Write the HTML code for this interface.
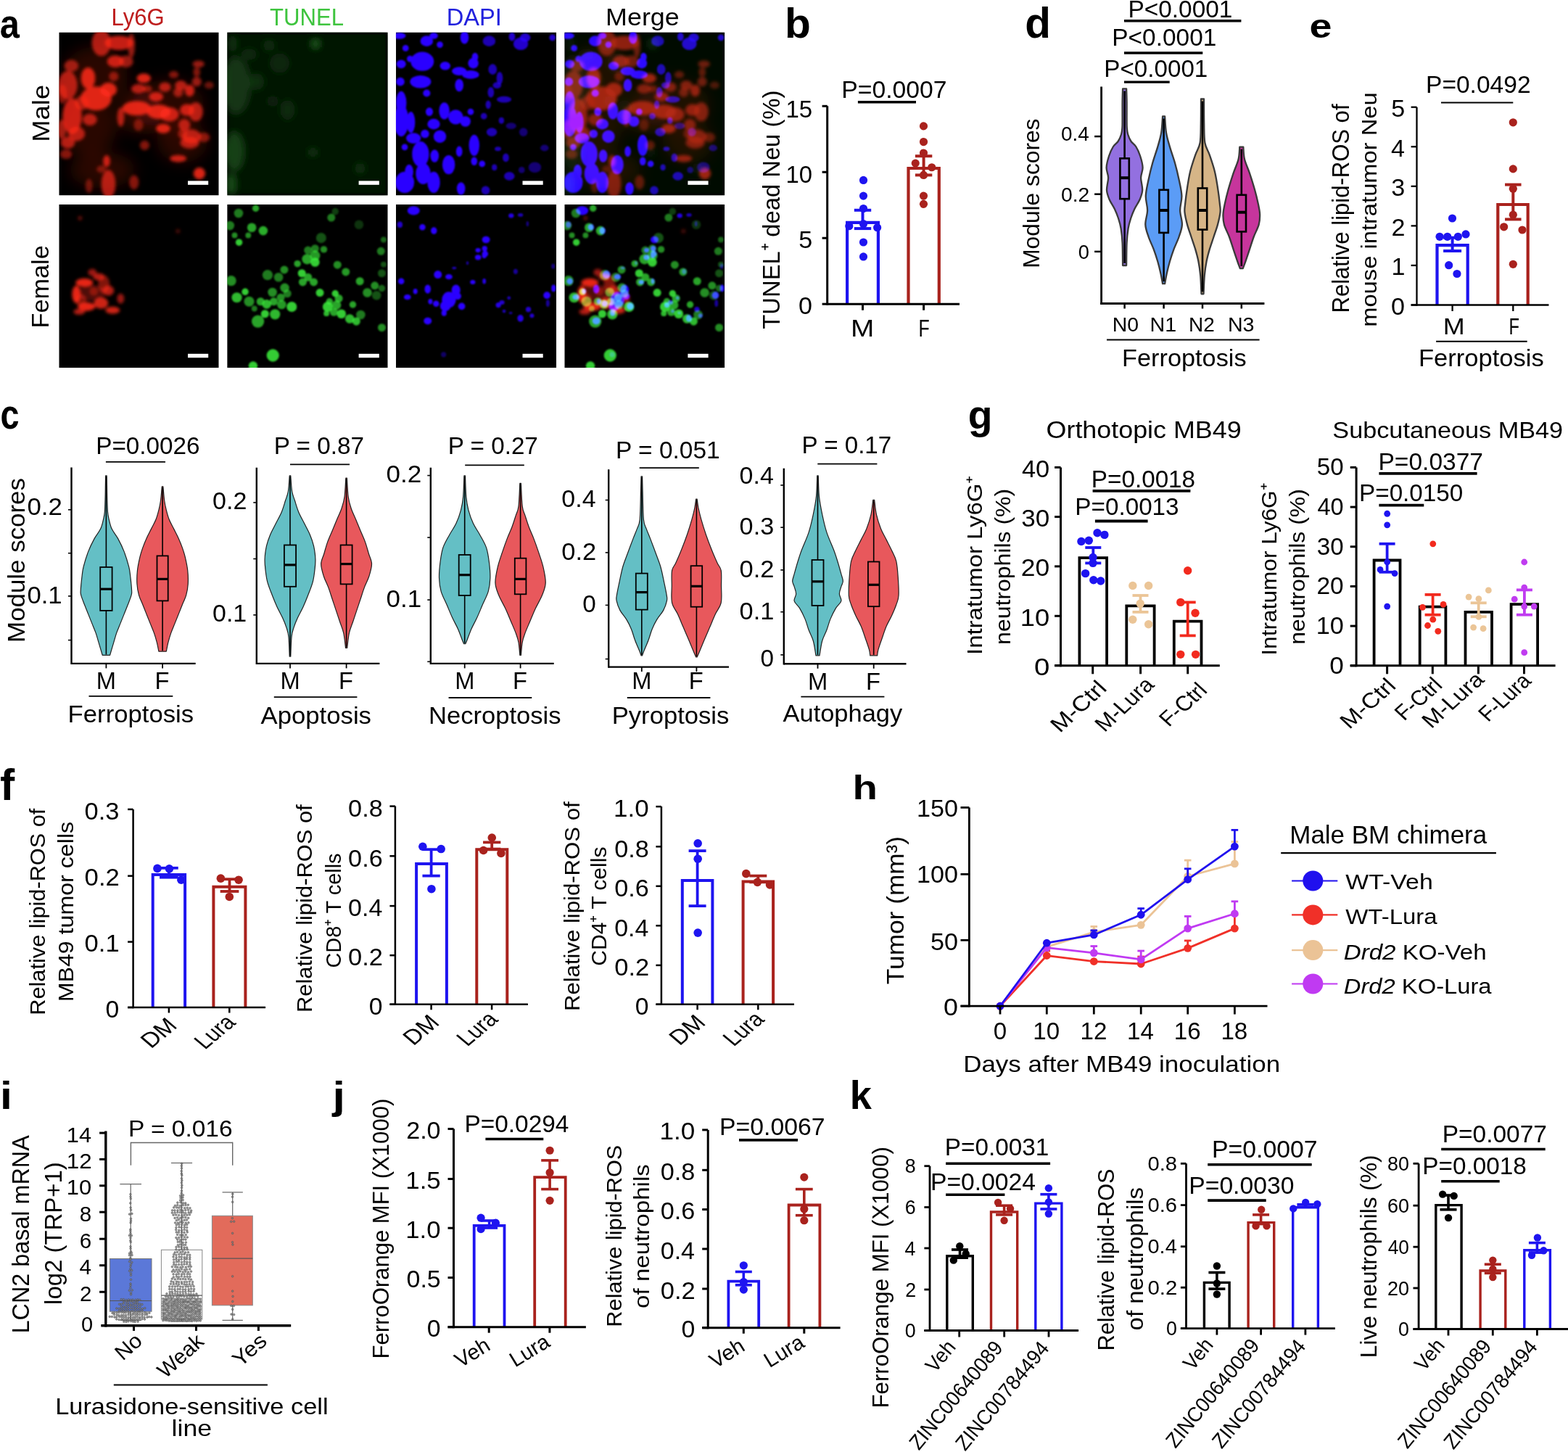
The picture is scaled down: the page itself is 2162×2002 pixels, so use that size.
<!DOCTYPE html>
<html><head><meta charset="utf-8"><title>Figure</title>
<style>html,body{margin:0;padding:0;background:#fff;}svg{display:block;}text{font-family:'Liberation Sans',sans-serif;}</style>
</head><body>
<svg xmlns="http://www.w3.org/2000/svg" xmlns:xlink="http://www.w3.org/1999/xlink" width="2162" height="2002" viewBox="0 0 2162 2002">
<rect x="0" y="0" width="2162" height="2002" fill="#fff"/>
<defs>
<filter id="bl2" x="-20%" y="-20%" width="140%" height="140%"><feGaussianBlur stdDeviation="2.2"/></filter>
<filter id="bl1" x="-20%" y="-20%" width="140%" height="140%"><feGaussianBlur stdDeviation="1.1"/></filter>
<filter id="bl4" x="-20%" y="-20%" width="140%" height="140%"><feGaussianBlur stdDeviation="5"/></filter>
<filter id="bl8" x="-50%" y="-50%" width="200%" height="200%"><feGaussianBlur stdDeviation="10"/></filter>
<g id="mR">
<g filter="url(#bl8)">
<ellipse cx="50" cy="60" rx="45" ry="40" fill="#ff2a1a" fill-opacity="0.16"/>
<ellipse cx="40" cy="130" rx="40" ry="40" fill="#ff2a1a" fill-opacity="0.16"/>
<ellipse cx="150" cy="100" rx="50" ry="35" fill="#ff2a1a" fill-opacity="0.16"/>
<ellipse cx="170" cy="150" rx="35" ry="30" fill="#ff2a1a" fill-opacity="0.16"/>
<ellipse cx="60" cy="190" rx="45" ry="25" fill="#ff2a1a" fill-opacity="0.16"/>
<ellipse cx="110" cy="110" rx="30" ry="30" fill="#ff2a1a" fill-opacity="0.16"/>
</g><g filter="url(#bl2)">
<ellipse cx="58.45" cy="14.61" rx="13.15" ry="18.08" fill="#ff2a1a" fill-opacity="0.68"/>
<ellipse cx="82.8" cy="14.61" rx="19.73" ry="9.86" fill="#ff2a1a" fill-opacity="0.77"/>
<ellipse cx="99.85" cy="18.26" rx="4.93" ry="16.44" fill="#ff2a1a" fill-opacity="0.59"/>
<ellipse cx="77.93" cy="40.18" rx="11.51" ry="8.22" fill="#ff2a1a" fill-opacity="0.77"/>
<ellipse cx="92.54" cy="40.18" rx="9.86" ry="8.22" fill="#ff2a1a" fill-opacity="0.59"/>
<ellipse cx="17.05" cy="46.27" rx="9.86" ry="8.22" fill="#ff2a1a" fill-opacity="0.59"/>
<ellipse cx="40.18" cy="63.31" rx="9.86" ry="14.79" fill="#ff2a1a" fill-opacity="0.85"/>
<ellipse cx="12.18" cy="73.05" rx="13.15" ry="19.72" fill="#ff2a1a" fill-opacity="0.68"/>
<ellipse cx="51.14" cy="91.31" rx="21.37" ry="16.44" fill="#ff2a1a" fill-opacity="0.85"/>
<ellipse cx="68.19" cy="79.14" rx="11.51" ry="9.86" fill="#ff2a1a" fill-opacity="0.85"/>
<ellipse cx="18.26" cy="115.67" rx="13.15" ry="24.66" fill="#ff2a1a" fill-opacity="0.77"/>
<ellipse cx="42.62" cy="120.54" rx="9.86" ry="8.22" fill="#ff2a1a" fill-opacity="0.68"/>
<ellipse cx="24.35" cy="140.02" rx="11.51" ry="9.86" fill="#ff2a1a" fill-opacity="0.68"/>
<ellipse cx="12.18" cy="152.19" rx="9.86" ry="8.22" fill="#ff2a1a" fill-opacity="0.68"/>
<ellipse cx="116.89" cy="63.31" rx="9.86" ry="6.57" fill="#ff2a1a" fill-opacity="0.85"/>
<ellipse cx="109.59" cy="77.92" rx="9.86" ry="6.57" fill="#ff2a1a" fill-opacity="0.68"/>
<ellipse cx="107.15" cy="104.71" rx="19.73" ry="9.86" fill="#ff2a1a" fill-opacity="0.85"/>
<ellipse cx="133.94" cy="88.88" rx="9.86" ry="6.57" fill="#ff2a1a" fill-opacity="0.77"/>
<ellipse cx="146.12" cy="75.49" rx="8.22" ry="6.57" fill="#ff2a1a" fill-opacity="0.68"/>
<ellipse cx="158.29" cy="58.44" rx="6.58" ry="4.93" fill="#ff2a1a" fill-opacity="0.51"/>
<ellipse cx="168.03" cy="73.05" rx="8.22" ry="6.57" fill="#ff2a1a" fill-opacity="0.68"/>
<ellipse cx="180.21" cy="80.36" rx="6.58" ry="8.22" fill="#ff2a1a" fill-opacity="0.77"/>
<ellipse cx="189.95" cy="68.18" rx="6.58" ry="6.57" fill="#ff2a1a" fill-opacity="0.59"/>
<ellipse cx="192.39" cy="43.83" rx="8.22" ry="4.93" fill="#ff2a1a" fill-opacity="0.59"/>
<ellipse cx="189.95" cy="54.79" rx="4.93" ry="6.57" fill="#ff2a1a" fill-opacity="0.51"/>
<ellipse cx="137.59" cy="109.58" rx="16.44" ry="9.86" fill="#ff2a1a" fill-opacity="0.85"/>
<ellipse cx="152.2" cy="113.23" rx="13.15" ry="9.86" fill="#ff2a1a" fill-opacity="0.77"/>
<ellipse cx="176.56" cy="107.14" rx="9.86" ry="8.22" fill="#ff2a1a" fill-opacity="0.77"/>
<ellipse cx="188.73" cy="109.58" rx="9.86" ry="13.15" fill="#ff2a1a" fill-opacity="0.68"/>
<ellipse cx="143.68" cy="132.71" rx="9.86" ry="6.57" fill="#ff2a1a" fill-opacity="0.85"/>
<ellipse cx="172.9" cy="127.84" rx="8.22" ry="8.22" fill="#ff2a1a" fill-opacity="0.68"/>
<ellipse cx="182.64" cy="143.67" rx="13.15" ry="9.86" fill="#ff2a1a" fill-opacity="0.68"/>
<ellipse cx="180.21" cy="152.19" rx="13.15" ry="8.22" fill="#ff2a1a" fill-opacity="0.68"/>
<ellipse cx="199.69" cy="144.89" rx="8.22" ry="6.57" fill="#ff2a1a" fill-opacity="0.51"/>
<ellipse cx="164.38" cy="174.11" rx="11.51" ry="4.93" fill="#ff2a1a" fill-opacity="0.77"/>
<ellipse cx="193.6" cy="194.81" rx="8.22" ry="8.22" fill="#ff2a1a" fill-opacity="0.85"/>
<ellipse cx="65.75" cy="177.76" rx="4.93" ry="8.22" fill="#ff2a1a" fill-opacity="0.77"/>
<ellipse cx="68.19" cy="209.42" rx="9.86" ry="19.72" fill="#ff2a1a" fill-opacity="0.68"/>
<ellipse cx="103.5" cy="206.98" rx="6.58" ry="9.86" fill="#ff2a1a" fill-opacity="0.51"/>
<ellipse cx="118.11" cy="155.84" rx="6.58" ry="6.57" fill="#ff2a1a" fill-opacity="0.51"/>
<ellipse cx="109.59" cy="127.84" rx="6.58" ry="8.22" fill="#ff2a1a" fill-opacity="0.42"/>
<ellipse cx="85.23" cy="116.88" rx="4.93" ry="13.15" fill="#ff2a1a" fill-opacity="0.68"/>
<ellipse cx="41.4" cy="211.85" rx="4.93" ry="9.86" fill="#ff2a1a" fill-opacity="0.42"/>
<ellipse cx="9.74" cy="168.02" rx="8.22" ry="6.57" fill="#ff2a1a" fill-opacity="0.51"/>
<ellipse cx="58.45" cy="188.72" rx="6.58" ry="4.93" fill="#ff2a1a" fill-opacity="0.42"/>
<ellipse cx="4.87" cy="85.23" rx="6.58" ry="13.15" fill="#ff2a1a" fill-opacity="0.51"/>
<ellipse cx="31.66" cy="97.4" rx="9.86" ry="9.86" fill="#ff2a1a" fill-opacity="0.59"/>
<ellipse cx="3.65" cy="133.93" rx="6.58" ry="13.15" fill="#ff2a1a" fill-opacity="0.59"/>
<ellipse cx="75.49" cy="60.88" rx="6.58" ry="6.57" fill="#ff2a1a" fill-opacity="0.51"/>
<ellipse cx="121.76" cy="77.92" rx="6.58" ry="4.93" fill="#ff2a1a" fill-opacity="0.51"/>
<ellipse cx="164.38" cy="82.79" rx="6.58" ry="6.57" fill="#ff2a1a" fill-opacity="0.59"/>
<ellipse cx="207" cy="73.05" rx="6.58" ry="4.93" fill="#ff2a1a" fill-opacity="0.42"/>
<ellipse cx="170.47" cy="140.02" rx="6.58" ry="6.57" fill="#ff2a1a" fill-opacity="0.51"/>
</g></g>
<g id="mB" filter="url(#bl1)">
<ellipse cx="7.27" cy="43.83" rx="6.55" ry="5.84" fill="#2a00ff" fill-opacity="1"/>
<ellipse cx="36.37" cy="40.18" rx="16" ry="13.15" fill="#2a00ff" fill-opacity="1"/>
<ellipse cx="33.94" cy="68.18" rx="14.55" ry="8.77" fill="#2a00ff" fill-opacity="1"/>
<ellipse cx="6.06" cy="68.18" rx="5.82" ry="5.84" fill="#2a00ff" fill-opacity="1"/>
<ellipse cx="42.43" cy="84.01" rx="5.09" ry="5.11" fill="#2a00ff" fill-opacity="1"/>
<ellipse cx="7.27" cy="97.4" rx="7.27" ry="16.07" fill="#2a00ff" fill-opacity="1"/>
<ellipse cx="7.27" cy="121.75" rx="10.18" ry="21.92" fill="#2a00ff" fill-opacity="1"/>
<ellipse cx="20.61" cy="124.19" rx="5.82" ry="14.61" fill="#2a00ff" fill-opacity="1"/>
<ellipse cx="24.25" cy="146.1" rx="10.18" ry="7.31" fill="#2a00ff" fill-opacity="1"/>
<ellipse cx="12.12" cy="158.28" rx="4.36" ry="4.38" fill="#2a00ff" fill-opacity="1"/>
<ellipse cx="33.94" cy="168.02" rx="11.64" ry="17.53" fill="#2a00ff" fill-opacity="1"/>
<ellipse cx="40.01" cy="140.02" rx="5.82" ry="5.84" fill="#2a00ff" fill-opacity="1"/>
<ellipse cx="52.13" cy="126.62" rx="8.73" ry="7.31" fill="#2a00ff" fill-opacity="1"/>
<ellipse cx="46.07" cy="109.58" rx="5.09" ry="5.84" fill="#2a00ff" fill-opacity="1"/>
<ellipse cx="53.34" cy="170.45" rx="5.82" ry="8.77" fill="#2a00ff" fill-opacity="1"/>
<ellipse cx="60.61" cy="143.67" rx="8.73" ry="8.77" fill="#2a00ff" fill-opacity="1"/>
<ellipse cx="18.18" cy="192.37" rx="5.82" ry="10.23" fill="#2a00ff" fill-opacity="1"/>
<ellipse cx="37.58" cy="194.81" rx="10.18" ry="14.61" fill="#2a00ff" fill-opacity="1"/>
<ellipse cx="12.12" cy="206.98" rx="13.09" ry="14.61" fill="#2a00ff" fill-opacity="1"/>
<ellipse cx="52.13" cy="206.98" rx="8.73" ry="14.61" fill="#2a00ff" fill-opacity="1"/>
<ellipse cx="42.43" cy="12.18" rx="8.73" ry="7.31" fill="#2a00ff" fill-opacity="1"/>
<ellipse cx="13.34" cy="21.92" rx="4.36" ry="4.38" fill="#2a00ff" fill-opacity="1"/>
<ellipse cx="19.4" cy="36.53" rx="4.36" ry="4.38" fill="#2a00ff" fill-opacity="1"/>
<ellipse cx="60.61" cy="17.05" rx="4.36" ry="4.38" fill="#2a00ff" fill-opacity="1"/>
<ellipse cx="67.89" cy="46.27" rx="7.27" ry="5.84" fill="#2a00ff" fill-opacity="1"/>
<ellipse cx="87.28" cy="53.57" rx="10.18" ry="5.84" fill="#2a00ff" fill-opacity="1"/>
<ellipse cx="103.04" cy="58.44" rx="11.64" ry="5.84" fill="#2a00ff" fill-opacity="1"/>
<ellipse cx="87.28" cy="73.05" rx="5.82" ry="8.77" fill="#2a00ff" fill-opacity="1"/>
<ellipse cx="66.68" cy="108.36" rx="7.27" ry="11.69" fill="#2a00ff" fill-opacity="1"/>
<ellipse cx="82.44" cy="116.88" rx="10.18" ry="10.23" fill="#2a00ff" fill-opacity="1"/>
<ellipse cx="95.77" cy="122.97" rx="7.27" ry="7.31" fill="#2a00ff" fill-opacity="1"/>
<ellipse cx="103.04" cy="109.58" rx="4.36" ry="4.38" fill="#2a00ff" fill-opacity="1"/>
<ellipse cx="106.68" cy="42.61" rx="7.27" ry="7.31" fill="#2a00ff" fill-opacity="1"/>
<ellipse cx="109.11" cy="34.09" rx="4.36" ry="5.84" fill="#2a00ff" fill-opacity="1"/>
<ellipse cx="94.56" cy="7.31" rx="5.82" ry="8.77" fill="#2a00ff" fill-opacity="1"/>
<ellipse cx="128.5" cy="12.18" rx="8.73" ry="7.31" fill="#2a00ff" fill-opacity="0.7"/>
<ellipse cx="133.35" cy="51.14" rx="5.82" ry="7.31" fill="#2a00ff" fill-opacity="0.7"/>
<ellipse cx="130.93" cy="82.79" rx="4.36" ry="7.31" fill="#2a00ff" fill-opacity="0.7"/>
<ellipse cx="127.29" cy="99.84" rx="3.64" ry="5.84" fill="#2a00ff" fill-opacity="0.7"/>
<ellipse cx="121.23" cy="115.67" rx="4.36" ry="4.38" fill="#2a00ff" fill-opacity="0.7"/>
<ellipse cx="107.89" cy="155.84" rx="7.27" ry="14.61" fill="#2a00ff" fill-opacity="1"/>
<ellipse cx="72.74" cy="182.63" rx="8.73" ry="13.15" fill="#2a00ff" fill-opacity="1"/>
<ellipse cx="87.28" cy="164.37" rx="4.36" ry="7.31" fill="#2a00ff" fill-opacity="1"/>
<ellipse cx="107.89" cy="177.76" rx="4.36" ry="5.84" fill="#2a00ff" fill-opacity="1"/>
<ellipse cx="118.8" cy="181.41" rx="4.36" ry="4.38" fill="#2a00ff" fill-opacity="1"/>
<ellipse cx="132.14" cy="137.58" rx="7.27" ry="5.84" fill="#2a00ff" fill-opacity="0.7"/>
<ellipse cx="149.11" cy="92.53" rx="10.18" ry="4.38" fill="#2a00ff" fill-opacity="0.7"/>
<ellipse cx="145.47" cy="121.75" rx="3.64" ry="4.38" fill="#2a00ff" fill-opacity="0.7"/>
<ellipse cx="158.81" cy="129.06" rx="7.27" ry="4.38" fill="#2a00ff" fill-opacity="0.45"/>
<ellipse cx="175.78" cy="137.58" rx="5.82" ry="5.84" fill="#2a00ff" fill-opacity="0.45"/>
<ellipse cx="151.54" cy="172.89" rx="4.36" ry="5.84" fill="#2a00ff" fill-opacity="0.7"/>
<ellipse cx="135.78" cy="186.28" rx="3.64" ry="4.38" fill="#2a00ff" fill-opacity="0.7"/>
<ellipse cx="156.39" cy="198.46" rx="7.27" ry="5.84" fill="#2a00ff" fill-opacity="0.7"/>
<ellipse cx="191.54" cy="186.28" rx="8.73" ry="7.31" fill="#2a00ff" fill-opacity="0.45"/>
<ellipse cx="204.88" cy="159.5" rx="5.82" ry="4.38" fill="#2a00ff" fill-opacity="0.45"/>
<ellipse cx="172.14" cy="15.83" rx="10.18" ry="8.77" fill="#2a00ff" fill-opacity="0.8"/>
<ellipse cx="178.21" cy="7.31" rx="7.27" ry="5.84" fill="#2a00ff" fill-opacity="0.8"/>
<ellipse cx="160.02" cy="6.09" rx="4.36" ry="5.84" fill="#2a00ff" fill-opacity="0.8"/>
<ellipse cx="215.79" cy="7.31" rx="4.36" ry="4.38" fill="#2a00ff" fill-opacity="0.8"/>
<ellipse cx="140.63" cy="160.71" rx="4.36" ry="2.92" fill="#2a00ff" fill-opacity="0.7"/>
<ellipse cx="89.71" cy="215.5" rx="5.82" ry="8.77" fill="#2a00ff" fill-opacity="1"/>
<ellipse cx="123.65" cy="217.94" rx="5.82" ry="5.84" fill="#2a00ff" fill-opacity="0.7"/>
<ellipse cx="173.36" cy="189.94" rx="4.36" ry="4.38" fill="#2a00ff" fill-opacity="0.45"/>
<ellipse cx="143.05" cy="63.31" rx="4.36" ry="8.77" fill="#2a00ff" fill-opacity="0.7"/>
<ellipse cx="139.41" cy="73.05" rx="5.82" ry="4.38" fill="#2a00ff" fill-opacity="0.7"/>
<ellipse cx="4.85" cy="4.87" rx="8.73" ry="4.38" fill="#2a00ff" fill-opacity="1"/>
<ellipse cx="52.13" cy="4.87" rx="5.82" ry="4.38" fill="#2a00ff" fill-opacity="1"/>
</g>
<g id="mG" filter="url(#bl4)">
<rect x="0" y="0" width="221" height="225" fill="#061206"/>
<ellipse cx="12.06" cy="73.05" rx="19.3" ry="38.96" fill="#3fb03f" fill-opacity="0.22"/>
<ellipse cx="9.65" cy="164.37" rx="13.27" ry="26.79" fill="#3fb03f" fill-opacity="0.3"/>
<ellipse cx="4.83" cy="209.42" rx="7.24" ry="14.61" fill="#3fb03f" fill-opacity="0.35"/>
<ellipse cx="39.81" cy="68.18" rx="10.86" ry="10.96" fill="#3fb03f" fill-opacity="0.18"/>
<ellipse cx="121.84" cy="15.83" rx="4.83" ry="5.48" fill="#3fb03f" fill-opacity="0.5"/>
<ellipse cx="72.38" cy="42.61" rx="13.27" ry="13.39" fill="#3fb03f" fill-opacity="0.13"/>
<ellipse cx="83.24" cy="107.14" rx="9.65" ry="13.39" fill="#3fb03f" fill-opacity="0.15"/>
<ellipse cx="118.22" cy="165.58" rx="6.63" ry="4.26" fill="#3fb03f" fill-opacity="0.25"/>
<ellipse cx="183.36" cy="187.5" rx="6.63" ry="6.7" fill="#3fb03f" fill-opacity="0.2"/>
<ellipse cx="57.9" cy="18.26" rx="7.24" ry="7.31" fill="#3fb03f" fill-opacity="0.18"/>
<ellipse cx="7.24" cy="15.83" rx="6.03" ry="10.96" fill="#3fb03f" fill-opacity="0.2"/>
<ellipse cx="30.16" cy="30.44" rx="10.86" ry="7.31" fill="#3fb03f" fill-opacity="0.15"/>
<ellipse cx="62.73" cy="94.97" rx="7.24" ry="7.31" fill="#3fb03f" fill-opacity="0.12"/>
</g>
<g id="fG" filter="url(#bl1)">
<circle cx="33.93" cy="31.9" r="6.3" fill="#3cf03c" fill-opacity="0.68"/>
<circle cx="49.68" cy="36.28" r="6.3" fill="#3cf03c" fill-opacity="0.72"/>
<circle cx="3.63" cy="29.22" r="6.3" fill="#3cf03c" fill-opacity="0.51"/>
<circle cx="16.36" cy="52.35" r="4.73" fill="#3cf03c" fill-opacity="0.85"/>
<circle cx="10.3" cy="42.61" r="3.94" fill="#3cf03c" fill-opacity="0.59"/>
<circle cx="29.08" cy="42.61" r="3.94" fill="#3cf03c" fill-opacity="0.59"/>
<circle cx="15.75" cy="12.18" r="6.3" fill="#3cf03c" fill-opacity="0.51"/>
<circle cx="39.38" cy="5.48" r="4.73" fill="#3cf03c" fill-opacity="0.68"/>
<circle cx="96.93" cy="81.82" r="4.73" fill="#3cf03c" fill-opacity="0.68"/>
<circle cx="110.26" cy="75.49" r="7.09" fill="#3cf03c" fill-opacity="0.68"/>
<circle cx="121.16" cy="70.62" r="7.09" fill="#3cf03c" fill-opacity="0.64"/>
<circle cx="121.16" cy="79.75" r="6.3" fill="#3cf03c" fill-opacity="0.85"/>
<circle cx="121.16" cy="60.88" r="5.51" fill="#3cf03c" fill-opacity="0.51"/>
<circle cx="111.47" cy="63.31" r="5.51" fill="#3cf03c" fill-opacity="0.51"/>
<circle cx="133.28" cy="62.09" r="4.73" fill="#3cf03c" fill-opacity="0.59"/>
<circle cx="129.64" cy="46.27" r="7.09" fill="#3cf03c" fill-opacity="0.34"/>
<circle cx="143.58" cy="18.26" r="5.51" fill="#3cf03c" fill-opacity="0.51"/>
<circle cx="78.76" cy="90.1" r="5.51" fill="#3cf03c" fill-opacity="0.59"/>
<circle cx="55.73" cy="97.4" r="7.09" fill="#3cf03c" fill-opacity="0.51"/>
<circle cx="70.88" cy="100.45" r="6.3" fill="#3cf03c" fill-opacity="0.51"/>
<circle cx="102.99" cy="94.97" r="5.51" fill="#3cf03c" fill-opacity="0.85"/>
<circle cx="111.47" cy="100.45" r="5.51" fill="#3cf03c" fill-opacity="0.68"/>
<circle cx="104.2" cy="107.14" r="5.51" fill="#3cf03c" fill-opacity="0.68"/>
<circle cx="119.34" cy="107.14" r="5.51" fill="#3cf03c" fill-opacity="0.68"/>
<circle cx="152.06" cy="83.4" r="5.51" fill="#3cf03c" fill-opacity="0.59"/>
<circle cx="163.57" cy="93.14" r="5.51" fill="#3cf03c" fill-opacity="0.64"/>
<circle cx="182.96" cy="105.93" r="5.51" fill="#3cf03c" fill-opacity="0.68"/>
<circle cx="212.03" cy="64.53" r="5.51" fill="#3cf03c" fill-opacity="0.51"/>
<circle cx="213.25" cy="94.97" r="5.51" fill="#3cf03c" fill-opacity="0.34"/>
<circle cx="5.45" cy="105.32" r="7.09" fill="#3cf03c" fill-opacity="0.59"/>
<circle cx="24.84" cy="120.54" r="4.73" fill="#3cf03c" fill-opacity="0.85"/>
<circle cx="13.33" cy="128.45" r="7.09" fill="#3cf03c" fill-opacity="0.77"/>
<circle cx="30.29" cy="133.93" r="7.09" fill="#3cf03c" fill-opacity="0.59"/>
<circle cx="46.04" cy="133.93" r="5.51" fill="#3cf03c" fill-opacity="0.68"/>
<circle cx="54.52" cy="137.58" r="6.3" fill="#3cf03c" fill-opacity="0.77"/>
<circle cx="64.22" cy="133.93" r="5.51" fill="#3cf03c" fill-opacity="0.68"/>
<circle cx="62.4" cy="121.14" r="6.3" fill="#3cf03c" fill-opacity="0.59"/>
<circle cx="79.36" cy="115.06" r="6.3" fill="#3cf03c" fill-opacity="0.59"/>
<circle cx="73.91" cy="128.45" r="5.51" fill="#3cf03c" fill-opacity="0.59"/>
<circle cx="83" cy="122.97" r="5.51" fill="#3cf03c" fill-opacity="0.51"/>
<circle cx="75.12" cy="138.19" r="6.3" fill="#3cf03c" fill-opacity="0.64"/>
<circle cx="89.05" cy="141.23" r="7.09" fill="#3cf03c" fill-opacity="0.85"/>
<circle cx="37.56" cy="143.67" r="3.94" fill="#3cf03c" fill-opacity="0.51"/>
<circle cx="52.1" cy="150.97" r="5.51" fill="#3cf03c" fill-opacity="0.85"/>
<circle cx="66.03" cy="151.58" r="7.09" fill="#3cf03c" fill-opacity="0.77"/>
<circle cx="42.41" cy="161.32" r="8.66" fill="#3cf03c" fill-opacity="0.68"/>
<circle cx="127.83" cy="121.75" r="5.51" fill="#3cf03c" fill-opacity="0.85"/>
<circle cx="149.03" cy="122.97" r="4.73" fill="#3cf03c" fill-opacity="0.85"/>
<circle cx="153.88" cy="129.67" r="5.51" fill="#3cf03c" fill-opacity="0.68"/>
<circle cx="141.15" cy="133.93" r="4.73" fill="#3cf03c" fill-opacity="0.68"/>
<circle cx="138.73" cy="141.23" r="7.09" fill="#3cf03c" fill-opacity="0.85"/>
<circle cx="150.85" cy="138.8" r="6.3" fill="#3cf03c" fill-opacity="0.68"/>
<circle cx="147.21" cy="148.54" r="5.51" fill="#3cf03c" fill-opacity="0.68"/>
<circle cx="157.51" cy="150.97" r="6.3" fill="#3cf03c" fill-opacity="0.85"/>
<circle cx="136.91" cy="150.37" r="3.94" fill="#3cf03c" fill-opacity="0.77"/>
<circle cx="169.02" cy="157.67" r="6.3" fill="#3cf03c" fill-opacity="0.77"/>
<circle cx="178.11" cy="161.32" r="5.51" fill="#3cf03c" fill-opacity="0.77"/>
<circle cx="173.26" cy="138.19" r="4.73" fill="#3cf03c" fill-opacity="0.68"/>
<circle cx="184.17" cy="152.19" r="6.3" fill="#3cf03c" fill-opacity="0.51"/>
<circle cx="193.25" cy="121.75" r="6.3" fill="#3cf03c" fill-opacity="0.59"/>
<circle cx="203.55" cy="112.01" r="5.51" fill="#3cf03c" fill-opacity="0.59"/>
<circle cx="205.98" cy="125.41" r="6.3" fill="#3cf03c" fill-opacity="0.34"/>
<circle cx="213.25" cy="169.85" r="5.51" fill="#3cf03c" fill-opacity="0.59"/>
<circle cx="213.25" cy="115.67" r="4.73" fill="#3cf03c" fill-opacity="0.42"/>
<circle cx="63" cy="208.2" r="8.66" fill="#3cf03c" fill-opacity="0.85"/>
<circle cx="35.74" cy="222.81" r="6.3" fill="#3cf03c" fill-opacity="0.85"/>
<circle cx="149.03" cy="9.74" r="4.73" fill="#3cf03c" fill-opacity="0.26"/>
<circle cx="181.74" cy="28" r="6.3" fill="#3cf03c" fill-opacity="0.21"/>
<circle cx="215.67" cy="48.7" r="3.94" fill="#3cf03c" fill-opacity="0.42"/>
<circle cx="215.67" cy="82.79" r="3.94" fill="#3cf03c" fill-opacity="0.34"/>
</g>
<g id="fB" filter="url(#bl1)">
<ellipse cx="24.35" cy="8.52" rx="8.52" ry="6.09" fill="#2a00ff" fill-opacity="1"/>
<ellipse cx="5.48" cy="28" rx="3.65" ry="4.26" fill="#2a00ff" fill-opacity="0.8"/>
<ellipse cx="36.53" cy="31.41" rx="4.26" ry="4.26" fill="#2a00ff" fill-opacity="1"/>
<ellipse cx="52.36" cy="36.28" rx="4.26" ry="4.87" fill="#2a00ff" fill-opacity="1"/>
<ellipse cx="158.9" cy="15.58" rx="3.65" ry="3.04" fill="#2a00ff" fill-opacity="0.9"/>
<ellipse cx="171.69" cy="14.61" rx="3.65" ry="2.44" fill="#2a00ff" fill-opacity="0.7"/>
<ellipse cx="181.43" cy="26.79" rx="1.83" ry="3.65" fill="#2a00ff" fill-opacity="0.5"/>
<ellipse cx="124.2" cy="48.7" rx="5.48" ry="4.87" fill="#2a00ff" fill-opacity="1"/>
<ellipse cx="113.24" cy="63.31" rx="3.65" ry="3.04" fill="#2a00ff" fill-opacity="1"/>
<ellipse cx="122.37" cy="60.88" rx="3.65" ry="3.65" fill="#2a00ff" fill-opacity="1"/>
<ellipse cx="122.98" cy="68.18" rx="4.26" ry="4.26" fill="#2a00ff" fill-opacity="1"/>
<ellipse cx="113.24" cy="73.05" rx="4.26" ry="3.65" fill="#2a00ff" fill-opacity="1"/>
<ellipse cx="121.76" cy="70.62" rx="3.04" ry="3.65" fill="#2a00ff" fill-opacity="1"/>
<ellipse cx="98.63" cy="80.97" rx="1.83" ry="2.44" fill="#2a00ff" fill-opacity="0.6"/>
<ellipse cx="80.36" cy="87.66" rx="3.04" ry="1.83" fill="#2a00ff" fill-opacity="0.7"/>
<ellipse cx="57.84" cy="96.79" rx="5.48" ry="5.48" fill="#2a00ff" fill-opacity="1"/>
<ellipse cx="73.06" cy="99.84" rx="4.87" ry="3.65" fill="#2a00ff" fill-opacity="1"/>
<ellipse cx="7.31" cy="105.93" rx="4.26" ry="4.26" fill="#2a00ff" fill-opacity="1"/>
<ellipse cx="43.83" cy="116.88" rx="4.26" ry="6.09" fill="#2a00ff" fill-opacity="1"/>
<ellipse cx="26.79" cy="119.93" rx="3.04" ry="3.65" fill="#2a00ff" fill-opacity="1"/>
<ellipse cx="15.83" cy="127.84" rx="4.87" ry="3.65" fill="#2a00ff" fill-opacity="1"/>
<ellipse cx="47.49" cy="133.93" rx="3.04" ry="3.65" fill="#2a00ff" fill-opacity="1"/>
<ellipse cx="55.4" cy="136.97" rx="4.26" ry="4.26" fill="#2a00ff" fill-opacity="1"/>
<ellipse cx="73.06" cy="131.49" rx="9.74" ry="10.96" fill="#2a00ff" fill-opacity="1"/>
<ellipse cx="82.8" cy="118.1" rx="6.09" ry="7.31" fill="#2a00ff" fill-opacity="1"/>
<ellipse cx="85.23" cy="126.62" rx="4.87" ry="4.87" fill="#2a00ff" fill-opacity="1"/>
<ellipse cx="68.19" cy="140.02" rx="7.31" ry="7.31" fill="#2a00ff" fill-opacity="1"/>
<ellipse cx="66.36" cy="149.76" rx="3.65" ry="4.26" fill="#2a00ff" fill-opacity="1"/>
<ellipse cx="90.71" cy="140.62" rx="4.87" ry="4.87" fill="#2a00ff" fill-opacity="1"/>
<ellipse cx="43.83" cy="160.71" rx="5.48" ry="4.87" fill="#2a00ff" fill-opacity="1"/>
<ellipse cx="105.93" cy="107.14" rx="3.65" ry="3.04" fill="#2a00ff" fill-opacity="1"/>
<ellipse cx="121.76" cy="105.93" rx="2.44" ry="3.65" fill="#2a00ff" fill-opacity="0.9"/>
<ellipse cx="141.25" cy="138.8" rx="3.65" ry="3.65" fill="#2a00ff" fill-opacity="0.9"/>
<ellipse cx="146.12" cy="135.15" rx="3.65" ry="3.04" fill="#2a00ff" fill-opacity="0.8"/>
<ellipse cx="155.86" cy="129.06" rx="2.44" ry="2.44" fill="#2a00ff" fill-opacity="0.7"/>
<ellipse cx="149.16" cy="147.32" rx="2.44" ry="2.44" fill="#2a00ff" fill-opacity="0.7"/>
<ellipse cx="158.29" cy="149.76" rx="2.44" ry="1.83" fill="#2a00ff" fill-opacity="0.6"/>
<ellipse cx="171.69" cy="157.06" rx="4.26" ry="4.87" fill="#2a00ff" fill-opacity="0.9"/>
<ellipse cx="182.64" cy="144.89" rx="3.65" ry="3.65" fill="#2a00ff" fill-opacity="0.8"/>
<ellipse cx="187.52" cy="153.41" rx="3.04" ry="3.04" fill="#2a00ff" fill-opacity="0.8"/>
<ellipse cx="208.21" cy="125.41" rx="4.87" ry="4.87" fill="#2a00ff" fill-opacity="1"/>
<ellipse cx="217.35" cy="115.67" rx="3.04" ry="4.87" fill="#2a00ff" fill-opacity="1"/>
<ellipse cx="164.99" cy="92.53" rx="3.04" ry="3.65" fill="#2a00ff" fill-opacity="0.6"/>
<ellipse cx="65.75" cy="206.98" rx="3.65" ry="3.65" fill="#2a00ff" fill-opacity="0.4"/>
<ellipse cx="216.74" cy="85.23" rx="2.44" ry="3.65" fill="#2a00ff" fill-opacity="0.5"/>
<ellipse cx="209.43" cy="136.36" rx="2.44" ry="4.87" fill="#2a00ff" fill-opacity="0.6"/>
</g>
<g id="fR" filter="url(#bl2)">
<ellipse cx="45" cy="122" rx="18" ry="11" fill="#ff2a1a" fill-opacity="0.3"/>
<ellipse cx="62" cy="110" rx="8" ry="12" fill="#ff2a1a" fill-opacity="0.5"/>
<ellipse cx="30" cy="132" rx="8" ry="8" fill="#ff2a1a" fill-opacity="0.5"/>
<ellipse cx="35" cy="108" rx="12" ry="6" fill="#ff2a1a" fill-opacity="0.9"/>
<ellipse cx="24" cy="124" rx="6" ry="12" fill="#ff2a1a" fill-opacity="0.9"/>
<ellipse cx="38" cy="141" rx="12" ry="6" fill="#ff2a1a" fill-opacity="0.9"/>
<ellipse cx="58" cy="136" rx="10" ry="8" fill="#ff2a1a" fill-opacity="0.8"/>
<ellipse cx="68" cy="119" rx="8" ry="7" fill="#ff2a1a" fill-opacity="0.7"/>
<ellipse cx="74" cy="146" rx="10" ry="5" fill="#ff2a1a" fill-opacity="0.8"/>
<ellipse cx="55" cy="100" rx="8" ry="5" fill="#ff2a1a" fill-opacity="0.7"/>
<ellipse cx="46" cy="94" rx="6" ry="5" fill="#ff2a1a" fill-opacity="0.6"/>
<ellipse cx="85" cy="130" rx="5" ry="7" fill="#ff2a1a" fill-opacity="0.6"/>
<ellipse cx="28" cy="148" rx="8" ry="4" fill="#ff2a1a" fill-opacity="0.7"/>
<ellipse cx="48" cy="120" rx="6" ry="6" fill="#ff2a1a" fill-opacity="0.4"/>
<ellipse cx="29" cy="19" rx="3" ry="3" fill="#ff2a1a" fill-opacity="0.4"/>
<ellipse cx="164" cy="37" rx="3" ry="3" fill="#ff2a1a" fill-opacity="0.3"/>
<ellipse cx="30" cy="300" rx="2" ry="2" fill="#ff2a1a" fill-opacity="0"/>
</g>
<clipPath id="cp00"><rect x="81.3" y="44.5" width="220.4" height="225"/></clipPath>
<clipPath id="cp01"><rect x="81.3" y="281.8" width="220.4" height="225.3"/></clipPath>
<clipPath id="cp10"><rect x="313.2" y="44.5" width="221.5" height="225"/></clipPath>
<clipPath id="cp11"><rect x="313.2" y="281.8" width="221.5" height="225.3"/></clipPath>
<clipPath id="cp20"><rect x="545.9" y="44.5" width="221.2" height="225"/></clipPath>
<clipPath id="cp21"><rect x="545.9" y="281.8" width="221.2" height="225.3"/></clipPath>
<clipPath id="cp30"><rect x="778.3" y="44.5" width="221" height="225"/></clipPath>
<clipPath id="cp31"><rect x="778.3" y="281.8" width="221" height="225.3"/></clipPath>
</defs>
<g clip-path="url(#cp00)">
<rect x="81.3" y="44.5" width="220.4" height="225" fill="#000" stroke="none" stroke-width="0"/>
<g transform="translate(81.3 44.5) scale(1 1)" style="isolation:isolate">
<use href="#mR" style="mix-blend-mode:screen" opacity="1"/>
</g>
<rect x="259" y="249.4" width="28.2" height="5.4" fill="#fff" stroke="none" stroke-width="0"/>
</g>
<g clip-path="url(#cp10)">
<rect x="313.2" y="44.5" width="221.5" height="225" fill="#000" stroke="none" stroke-width="0"/>
<g transform="translate(313.2 44.5) scale(1 1)" style="isolation:isolate">
<use href="#mG" style="mix-blend-mode:screen" opacity="1"/>
</g>
<rect x="494.6" y="249.4" width="28.2" height="5.4" fill="#fff" stroke="none" stroke-width="0"/>
</g>
<g clip-path="url(#cp20)">
<rect x="545.9" y="44.5" width="221.2" height="225" fill="#000" stroke="none" stroke-width="0"/>
<g transform="translate(545.9 44.5) scale(1 1)" style="isolation:isolate">
<use href="#mB" style="mix-blend-mode:screen" opacity="1"/>
</g>
<rect x="720.5" y="249.4" width="28.2" height="5.4" fill="#fff" stroke="none" stroke-width="0"/>
</g>
<g clip-path="url(#cp30)">
<rect x="778.3" y="44.5" width="221" height="225" fill="#000" stroke="none" stroke-width="0"/>
<g transform="translate(778.3 44.5) scale(1 1)" style="isolation:isolate">
<use href="#mR" style="mix-blend-mode:screen" opacity="0.72"/>
<use href="#mG" style="mix-blend-mode:screen" opacity="0.5"/>
<use href="#mB" style="mix-blend-mode:screen" opacity="1"/>
</g>
<rect x="948.4" y="249.4" width="28.2" height="5.4" fill="#fff" stroke="none" stroke-width="0"/>
</g>
<g clip-path="url(#cp01)">
<rect x="81.3" y="281.8" width="220.4" height="225.3" fill="#000" stroke="none" stroke-width="0"/>
<g transform="translate(81.3 281.8) scale(1 1)" style="isolation:isolate">
<use href="#fR" style="mix-blend-mode:screen" opacity="1"/>
</g>
<rect x="259" y="487.8" width="28.2" height="5.4" fill="#fff" stroke="none" stroke-width="0"/>
</g>
<g clip-path="url(#cp11)">
<rect x="313.2" y="281.8" width="221.5" height="225.3" fill="#000" stroke="none" stroke-width="0"/>
<g transform="translate(313.2 281.8) scale(1 1)" style="isolation:isolate">
<use href="#fG" style="mix-blend-mode:screen" opacity="1"/>
</g>
<rect x="494.6" y="487.8" width="28.2" height="5.4" fill="#fff" stroke="none" stroke-width="0"/>
</g>
<g clip-path="url(#cp21)">
<rect x="545.9" y="281.8" width="221.2" height="225.3" fill="#000" stroke="none" stroke-width="0"/>
<g transform="translate(545.9 281.8) scale(1 1)" style="isolation:isolate">
<use href="#fB" style="mix-blend-mode:screen" opacity="1"/>
</g>
<rect x="720.5" y="487.8" width="28.2" height="5.4" fill="#fff" stroke="none" stroke-width="0"/>
</g>
<g clip-path="url(#cp31)">
<rect x="778.3" y="281.8" width="221" height="225.3" fill="#000" stroke="none" stroke-width="0"/>
<g transform="translate(778.3 281.8) scale(1 1)" style="isolation:isolate">
<use href="#fR" style="mix-blend-mode:screen" opacity="1"/>
<use href="#fG" style="mix-blend-mode:screen" opacity="1"/>
<use href="#fB" style="mix-blend-mode:screen" opacity="1"/>
</g>
<rect x="948.4" y="487.8" width="28.2" height="5.4" fill="#fff" stroke="none" stroke-width="0"/>
</g>
<text x="153.62" y="34.8" font-size="33.57" fill="#be1e1e" textLength="73.05" lengthAdjust="spacingAndGlyphs">Ly6G</text>
<text x="371.98" y="34.8" font-size="33.57" fill="#3ec43e" textLength="101.96" lengthAdjust="spacingAndGlyphs">TUNEL</text>
<text x="615.69" y="34.8" font-size="33.57" fill="#2222dd" textLength="76.18" lengthAdjust="spacingAndGlyphs">DAPI</text>
<text x="835.13" y="34.8" font-size="33.57" fill="#000" textLength="101.56" lengthAdjust="spacingAndGlyphs">Merge</text>
<text transform="translate(67.7 192.8) rotate(-90)" x="-2.91" y="0" font-size="33.57" fill="#000" textLength="78.84" lengthAdjust="spacingAndGlyphs">Male</text>
<text transform="translate(67.4 449.7) rotate(-90)" x="-2.74" y="0" font-size="33.57" fill="#000" textLength="114.17" lengthAdjust="spacingAndGlyphs">Female</text>
<text x="-0.16" y="51.95" font-size="55.45" fill="#000" textLength="27.13" lengthAdjust="spacingAndGlyphs" font-weight="bold">a</text>
<text x="1081.99" y="51.92" font-size="58.1" fill="#000" textLength="35.8" lengthAdjust="spacingAndGlyphs" font-weight="bold">b</text>
<path d="M1168.1 419.2 V306.8 H1210.9 V419.2" fill="#fff" stroke="#1e14f0" stroke-width="4.2" stroke-linejoin="miter"/>
<path d="M1252.5 419.2 V232 H1294.8 V419.2" fill="#fff" stroke="#a9221d" stroke-width="4.2" stroke-linejoin="miter"/>
<line x1="1189.5" y1="289.8" x2="1189.5" y2="315.1" stroke="#1e14f0" stroke-width="4" stroke-linecap="butt"/>
<line x1="1177.8" y1="289.8" x2="1201.2" y2="289.8" stroke="#1e14f0" stroke-width="4" stroke-linecap="butt"/>
<line x1="1177.8" y1="315.1" x2="1201.2" y2="315.1" stroke="#1e14f0" stroke-width="4" stroke-linecap="butt"/>
<line x1="1273.6" y1="215.2" x2="1273.6" y2="241.4" stroke="#a9221d" stroke-width="4" stroke-linecap="butt"/>
<line x1="1261.9" y1="215.2" x2="1285.3" y2="215.2" stroke="#a9221d" stroke-width="4" stroke-linecap="butt"/>
<line x1="1261.9" y1="241.4" x2="1285.3" y2="241.4" stroke="#a9221d" stroke-width="4" stroke-linecap="butt"/>
<circle cx="1190.49" cy="248.45" r="5.6" fill="#1e14f0"/>
<circle cx="1190.49" cy="270.12" r="5.6" fill="#1e14f0"/>
<circle cx="1190.49" cy="287.56" r="5.6" fill="#1e14f0"/>
<circle cx="1170.79" cy="311.76" r="5.6" fill="#1e14f0"/>
<circle cx="1209.62" cy="313.73" r="5.6" fill="#1e14f0"/>
<circle cx="1190.49" cy="308.67" r="5.6" fill="#1e14f0"/>
<circle cx="1190.49" cy="333.99" r="5.6" fill="#1e14f0"/>
<circle cx="1190.49" cy="353.97" r="5.6" fill="#1e14f0"/>
<circle cx="1273.49" cy="173.89" r="5.6" fill="#a9221d"/>
<circle cx="1273.49" cy="195.55" r="5.6" fill="#a9221d"/>
<circle cx="1273.49" cy="211.03" r="5.6" fill="#a9221d"/>
<circle cx="1262.24" cy="225.1" r="5.6" fill="#a9221d"/>
<circle cx="1284.75" cy="230.73" r="5.6" fill="#a9221d"/>
<circle cx="1273.49" cy="241.42" r="5.6" fill="#a9221d"/>
<circle cx="1273.49" cy="270.12" r="5.6" fill="#a9221d"/>
<circle cx="1273.49" cy="281.37" r="5.6" fill="#a9221d"/>
<line x1="1140.7" y1="146.3" x2="1140.7" y2="420.7" stroke="#000" stroke-width="3" stroke-linecap="butt"/>
<line x1="1133.6" y1="146.3" x2="1140.7" y2="146.3" stroke="#000" stroke-width="3" stroke-linecap="butt"/>
<line x1="1133.6" y1="237.27" x2="1140.7" y2="237.27" stroke="#000" stroke-width="3" stroke-linecap="butt"/>
<line x1="1133.6" y1="328.23" x2="1140.7" y2="328.23" stroke="#000" stroke-width="3" stroke-linecap="butt"/>
<line x1="1133.6" y1="419.2" x2="1140.7" y2="419.2" stroke="#000" stroke-width="3" stroke-linecap="butt"/>
<line x1="1140.7" y1="419.2" x2="1323" y2="419.2" stroke="#000" stroke-width="3" stroke-linecap="butt"/>
<line x1="1189.5" y1="419.2" x2="1189.5" y2="427.7" stroke="#000" stroke-width="3" stroke-linecap="butt"/>
<line x1="1273.6" y1="419.2" x2="1273.6" y2="427.7" stroke="#000" stroke-width="3" stroke-linecap="butt"/>
<text x="1083.42" y="162" font-size="34.14" fill="#000" textLength="36.78" lengthAdjust="spacingAndGlyphs">15</text>
<text x="1083.43" y="252" font-size="34.14" fill="#000" textLength="36.6" lengthAdjust="spacingAndGlyphs">10</text>
<text x="1101.22" y="341.7" font-size="34.14" fill="#000" textLength="18.99" lengthAdjust="spacingAndGlyphs">5</text>
<text x="1101.05" y="432.7" font-size="34.14" fill="#000" textLength="18.99" lengthAdjust="spacingAndGlyphs">0</text>
<text x="1160.3" y="135" font-size="33.86" fill="#000" textLength="145.27" lengthAdjust="spacingAndGlyphs">P=0.0007</text>
<line x1="1182.9" y1="140.7" x2="1263" y2="140.7" stroke="#000" stroke-width="3.6" stroke-linecap="butt"/>
<text x="1173" y="463.9" font-size="34" fill="#000" textLength="32.33" lengthAdjust="spacingAndGlyphs">M</text>
<text x="1266.41" y="463.9" font-size="34" fill="#000" textLength="15.21" lengthAdjust="spacingAndGlyphs">F</text>
<text transform="translate(1074.6 453) rotate(-90)" x="-0.63" y="0" font-size="34" fill="#000" textLength="328.95" lengthAdjust="spacingAndGlyphs">TUNEL⁺ dead Neu (%)</text>
<text x="1413.16" y="51.9" font-size="60" fill="#000" textLength="35.68" lengthAdjust="spacingAndGlyphs" font-weight="bold">d</text>
<path d="M1553.1 122.4 C1553.18 125.33 1553.52 132.9 1553.6 140 C1553.68 147.1 1553.57 159 1553.6 165 C1553.63 171 1553.55 172.67 1553.8 176 C1554.05 179.33 1554.13 181.83 1555.1 185 C1556.07 188.17 1557.75 192.17 1559.6 195 C1561.45 197.83 1564.12 198.67 1566.2 202 C1568.28 205.33 1570.53 210.17 1572.1 215 C1573.67 219.83 1575.43 226 1575.6 231 C1575.77 236 1573.17 239.83 1573.1 245 C1573.03 250.17 1575.45 257 1575.2 262 C1574.95 267 1573.4 270.67 1571.6 275 C1569.8 279.33 1566.47 283.67 1564.4 288 C1562.33 292.33 1560.67 296.5 1559.2 301 C1557.73 305.5 1556.53 309.33 1555.6 315 C1554.67 320.67 1554.02 326.5 1553.6 335 C1553.18 343.5 1553.18 360.83 1553.1 366 L1548.1 366 C1548.02 360.83 1548.02 343.5 1547.6 335 C1547.18 326.5 1546.53 320.67 1545.6 315 C1544.67 309.33 1543.47 305.5 1542 301 C1540.53 296.5 1538.87 292.33 1536.8 288 C1534.73 283.67 1531.4 279.33 1529.6 275 C1527.8 270.67 1526.25 267 1526 262 C1525.75 257 1528.17 250.17 1528.1 245 C1528.03 239.83 1525.43 236 1525.6 231 C1525.77 226 1527.53 219.83 1529.1 215 C1530.67 210.17 1532.92 205.33 1535 202 C1537.08 198.67 1539.75 197.83 1541.6 195 C1543.45 192.17 1545.13 188.17 1546.1 185 C1547.07 181.83 1547.15 179.33 1547.4 176 C1547.65 172.67 1547.57 171 1547.6 165 C1547.63 159 1547.52 147.1 1547.6 140 C1547.68 132.9 1548.02 125.33 1548.1 122.4 Z" fill="#9370e0" stroke="#3a3a3a" stroke-width="2.3" stroke-linejoin="round"/>
<line x1="1550.6" y1="125.4" x2="1550.6" y2="363" stroke="#000" stroke-width="2.6" stroke-linecap="butt"/>
<rect x="1544.4" y="218.4" width="12.4" height="55.8" fill="#9370e0" stroke="#000" stroke-width="2.6"/>
<line x1="1544.4" y1="245.2" x2="1556.8" y2="245.2" stroke="#000" stroke-width="4" stroke-linecap="butt"/>
<path d="M1606.1 160.4 C1606.42 164.17 1606.85 175.97 1608 183 C1609.15 190.03 1610.98 195.6 1613 202.6 C1615.02 209.6 1618 217.48 1620.1 225 C1622.2 232.52 1624.05 240.2 1625.6 247.7 C1627.15 255.2 1629.15 262.95 1629.4 270 C1629.65 277.05 1627.02 283.4 1627.1 290 C1627.18 296.6 1630.15 303.52 1629.9 309.6 C1629.65 315.68 1627.48 320.87 1625.6 326.5 C1623.72 332.13 1620.7 337.77 1618.6 343.4 C1616.5 349.03 1614.63 354.7 1613 360.3 C1611.37 365.9 1609.95 371.85 1608.8 377 C1607.65 382.15 1606.55 388.83 1606.1 391.2 L1603.1 391.2 C1602.65 388.83 1601.55 382.15 1600.4 377 C1599.25 371.85 1597.83 365.9 1596.2 360.3 C1594.57 354.7 1592.7 349.03 1590.6 343.4 C1588.5 337.77 1585.48 332.13 1583.6 326.5 C1581.72 320.87 1579.55 315.68 1579.3 309.6 C1579.05 303.52 1582.02 296.6 1582.1 290 C1582.18 283.4 1579.55 277.05 1579.8 270 C1580.05 262.95 1582.05 255.2 1583.6 247.7 C1585.15 240.2 1587 232.52 1589.1 225 C1591.2 217.48 1594.18 209.6 1596.2 202.6 C1598.22 195.6 1600.05 190.03 1601.2 183 C1602.35 175.97 1602.78 164.17 1603.1 160.4 Z" fill="#5b9cf6" stroke="#3a3a3a" stroke-width="2.3" stroke-linejoin="round"/>
<line x1="1604.6" y1="163.4" x2="1604.6" y2="388.2" stroke="#000" stroke-width="2.6" stroke-linecap="butt"/>
<rect x="1598.4" y="261.8" width="12.4" height="59.1" fill="#5b9cf6" stroke="#000" stroke-width="2.6"/>
<line x1="1598.4" y1="290" x2="1610.8" y2="290" stroke="#000" stroke-width="4" stroke-linecap="butt"/>
<path d="M1660 136.5 C1660.03 142.08 1659.97 159.92 1660.2 170 C1660.43 180.08 1660.12 189.68 1661.4 197 C1662.68 204.32 1665.65 207.33 1667.9 213.9 C1670.15 220.47 1673.05 228.88 1674.9 236.4 C1676.75 243.92 1677.83 251.48 1679 259 C1680.17 266.52 1681.32 275.88 1681.9 281.5 C1682.48 287.12 1682.98 288.02 1682.5 292.7 C1682.02 297.38 1680.5 303.97 1679 309.6 C1677.5 315.23 1675.35 320.87 1673.5 326.5 C1671.65 332.13 1669.55 337.77 1667.9 343.4 C1666.25 349.03 1664.78 354.2 1663.6 360.3 C1662.42 366.4 1661.48 372.5 1660.8 380 C1660.12 387.5 1659.72 401.08 1659.5 405.3 L1656.5 405.3 C1656.28 401.08 1655.88 387.5 1655.2 380 C1654.52 372.5 1653.58 366.4 1652.4 360.3 C1651.22 354.2 1649.75 349.03 1648.1 343.4 C1646.45 337.77 1644.35 332.13 1642.5 326.5 C1640.65 320.87 1638.5 315.23 1637 309.6 C1635.5 303.97 1633.98 297.38 1633.5 292.7 C1633.02 288.02 1633.52 287.12 1634.1 281.5 C1634.68 275.88 1635.83 266.52 1637 259 C1638.17 251.48 1639.25 243.92 1641.1 236.4 C1642.95 228.88 1645.85 220.47 1648.1 213.9 C1650.35 207.33 1653.32 204.32 1654.6 197 C1655.88 189.68 1655.57 180.08 1655.8 170 C1656.03 159.92 1655.97 142.08 1656 136.5 Z" fill="#d6b587" stroke="#3a3a3a" stroke-width="2.3" stroke-linejoin="round"/>
<line x1="1658" y1="139.5" x2="1658" y2="402.3" stroke="#000" stroke-width="2.6" stroke-linecap="butt"/>
<rect x="1651.8" y="259.5" width="12.4" height="57.1" fill="#d6b587" stroke="#000" stroke-width="2.6"/>
<line x1="1651.8" y1="290" x2="1664.2" y2="290" stroke="#000" stroke-width="4" stroke-linecap="butt"/>
<path d="M1714.3 202.6 C1714.58 205.42 1714.53 213.4 1716 219.5 C1717.47 225.6 1720.75 232.15 1723.1 239.2 C1725.45 246.25 1728.13 254.75 1730.1 261.8 C1732.07 268.85 1733.73 275.88 1734.9 281.5 C1736.07 287.12 1736.97 290.82 1737.1 295.5 C1737.23 300.18 1737.1 304.43 1735.7 309.6 C1734.3 314.77 1730.8 320.87 1728.7 326.5 C1726.6 332.13 1724.98 337.77 1723.1 343.4 C1721.22 349.03 1718.95 355.85 1717.4 360.3 C1715.85 364.75 1714.4 368.47 1713.8 370.1 L1709.8 370.1 C1709.2 368.47 1707.75 364.75 1706.2 360.3 C1704.65 355.85 1702.38 349.03 1700.5 343.4 C1698.62 337.77 1697 332.13 1694.9 326.5 C1692.8 320.87 1689.3 314.77 1687.9 309.6 C1686.5 304.43 1686.37 300.18 1686.5 295.5 C1686.63 290.82 1687.53 287.12 1688.7 281.5 C1689.87 275.88 1691.53 268.85 1693.5 261.8 C1695.47 254.75 1698.15 246.25 1700.5 239.2 C1702.85 232.15 1706.13 225.6 1707.6 219.5 C1709.07 213.4 1709.02 205.42 1709.3 202.6 Z" fill="#c7359c" stroke="#3a3a3a" stroke-width="2.3" stroke-linejoin="round"/>
<line x1="1711.8" y1="205.6" x2="1711.8" y2="367.1" stroke="#000" stroke-width="2.6" stroke-linecap="butt"/>
<rect x="1705.6" y="268.8" width="12.4" height="50.6" fill="#c7359c" stroke="#000" stroke-width="2.6"/>
<line x1="1705.6" y1="292.7" x2="1718" y2="292.7" stroke="#000" stroke-width="4" stroke-linecap="butt"/>
<line x1="1518.6" y1="119.6" x2="1518.6" y2="419.9" stroke="#000" stroke-width="2.8" stroke-linecap="butt"/>
<line x1="1509.1" y1="188.1" x2="1518.6" y2="188.1" stroke="#000" stroke-width="2.5" stroke-linecap="butt"/>
<line x1="1509.1" y1="267.7" x2="1518.6" y2="267.7" stroke="#000" stroke-width="2.5" stroke-linecap="butt"/>
<line x1="1509.1" y1="346.9" x2="1518.6" y2="346.9" stroke="#000" stroke-width="2.5" stroke-linecap="butt"/>
<line x1="1517.3" y1="418.5" x2="1743.4" y2="418.5" stroke="#000" stroke-width="2.8" stroke-linecap="butt"/>
<line x1="1550.6" y1="418.5" x2="1550.6" y2="425.5" stroke="#000" stroke-width="2.5" stroke-linecap="butt"/>
<line x1="1604.6" y1="418.5" x2="1604.6" y2="425.5" stroke="#000" stroke-width="2.5" stroke-linecap="butt"/>
<line x1="1658" y1="418.5" x2="1658" y2="425.5" stroke="#000" stroke-width="2.5" stroke-linecap="butt"/>
<line x1="1711.8" y1="418.5" x2="1711.8" y2="425.5" stroke="#000" stroke-width="2.5" stroke-linecap="butt"/>
<text x="1462.98" y="194.2" font-size="27.29" fill="#000" textLength="38.76" lengthAdjust="spacingAndGlyphs">0.4</text>
<text x="1462.97" y="277.7" font-size="27.29" fill="#000" textLength="39.35" lengthAdjust="spacingAndGlyphs">0.2</text>
<text x="1486.71" y="356.5" font-size="27.29" fill="#000" textLength="15.18" lengthAdjust="spacingAndGlyphs">0</text>
<text transform="translate(1433.3 367.3) rotate(-90)" x="-2.54" y="0" font-size="31.14" fill="#000" textLength="206.29" lengthAdjust="spacingAndGlyphs">Module scores</text>
<text x="1555.43" y="23.5" font-size="33.29" fill="#000" textLength="143.97" lengthAdjust="spacingAndGlyphs">P&lt;0.0001</text>
<line x1="1550" y1="28.8" x2="1711.4" y2="28.8" stroke="#000" stroke-width="3.5" stroke-linecap="butt"/>
<text x="1533.33" y="63.1" font-size="33.29" fill="#000" textLength="143.97" lengthAdjust="spacingAndGlyphs">P&lt;0.0001</text>
<line x1="1550" y1="72.9" x2="1658.3" y2="72.9" stroke="#000" stroke-width="3.5" stroke-linecap="butt"/>
<text x="1522.35" y="105.7" font-size="33.29" fill="#000" textLength="142.94" lengthAdjust="spacingAndGlyphs">P&lt;0.0001</text>
<line x1="1550" y1="113.2" x2="1612.7" y2="113.2" stroke="#000" stroke-width="3.3" stroke-linecap="butt"/>
<text x="1533.72" y="456.5" font-size="26.86" fill="#000" textLength="36.37" lengthAdjust="spacingAndGlyphs">N0</text>
<text x="1585.5" y="456.5" font-size="26.86" fill="#000" textLength="36.68" lengthAdjust="spacingAndGlyphs">N1</text>
<text x="1638.96" y="456.5" font-size="26.86" fill="#000" textLength="35.73" lengthAdjust="spacingAndGlyphs">N2</text>
<text x="1692.91" y="456.5" font-size="26.86" fill="#000" textLength="36.64" lengthAdjust="spacingAndGlyphs">N3</text>
<line x1="1526" y1="468.6" x2="1736.6" y2="468.6" stroke="#000" stroke-width="2" stroke-linecap="butt"/>
<text x="1547.06" y="505" font-size="32.57" fill="#000" textLength="171.5" lengthAdjust="spacingAndGlyphs">Ferroptosis</text>
<text x="1805.58" y="52.03" font-size="46.91" fill="#000" textLength="30.94" lengthAdjust="spacingAndGlyphs" font-weight="bold">e</text>
<path d="M1981.5 420.5 V338.2 H2023.7 V420.5" fill="#fff" stroke="#1e14f0" stroke-width="4.2" stroke-linejoin="miter"/>
<path d="M2065.3 420.5 V282 H2106.7 V420.5" fill="#fff" stroke="#a9221d" stroke-width="4.2" stroke-linejoin="miter"/>
<line x1="2002.6" y1="327.7" x2="2002.6" y2="346" stroke="#1e14f0" stroke-width="4" stroke-linecap="butt"/>
<line x1="1990.1" y1="327.7" x2="2015.1" y2="327.7" stroke="#1e14f0" stroke-width="4" stroke-linecap="butt"/>
<line x1="1990.1" y1="346" x2="2015.1" y2="346" stroke="#1e14f0" stroke-width="4" stroke-linecap="butt"/>
<line x1="2086.3" y1="254.6" x2="2086.3" y2="302.4" stroke="#a9221d" stroke-width="4" stroke-linecap="butt"/>
<line x1="2075.05" y1="254.6" x2="2097.55" y2="254.6" stroke="#a9221d" stroke-width="4" stroke-linecap="butt"/>
<line x1="2075.05" y1="302.4" x2="2097.55" y2="302.4" stroke="#a9221d" stroke-width="4" stroke-linecap="butt"/>
<circle cx="2002.48" cy="300.98" r="5.6" fill="#1e14f0"/>
<circle cx="1985.04" cy="326.3" r="5.6" fill="#1e14f0"/>
<circle cx="1995.72" cy="326.3" r="5.6" fill="#1e14f0"/>
<circle cx="2010.35" cy="326.3" r="5.6" fill="#1e14f0"/>
<circle cx="2021.04" cy="322.93" r="5.6" fill="#1e14f0"/>
<circle cx="1997.69" cy="365.68" r="5.6" fill="#1e14f0"/>
<circle cx="2008.95" cy="377.5" r="5.6" fill="#1e14f0"/>
<circle cx="2086.3" cy="168.78" r="5.6" fill="#a9221d"/>
<circle cx="2086.3" cy="232.91" r="5.6" fill="#a9221d"/>
<circle cx="2086.3" cy="260.2" r="5.6" fill="#a9221d"/>
<circle cx="2086.3" cy="296.2" r="5.6" fill="#a9221d"/>
<circle cx="2073.64" cy="312.8" r="5.6" fill="#a9221d"/>
<circle cx="2098.96" cy="317.02" r="5.6" fill="#a9221d"/>
<circle cx="2086.3" cy="364.28" r="5.6" fill="#a9221d"/>
<line x1="1953.5" y1="147.7" x2="1953.5" y2="421.65" stroke="#000" stroke-width="2.3" stroke-linecap="butt"/>
<line x1="1945.6" y1="147.7" x2="1953.5" y2="147.7" stroke="#000" stroke-width="2.3" stroke-linecap="butt"/>
<line x1="1945.6" y1="202.26" x2="1953.5" y2="202.26" stroke="#000" stroke-width="2.3" stroke-linecap="butt"/>
<line x1="1945.6" y1="256.82" x2="1953.5" y2="256.82" stroke="#000" stroke-width="2.3" stroke-linecap="butt"/>
<line x1="1945.6" y1="311.38" x2="1953.5" y2="311.38" stroke="#000" stroke-width="2.3" stroke-linecap="butt"/>
<line x1="1945.6" y1="365.94" x2="1953.5" y2="365.94" stroke="#000" stroke-width="2.3" stroke-linecap="butt"/>
<line x1="1945.6" y1="420.5" x2="1953.5" y2="420.5" stroke="#000" stroke-width="2.3" stroke-linecap="butt"/>
<line x1="1945.6" y1="420.5" x2="2135.5" y2="420.5" stroke="#000" stroke-width="2.3" stroke-linecap="butt"/>
<line x1="2002.6" y1="420.5" x2="2002.6" y2="429" stroke="#000" stroke-width="2.3" stroke-linecap="butt"/>
<line x1="2086.3" y1="420.5" x2="2086.3" y2="429" stroke="#000" stroke-width="2.3" stroke-linecap="butt"/>
<text x="1918.22" y="161.2" font-size="34.14" fill="#000" textLength="18.99" lengthAdjust="spacingAndGlyphs">5</text>
<text x="1917.88" y="215.76" font-size="34.14" fill="#000" textLength="18.99" lengthAdjust="spacingAndGlyphs">4</text>
<text x="1918.22" y="270.32" font-size="34.14" fill="#000" textLength="18.99" lengthAdjust="spacingAndGlyphs">3</text>
<text x="1918.56" y="324.88" font-size="34.14" fill="#000" textLength="18.99" lengthAdjust="spacingAndGlyphs">2</text>
<text x="1918.39" y="379.44" font-size="34.14" fill="#000" textLength="18.99" lengthAdjust="spacingAndGlyphs">1</text>
<text x="1918.05" y="434" font-size="34.14" fill="#000" textLength="18.99" lengthAdjust="spacingAndGlyphs">0</text>
<text x="1966.02" y="127.8" font-size="34.14" fill="#000" textLength="144.55" lengthAdjust="spacingAndGlyphs">P=0.0492</text>
<line x1="1987" y1="141.5" x2="2086.3" y2="141.5" stroke="#000" stroke-width="2" stroke-linecap="butt"/>
<text x="1989.72" y="461" font-size="31" fill="#000" textLength="29.96" lengthAdjust="spacingAndGlyphs">M</text>
<text x="2080.61" y="461" font-size="31" fill="#000" textLength="14.46" lengthAdjust="spacingAndGlyphs">F</text>
<line x1="1980.1" y1="470.8" x2="2105.7" y2="470.8" stroke="#000" stroke-width="2" stroke-linecap="butt"/>
<text x="1956.04" y="504.6" font-size="32.57" fill="#000" textLength="172.73" lengthAdjust="spacingAndGlyphs">Ferroptosis</text>
<text transform="translate(1860.3 429) rotate(-90)" x="-2.48" y="0" font-size="32.71" fill="#000" textLength="287.97" lengthAdjust="spacingAndGlyphs">Relative lipid-ROS of</text>
<text transform="translate(1898.4 448.7) rotate(-90)" x="-2.13" y="0" font-size="30.29" fill="#000" textLength="323.56" lengthAdjust="spacingAndGlyphs">mouse intratumor Neu</text>
<text x="0.43" y="591.43" font-size="57.27" fill="#000" textLength="26.03" lengthAdjust="spacingAndGlyphs" font-weight="bold">c</text>
<path d="M147.18 655.88 C147.23 658.14 147.36 664.57 147.44 669.43 C147.53 674.3 147.53 678.99 147.7 685.07 C147.88 691.14 148.05 700.7 148.48 705.91 C148.92 711.12 149.35 712.42 150.31 716.33 C151.26 720.24 152.18 725.02 154.22 729.36 C156.26 733.7 159.73 737.18 162.55 742.39 C165.38 747.6 168.63 754.11 171.15 760.63 C173.67 767.14 176.23 775.82 177.67 781.47 C179.1 787.11 179.1 789.07 179.75 794.5 C180.4 799.93 181.36 809.7 181.57 814.04 C181.79 818.38 181.92 817.3 181.05 820.55 C180.18 823.81 178.01 829.24 176.36 833.58 C174.71 837.92 172.89 842.27 171.15 846.61 C169.42 850.95 167.68 855.29 165.94 859.64 C164.2 863.98 162.25 868.32 160.73 872.66 C159.21 877.01 158.12 881.35 156.82 885.69 C155.52 890.03 153.78 895.77 152.91 898.72 C152.05 901.67 151.83 902.63 151.61 903.41 L141.19 903.41 C140.97 902.63 140.75 901.67 139.89 898.72 C139.02 895.77 137.28 890.03 135.98 885.69 C134.68 881.35 133.59 877.01 132.07 872.66 C130.55 868.32 128.6 863.98 126.86 859.64 C125.12 855.29 123.38 850.95 121.65 846.61 C119.91 842.27 118.09 837.92 116.44 833.58 C114.79 829.24 112.62 823.81 111.75 820.55 C110.88 817.3 111.01 818.38 111.23 814.04 C111.44 809.7 112.4 799.93 113.05 794.5 C113.7 789.07 113.7 787.11 115.13 781.47 C116.57 775.82 119.13 767.14 121.65 760.63 C124.17 754.11 127.42 747.6 130.25 742.39 C133.07 737.18 136.54 733.7 138.58 729.36 C140.62 725.02 141.54 720.24 142.49 716.33 C143.45 712.42 143.88 711.12 144.32 705.91 C144.75 700.7 144.92 691.14 145.1 685.07 C145.27 678.99 145.27 674.3 145.36 669.43 C145.44 664.57 145.57 658.14 145.62 655.88 Z" fill="#64bfc5" stroke="#222" stroke-width="1.2" stroke-linejoin="round"/>
<line x1="146.4" y1="656.88" x2="146.4" y2="902.41" stroke="#000" stroke-width="1.6" stroke-linecap="butt"/>
<rect x="138.2" y="782" width="16.4" height="59.9" fill="#64bfc5" stroke="#000" stroke-width="1.8"/>
<line x1="138.2" y1="812.2" x2="154.6" y2="812.2" stroke="#000" stroke-width="3.2" stroke-linecap="butt"/>
<path d="M224.88 670.73 C225.19 673.99 225.97 684.85 226.71 690.28 C227.44 695.7 228.23 698.96 229.31 703.3 C230.4 707.65 231.48 711.99 233.22 716.33 C234.96 720.67 237.56 725.02 239.73 729.36 C241.9 733.7 244.29 738.04 246.25 742.39 C248.2 746.73 249.94 751.07 251.46 755.41 C252.98 759.76 254.15 763.23 255.37 768.44 C256.58 773.65 258.1 780.6 258.75 786.68 C259.4 792.76 259.62 799.27 259.27 804.92 C258.93 810.56 257.97 815.78 256.67 820.55 C255.37 825.33 253.2 829.24 251.46 833.58 C249.72 837.92 247.98 842.27 246.25 846.61 C244.51 850.95 242.77 855.29 241.04 859.64 C239.3 863.98 237.34 868.32 235.82 872.66 C234.3 877.01 233 881.43 231.92 885.69 C230.83 889.95 229.75 896.11 229.31 898.2 L218.89 898.2 C218.45 896.11 217.37 889.95 216.28 885.69 C215.2 881.43 213.9 877.01 212.38 872.66 C210.86 868.32 208.9 863.98 207.16 859.64 C205.43 855.29 203.69 850.95 201.95 846.61 C200.22 842.27 198.48 837.92 196.74 833.58 C195 829.24 192.83 825.33 191.53 820.55 C190.23 815.78 189.27 810.56 188.93 804.92 C188.58 799.27 188.8 792.76 189.45 786.68 C190.1 780.6 191.62 773.65 192.83 768.44 C194.05 763.23 195.22 759.76 196.74 755.41 C198.26 751.07 200 746.73 201.95 742.39 C203.91 738.04 206.3 733.7 208.47 729.36 C210.64 725.02 213.24 720.67 214.98 716.33 C216.72 711.99 217.8 707.65 218.89 703.3 C219.97 698.96 220.76 695.7 221.49 690.28 C222.23 684.85 223.01 673.99 223.32 670.73 Z" fill="#e8585c" stroke="#222" stroke-width="1.2" stroke-linejoin="round"/>
<line x1="224.1" y1="671.73" x2="224.1" y2="897.2" stroke="#000" stroke-width="1.6" stroke-linecap="butt"/>
<rect x="216.5" y="766.4" width="15.2" height="62" fill="#e8585c" stroke="#000" stroke-width="1.8"/>
<line x1="216.5" y1="798.4" x2="231.7" y2="798.4" stroke="#000" stroke-width="3.2" stroke-linecap="butt"/>
<line x1="98.5" y1="644.5" x2="98.5" y2="916.1" stroke="#000" stroke-width="2.4" stroke-linecap="butt"/>
<line x1="94" y1="702.8" x2="98.5" y2="702.8" stroke="#000" stroke-width="1.6" stroke-linecap="butt"/>
<line x1="94" y1="762.7" x2="98.5" y2="762.7" stroke="#000" stroke-width="1.6" stroke-linecap="butt"/>
<line x1="94" y1="821.9" x2="98.5" y2="821.9" stroke="#000" stroke-width="1.6" stroke-linecap="butt"/>
<line x1="94" y1="882.6" x2="98.5" y2="882.6" stroke="#000" stroke-width="1.6" stroke-linecap="butt"/>
<line x1="98.5" y1="914.9" x2="269.7" y2="914.9" stroke="#000" stroke-width="2.4" stroke-linecap="butt"/>
<line x1="146.4" y1="914.9" x2="146.4" y2="921.4" stroke="#000" stroke-width="1.8" stroke-linecap="butt"/>
<line x1="224.1" y1="914.9" x2="224.1" y2="921.4" stroke="#000" stroke-width="1.8" stroke-linecap="butt"/>
<text x="37.41" y="710.3" font-size="33.29" fill="#000" textLength="48.44" lengthAdjust="spacingAndGlyphs">0.2</text>
<text x="37.41" y="831.5" font-size="33.29" fill="#000" textLength="48.26" lengthAdjust="spacingAndGlyphs">0.1</text>
<text x="132.24" y="626.3" font-size="33.29" fill="#000" textLength="143.38" lengthAdjust="spacingAndGlyphs">P=0.0026</text>
<line x1="145.9" y1="636.9" x2="228" y2="636.9" stroke="#000" stroke-width="1.8" stroke-linecap="butt"/>
<text x="132.83" y="949.8" font-size="33.71" fill="#000" textLength="27.24" lengthAdjust="spacingAndGlyphs">M</text>
<text x="213.47" y="949.8" font-size="33.71" fill="#000" textLength="19.98" lengthAdjust="spacingAndGlyphs">F</text>
<line x1="122.5" y1="959.9" x2="238.3" y2="959.9" stroke="#000" stroke-width="1.8" stroke-linecap="butt"/>
<text x="93.63" y="996.3" font-size="32.57" fill="#000" textLength="173.44" lengthAdjust="spacingAndGlyphs">Ferroptosis</text>
<text transform="translate(33.9 883.1) rotate(-90)" x="-2.79" y="0" font-size="33.43" fill="#000" textLength="226.74" lengthAdjust="spacingAndGlyphs">Module scores</text>
<path d="M400.78 655.88 C401.09 659.44 401.65 671.52 402.61 677.25 C403.56 682.98 404.99 685.5 406.51 690.28 C408.03 695.05 409.55 700.7 411.72 705.91 C413.9 711.12 416.94 716.33 419.54 721.54 C422.15 726.75 425.19 731.96 427.36 737.18 C429.53 742.39 431.31 747.16 432.57 752.81 C433.83 758.45 434.7 765.4 434.91 771.05 C435.13 776.69 434.48 781.47 433.87 786.68 C433.26 791.89 432.79 796.67 431.27 802.31 C429.75 807.96 426.92 814.91 424.75 820.55 C422.58 826.2 420.63 830.97 418.24 836.19 C415.85 841.4 412.59 847.04 410.42 851.82 C408.25 856.6 406.6 860.5 405.21 864.85 C403.82 869.19 402.82 871.14 402.08 877.87 C401.35 884.6 401 900.67 400.78 905.23 L399.22 905.23 C399 900.67 398.65 884.6 397.92 877.87 C397.18 871.14 396.18 869.19 394.79 864.85 C393.4 860.5 391.75 856.6 389.58 851.82 C387.41 847.04 384.15 841.4 381.76 836.19 C379.37 830.97 377.42 826.2 375.25 820.55 C373.08 814.91 370.25 807.96 368.73 802.31 C367.21 796.67 366.74 791.89 366.13 786.68 C365.52 781.47 364.87 776.69 365.09 771.05 C365.3 765.4 366.17 758.45 367.43 752.81 C368.69 747.16 370.47 742.39 372.64 737.18 C374.81 731.96 377.85 726.75 380.46 721.54 C383.06 716.33 386.1 711.12 388.28 705.91 C390.45 700.7 391.97 695.05 393.49 690.28 C395.01 685.5 396.44 682.98 397.39 677.25 C398.35 671.52 398.91 659.44 399.22 655.88 Z" fill="#64bfc5" stroke="#222" stroke-width="1.2" stroke-linejoin="round"/>
<line x1="400" y1="656.88" x2="400" y2="904.23" stroke="#000" stroke-width="1.6" stroke-linecap="butt"/>
<rect x="391.9" y="751.5" width="16.2" height="57.3" fill="#64bfc5" stroke="#000" stroke-width="1.8"/>
<line x1="391.9" y1="778.9" x2="408.1" y2="778.9" stroke="#000" stroke-width="3.2" stroke-linecap="butt"/>
<path d="M478.38 659.01 C478.69 663.35 479.25 678.12 480.21 685.07 C481.16 692.01 482.38 695.49 484.11 700.7 C485.85 705.91 488.46 711.12 490.63 716.33 C492.8 721.54 494.97 726.75 497.14 731.96 C499.31 737.18 501.79 742.39 503.66 747.6 C505.52 752.81 506.87 758.24 508.35 763.23 C509.82 768.22 512.43 772.35 512.51 777.56 C512.6 782.77 510.56 789.07 508.87 794.5 C507.17 799.93 504.31 804.92 502.35 810.13 C500.4 815.34 498.88 820.55 497.14 825.76 C495.4 830.97 493.67 836.19 491.93 841.4 C490.19 846.61 488.46 851.82 486.72 857.03 C484.98 862.24 482.85 866.58 481.51 872.66 C480.16 878.74 479.12 890.03 478.64 893.51 L476.56 893.51 C476.08 890.03 475.04 878.74 473.69 872.66 C472.35 866.58 470.22 862.24 468.48 857.03 C466.74 851.82 465.01 846.61 463.27 841.4 C461.53 836.19 459.8 830.97 458.06 825.76 C456.32 820.55 454.8 815.34 452.85 810.13 C450.89 804.92 448.03 799.93 446.33 794.5 C444.64 789.07 442.6 782.77 442.69 777.56 C442.77 772.35 445.38 768.22 446.85 763.23 C448.33 758.24 449.68 752.81 451.54 747.6 C453.41 742.39 455.89 737.18 458.06 731.96 C460.23 726.75 462.4 721.54 464.57 716.33 C466.74 711.12 469.35 705.91 471.09 700.7 C472.82 695.49 474.04 692.01 474.99 685.07 C475.95 678.12 476.51 663.35 476.82 659.01 Z" fill="#e8585c" stroke="#222" stroke-width="1.2" stroke-linejoin="round"/>
<line x1="477.6" y1="660.01" x2="477.6" y2="892.51" stroke="#000" stroke-width="1.6" stroke-linecap="butt"/>
<rect x="469.6" y="751.5" width="16" height="53.9" fill="#e8585c" stroke="#000" stroke-width="1.8"/>
<line x1="469.6" y1="777.6" x2="485.6" y2="777.6" stroke="#000" stroke-width="3.2" stroke-linecap="butt"/>
<line x1="353.8" y1="644.7" x2="353.8" y2="916.1" stroke="#000" stroke-width="2.4" stroke-linecap="butt"/>
<line x1="349.3" y1="692.9" x2="353.8" y2="692.9" stroke="#000" stroke-width="1.6" stroke-linecap="butt"/>
<line x1="349.3" y1="770.5" x2="353.8" y2="770.5" stroke="#000" stroke-width="1.6" stroke-linecap="butt"/>
<line x1="349.3" y1="847.9" x2="353.8" y2="847.9" stroke="#000" stroke-width="1.6" stroke-linecap="butt"/>
<line x1="353.8" y1="914.9" x2="523.4" y2="914.9" stroke="#000" stroke-width="2.4" stroke-linecap="butt"/>
<line x1="400" y1="914.9" x2="400" y2="921.4" stroke="#000" stroke-width="1.8" stroke-linecap="butt"/>
<line x1="477.6" y1="914.9" x2="477.6" y2="921.4" stroke="#000" stroke-width="1.8" stroke-linecap="butt"/>
<text x="293.04" y="702" font-size="33.29" fill="#000" textLength="47.37" lengthAdjust="spacingAndGlyphs">0.2</text>
<text x="293.04" y="857" font-size="33.29" fill="#000" textLength="47.19" lengthAdjust="spacingAndGlyphs">0.1</text>
<text x="377.74" y="626.4" font-size="33.29" fill="#000" textLength="124.22" lengthAdjust="spacingAndGlyphs">P = 0.87</text>
<line x1="400" y1="640.3" x2="482" y2="640.3" stroke="#000" stroke-width="1.8" stroke-linecap="butt"/>
<text x="386.43" y="949.8" font-size="33.71" fill="#000" textLength="27.24" lengthAdjust="spacingAndGlyphs">M</text>
<text x="466.97" y="949.8" font-size="33.71" fill="#000" textLength="19.98" lengthAdjust="spacingAndGlyphs">F</text>
<line x1="377.8" y1="961.2" x2="492.4" y2="961.2" stroke="#000" stroke-width="1.8" stroke-linecap="butt"/>
<text x="359.6" y="997.5" font-size="32.57" fill="#000" textLength="152.37" lengthAdjust="spacingAndGlyphs">Apoptosis</text>
<path d="M641.48 655.88 C641.7 660.75 642.05 677.16 642.78 685.07 C643.52 692.97 644.3 697.22 645.91 703.3 C647.52 709.38 649.82 715.9 652.42 721.54 C655.03 727.19 658.5 731.53 661.54 737.18 C664.58 742.82 668.49 748.9 670.66 755.41 C672.83 761.93 673.7 769.31 674.57 776.26 C675.44 783.21 676.09 790.59 675.87 797.1 C675.66 803.62 675.01 809.26 673.27 815.34 C671.53 821.42 668.06 827.5 665.45 833.58 C662.85 839.66 660.24 846.17 657.64 851.82 C655.03 857.46 652.12 862.24 649.82 867.45 C647.52 872.66 645.17 879.7 643.83 883.08 C642.48 886.47 642.09 886.99 641.74 887.77 L639.66 887.77 C639.31 886.99 638.92 886.47 637.57 883.08 C636.23 879.7 633.88 872.66 631.58 867.45 C629.28 862.24 626.37 857.46 623.76 851.82 C621.16 846.17 618.55 839.66 615.95 833.58 C613.34 827.5 609.87 821.42 608.13 815.34 C606.39 809.26 605.74 803.62 605.53 797.1 C605.31 790.59 605.96 783.21 606.83 776.26 C607.7 769.31 608.57 761.93 610.74 755.41 C612.91 748.9 616.82 742.82 619.86 737.18 C622.9 731.53 626.37 727.19 628.98 721.54 C631.58 715.9 633.88 709.38 635.49 703.3 C637.1 697.22 637.88 692.97 638.62 685.07 C639.35 677.16 639.7 660.75 639.92 655.88 Z" fill="#64bfc5" stroke="#222" stroke-width="1.2" stroke-linejoin="round"/>
<line x1="640.7" y1="656.88" x2="640.7" y2="886.77" stroke="#000" stroke-width="1.6" stroke-linecap="butt"/>
<rect x="632.7" y="765" width="16" height="56" fill="#64bfc5" stroke="#000" stroke-width="1.8"/>
<line x1="632.7" y1="792.7" x2="648.7" y2="792.7" stroke="#000" stroke-width="3.2" stroke-linecap="butt"/>
<path d="M718.38 666.31 C718.69 671.6 719.25 690.62 720.21 698.09 C721.16 705.56 722.59 706.34 724.11 711.12 C725.63 715.9 727.37 721.54 729.32 726.75 C731.28 731.96 733.67 736.74 735.84 742.39 C738.01 748.03 740.18 754.11 742.35 760.63 C744.52 767.14 747.22 774.3 748.87 781.47 C750.52 788.63 752.47 797.1 752.25 803.62 C752.04 810.13 749.87 814.69 747.56 820.55 C745.26 826.41 741.27 832.71 738.44 838.79 C735.62 844.87 733.02 851.38 730.63 857.03 C728.24 862.68 725.85 867.89 724.11 872.66 C722.38 877.44 721.16 880.57 720.21 885.69 C719.25 890.81 718.69 900.46 718.38 903.41 L716.82 903.41 C716.51 900.46 715.95 890.81 714.99 885.69 C714.04 880.57 712.82 877.44 711.09 872.66 C709.35 867.89 706.96 862.68 704.57 857.03 C702.18 851.38 699.58 844.87 696.76 838.79 C693.93 832.71 689.94 826.41 687.64 820.55 C685.33 814.69 683.16 810.13 682.95 803.62 C682.73 797.1 684.68 788.63 686.33 781.47 C687.98 774.3 690.68 767.14 692.85 760.63 C695.02 754.11 697.19 748.03 699.36 742.39 C701.53 736.74 703.92 731.96 705.88 726.75 C707.83 721.54 709.57 715.9 711.09 711.12 C712.61 706.34 714.04 705.56 714.99 698.09 C715.95 690.62 716.51 671.6 716.82 666.31 Z" fill="#e8585c" stroke="#222" stroke-width="1.2" stroke-linejoin="round"/>
<line x1="717.6" y1="667.31" x2="717.6" y2="902.41" stroke="#000" stroke-width="1.6" stroke-linecap="butt"/>
<rect x="709.8" y="769.7" width="15.6" height="49.6" fill="#e8585c" stroke="#000" stroke-width="1.8"/>
<line x1="709.8" y1="798.4" x2="725.4" y2="798.4" stroke="#000" stroke-width="3.2" stroke-linecap="butt"/>
<line x1="593.8" y1="644.7" x2="593.8" y2="916.1" stroke="#000" stroke-width="2.4" stroke-linecap="butt"/>
<line x1="589.3" y1="655.6" x2="593.8" y2="655.6" stroke="#000" stroke-width="1.6" stroke-linecap="butt"/>
<line x1="589.3" y1="741.1" x2="593.8" y2="741.1" stroke="#000" stroke-width="1.6" stroke-linecap="butt"/>
<line x1="589.3" y1="827.1" x2="593.8" y2="827.1" stroke="#000" stroke-width="1.6" stroke-linecap="butt"/>
<line x1="589.3" y1="912.3" x2="593.8" y2="912.3" stroke="#000" stroke-width="1.6" stroke-linecap="butt"/>
<line x1="593.8" y1="914.9" x2="763.7" y2="914.9" stroke="#000" stroke-width="2.4" stroke-linecap="butt"/>
<line x1="640.7" y1="914.9" x2="640.7" y2="921.4" stroke="#000" stroke-width="1.8" stroke-linecap="butt"/>
<line x1="717.6" y1="914.9" x2="717.6" y2="921.4" stroke="#000" stroke-width="1.8" stroke-linecap="butt"/>
<text x="532.5" y="665" font-size="33.29" fill="#000" textLength="48.76" lengthAdjust="spacingAndGlyphs">0.2</text>
<text x="532.5" y="836.5" font-size="33.29" fill="#000" textLength="48.58" lengthAdjust="spacingAndGlyphs">0.1</text>
<text x="617.74" y="626.4" font-size="33.29" fill="#000" textLength="124.12" lengthAdjust="spacingAndGlyphs">P = 0.27</text>
<line x1="641.2" y1="641.3" x2="722.8" y2="641.3" stroke="#000" stroke-width="1.8" stroke-linecap="butt"/>
<text x="627.13" y="949.8" font-size="33.71" fill="#000" textLength="27.24" lengthAdjust="spacingAndGlyphs">M</text>
<text x="706.97" y="949.8" font-size="33.71" fill="#000" textLength="19.98" lengthAdjust="spacingAndGlyphs">F</text>
<line x1="618.6" y1="962" x2="733.2" y2="962" stroke="#000" stroke-width="1.8" stroke-linecap="butt"/>
<text x="591.04" y="997.6" font-size="32.57" fill="#000" textLength="182.47" lengthAdjust="spacingAndGlyphs">Necroptosis</text>
<path d="M885.58 656.93 C885.67 660.31 885.8 667.35 886.1 677.25 C886.41 687.15 886.54 707.65 887.41 716.33 C888.27 725.02 889.79 725.02 891.31 729.36 C892.83 733.7 894.35 736.74 896.52 742.39 C898.7 748.03 901.95 756.72 904.34 763.23 C906.73 769.74 908.99 774.96 910.86 781.47 C912.72 787.98 914.16 795.8 915.55 802.31 C916.93 808.83 918.54 816.21 919.19 820.55 C919.84 824.89 920.19 824.89 919.45 828.37 C918.72 831.84 917.07 837.05 914.76 841.4 C912.46 845.74 908.25 850.08 905.64 854.42 C903.04 858.77 901.08 862.68 899.13 867.45 C897.18 872.23 895.87 877.87 893.92 883.08 C891.97 888.3 888.8 895.24 887.41 898.72 C886.02 902.19 885.89 903.06 885.58 903.93 L884.02 903.93 C883.71 903.06 883.58 902.19 882.19 898.72 C880.8 895.24 877.63 888.3 875.68 883.08 C873.73 877.87 872.42 872.23 870.47 867.45 C868.52 862.68 866.56 858.77 863.96 854.42 C861.35 850.08 857.14 845.74 854.84 841.4 C852.53 837.05 850.88 831.84 850.15 828.37 C849.41 824.89 849.76 824.89 850.41 820.55 C851.06 816.21 852.67 808.83 854.05 802.31 C855.44 795.8 856.88 787.98 858.74 781.47 C860.61 774.96 862.87 769.74 865.26 763.23 C867.65 756.72 870.9 748.03 873.08 742.39 C875.25 736.74 876.77 733.7 878.29 729.36 C879.81 725.02 881.33 725.02 882.19 716.33 C883.06 707.65 883.19 687.15 883.5 677.25 C883.8 667.35 883.93 660.31 884.02 656.93 Z" fill="#64bfc5" stroke="#222" stroke-width="1.2" stroke-linejoin="round"/>
<line x1="884.8" y1="657.93" x2="884.8" y2="902.93" stroke="#000" stroke-width="1.6" stroke-linecap="butt"/>
<rect x="876.8" y="790.6" width="16" height="50" fill="#64bfc5" stroke="#000" stroke-width="1.8"/>
<line x1="876.8" y1="816.6" x2="892.8" y2="816.6" stroke="#000" stroke-width="3.2" stroke-linecap="butt"/>
<path d="M961.18 688.19 C961.49 690.28 962.05 696.01 963.01 700.7 C963.96 705.39 965.18 710.25 966.91 716.33 C968.65 722.41 971.04 730.23 973.43 737.18 C975.82 744.12 978.64 751.51 981.24 758.02 C983.85 764.53 986.89 771.48 989.06 776.26 C991.23 781.04 993.36 781.47 994.27 786.68 C995.18 791.89 994.53 800.14 994.53 807.52 C994.53 814.91 995.62 824.46 994.27 830.97 C992.93 837.49 989.06 840.96 986.46 846.61 C983.85 852.25 981.24 858.77 978.64 864.85 C976.03 870.93 973.21 877.44 970.82 883.08 C968.43 888.73 965.92 894.9 964.31 898.72 C962.7 902.54 961.7 904.8 961.18 906.01 L959.62 906.01 C959.1 904.8 958.1 902.54 956.49 898.72 C954.88 894.9 952.37 888.73 949.98 883.08 C947.59 877.44 944.77 870.93 942.16 864.85 C939.56 858.77 936.95 852.25 934.34 846.61 C931.74 840.96 927.87 837.49 926.53 830.97 C925.18 824.46 926.27 814.91 926.27 807.52 C926.27 800.14 925.62 791.89 926.53 786.68 C927.44 781.47 929.57 781.04 931.74 776.26 C933.91 771.48 936.95 764.53 939.56 758.02 C942.16 751.51 944.98 744.12 947.37 737.18 C949.76 730.23 952.15 722.41 953.89 716.33 C955.62 710.25 956.84 705.39 957.79 700.7 C958.75 696.01 959.31 690.28 959.62 688.19 Z" fill="#e8585c" stroke="#222" stroke-width="1.2" stroke-linejoin="round"/>
<line x1="960.4" y1="689.19" x2="960.4" y2="905.01" stroke="#000" stroke-width="1.6" stroke-linecap="butt"/>
<rect x="952.6" y="780.2" width="15.6" height="56.5" fill="#e8585c" stroke="#000" stroke-width="1.8"/>
<line x1="952.6" y1="808.3" x2="968.2" y2="808.3" stroke="#000" stroke-width="3.2" stroke-linecap="butt"/>
<line x1="839.2" y1="647.3" x2="839.2" y2="920.8" stroke="#000" stroke-width="2.4" stroke-linecap="butt"/>
<line x1="834.7" y1="689.5" x2="839.2" y2="689.5" stroke="#000" stroke-width="1.6" stroke-linecap="butt"/>
<line x1="834.7" y1="761.9" x2="839.2" y2="761.9" stroke="#000" stroke-width="1.6" stroke-linecap="butt"/>
<line x1="834.7" y1="834.4" x2="839.2" y2="834.4" stroke="#000" stroke-width="1.6" stroke-linecap="butt"/>
<line x1="834.7" y1="908.6" x2="839.2" y2="908.6" stroke="#000" stroke-width="1.6" stroke-linecap="butt"/>
<line x1="839.2" y1="919.6" x2="1005" y2="919.6" stroke="#000" stroke-width="2.4" stroke-linecap="butt"/>
<line x1="884.8" y1="919.6" x2="884.8" y2="926.1" stroke="#000" stroke-width="1.8" stroke-linecap="butt"/>
<line x1="960.4" y1="919.6" x2="960.4" y2="926.1" stroke="#000" stroke-width="1.8" stroke-linecap="butt"/>
<text x="774.34" y="699" font-size="33.29" fill="#000" textLength="47.18" lengthAdjust="spacingAndGlyphs">0.4</text>
<text x="774.32" y="771.5" font-size="33.29" fill="#000" textLength="47.91" lengthAdjust="spacingAndGlyphs">0.2</text>
<text x="849.02" y="631.7" font-size="33.29" fill="#000" textLength="143.62" lengthAdjust="spacingAndGlyphs">P = 0.051</text>
<line x1="881.7" y1="645.2" x2="963.8" y2="645.2" stroke="#000" stroke-width="1.8" stroke-linecap="butt"/>
<text x="871.23" y="949.8" font-size="33.71" fill="#000" textLength="27.24" lengthAdjust="spacingAndGlyphs">M</text>
<text x="949.77" y="949.8" font-size="33.71" fill="#000" textLength="19.98" lengthAdjust="spacingAndGlyphs">F</text>
<line x1="864.8" y1="962" x2="979.4" y2="962" stroke="#000" stroke-width="1.8" stroke-linecap="butt"/>
<text x="843.73" y="997.5" font-size="32.57" fill="#000" textLength="161.63" lengthAdjust="spacingAndGlyphs">Pyroptosis</text>
<text x="803.19" y="844" font-size="33.29" fill="#000" textLength="18.51" lengthAdjust="spacingAndGlyphs">0</text>
<path d="M1128.25 655.79 C1128.45 660.56 1128.58 675.49 1129.49 684.41 C1130.4 693.33 1131.98 701 1133.72 709.29 C1135.46 717.58 1137.25 725.88 1139.94 734.17 C1142.64 742.47 1147.41 752.42 1149.89 759.05 C1152.38 765.69 1153.21 768.59 1154.87 773.98 C1156.53 779.37 1158.6 786.84 1159.85 791.4 C1161.09 795.96 1162.33 798.45 1162.33 801.35 C1162.33 804.26 1160.68 805.92 1159.85 808.82 C1159.02 811.72 1157.36 815.45 1157.36 818.77 C1157.36 822.09 1160.68 825.41 1159.85 828.72 C1159.02 832.04 1154.87 834.53 1152.38 838.68 C1149.89 842.82 1146.99 848.63 1144.92 853.61 C1142.84 858.58 1141.81 863.56 1139.94 868.53 C1138.07 873.51 1135.3 878.07 1133.72 883.46 C1132.14 888.85 1131.11 897.48 1130.49 900.88 C1129.86 904.28 1130.07 903.37 1129.99 903.87 L1125.01 903.87 C1124.93 903.37 1125.14 904.28 1124.51 900.88 C1123.89 897.48 1122.86 888.85 1121.28 883.46 C1119.7 878.07 1116.93 873.51 1115.06 868.53 C1113.19 863.56 1112.16 858.58 1110.08 853.61 C1108.01 848.63 1105.11 842.82 1102.62 838.68 C1100.13 834.53 1095.98 832.04 1095.15 828.72 C1094.32 825.41 1097.64 822.09 1097.64 818.77 C1097.64 815.45 1095.98 811.72 1095.15 808.82 C1094.32 805.92 1092.67 804.26 1092.67 801.35 C1092.67 798.45 1093.91 795.96 1095.15 791.4 C1096.4 786.84 1098.47 779.37 1100.13 773.98 C1101.79 768.59 1102.62 765.69 1105.11 759.05 C1107.59 752.42 1112.36 742.47 1115.06 734.17 C1117.75 725.88 1119.54 717.58 1121.28 709.29 C1123.02 701 1124.6 693.33 1125.51 684.41 C1126.42 675.49 1126.55 660.56 1126.75 655.79 Z" fill="#64bfc5" stroke="#222" stroke-width="1.2" stroke-linejoin="round"/>
<line x1="1127.5" y1="656.79" x2="1127.5" y2="902.87" stroke="#000" stroke-width="1.6" stroke-linecap="butt"/>
<rect x="1119.5" y="772" width="16" height="63" fill="#64bfc5" stroke="#000" stroke-width="1.8"/>
<line x1="1119.5" y1="801.8" x2="1135.5" y2="801.8" stroke="#000" stroke-width="3.2" stroke-linecap="butt"/>
<path d="M1205.7 689.39 C1206.15 692.7 1206.94 702.66 1208.43 709.29 C1209.93 715.93 1212.37 723.39 1214.65 729.2 C1216.93 735 1219.63 739.15 1222.12 744.13 C1224.61 749.1 1227.3 754.08 1229.58 759.05 C1231.86 764.03 1234.35 767.76 1235.8 773.98 C1237.25 780.2 1237.75 788.5 1238.29 796.38 C1238.83 804.26 1239.45 815.04 1239.04 821.26 C1238.62 827.48 1237.38 829.14 1235.8 833.7 C1234.23 838.26 1231.86 843.65 1229.58 848.63 C1227.3 853.61 1224.4 858.17 1222.12 863.56 C1219.84 868.95 1217.76 875.58 1215.9 880.98 C1214.03 886.37 1211.96 892.09 1210.92 895.9 C1209.88 899.72 1209.88 902.54 1209.68 903.87 L1199.72 903.87 C1199.52 902.54 1199.52 899.72 1198.48 895.9 C1197.44 892.09 1195.37 886.37 1193.5 880.98 C1191.64 875.58 1189.56 868.95 1187.28 863.56 C1185 858.17 1182.1 853.61 1179.82 848.63 C1177.54 843.65 1175.17 838.26 1173.6 833.7 C1172.02 829.14 1170.78 827.48 1170.36 821.26 C1169.95 815.04 1170.57 804.26 1171.11 796.38 C1171.65 788.5 1172.15 780.2 1173.6 773.98 C1175.05 767.76 1177.54 764.03 1179.82 759.05 C1182.1 754.08 1184.79 749.1 1187.28 744.13 C1189.77 739.15 1192.47 735 1194.75 729.2 C1197.03 723.39 1199.47 715.93 1200.97 709.29 C1202.46 702.66 1203.25 692.7 1203.7 689.39 Z" fill="#e8585c" stroke="#222" stroke-width="1.2" stroke-linejoin="round"/>
<line x1="1204.7" y1="690.39" x2="1204.7" y2="902.87" stroke="#000" stroke-width="1.6" stroke-linecap="butt"/>
<rect x="1196.9" y="774.5" width="15.6" height="61.7" fill="#e8585c" stroke="#000" stroke-width="1.8"/>
<line x1="1196.9" y1="806.3" x2="1212.5" y2="806.3" stroke="#000" stroke-width="3.2" stroke-linecap="butt"/>
<line x1="1080.8" y1="645.8" x2="1080.8" y2="916.5" stroke="#000" stroke-width="2.4" stroke-linecap="butt"/>
<line x1="1076.3" y1="669" x2="1080.8" y2="669" stroke="#000" stroke-width="1.6" stroke-linecap="butt"/>
<line x1="1076.3" y1="727.2" x2="1080.8" y2="727.2" stroke="#000" stroke-width="1.6" stroke-linecap="butt"/>
<line x1="1076.3" y1="785.9" x2="1080.8" y2="785.9" stroke="#000" stroke-width="1.6" stroke-linecap="butt"/>
<line x1="1076.3" y1="843.7" x2="1080.8" y2="843.7" stroke="#000" stroke-width="1.6" stroke-linecap="butt"/>
<line x1="1076.3" y1="902.9" x2="1080.8" y2="902.9" stroke="#000" stroke-width="1.6" stroke-linecap="butt"/>
<line x1="1080.8" y1="915.3" x2="1249.5" y2="915.3" stroke="#000" stroke-width="2.4" stroke-linecap="butt"/>
<line x1="1127.5" y1="915.3" x2="1127.5" y2="921.8" stroke="#000" stroke-width="1.8" stroke-linecap="butt"/>
<line x1="1204.7" y1="915.3" x2="1204.7" y2="921.8" stroke="#000" stroke-width="1.8" stroke-linecap="butt"/>
<text x="1019.64" y="667" font-size="33.29" fill="#000" textLength="47.18" lengthAdjust="spacingAndGlyphs">0.4</text>
<text x="1019.63" y="737" font-size="33.29" fill="#000" textLength="47.54" lengthAdjust="spacingAndGlyphs">0.3</text>
<text x="1019.62" y="795.5" font-size="33.29" fill="#000" textLength="47.91" lengthAdjust="spacingAndGlyphs">0.2</text>
<text x="1019.63" y="853.5" font-size="33.29" fill="#000" textLength="47.72" lengthAdjust="spacingAndGlyphs">0.1</text>
<text x="1105.45" y="625.2" font-size="33.29" fill="#000" textLength="123.81" lengthAdjust="spacingAndGlyphs">P = 0.17</text>
<line x1="1127.3" y1="639.6" x2="1209.4" y2="639.6" stroke="#000" stroke-width="1.8" stroke-linecap="butt"/>
<text x="1113.93" y="950.6" font-size="33.71" fill="#000" textLength="27.24" lengthAdjust="spacingAndGlyphs">M</text>
<text x="1194.07" y="950.6" font-size="33.71" fill="#000" textLength="19.98" lengthAdjust="spacingAndGlyphs">F</text>
<line x1="1104.4" y1="960.6" x2="1219.4" y2="960.6" stroke="#000" stroke-width="1.8" stroke-linecap="butt"/>
<text x="1079.5" y="995.4" font-size="32.57" fill="#000" textLength="164.76" lengthAdjust="spacingAndGlyphs">Autophagy</text>
<text x="1048.49" y="919" font-size="33.29" fill="#000" textLength="18.51" lengthAdjust="spacingAndGlyphs">0</text>
<text x="-0.01" y="1102.8" font-size="61.52" fill="#000" textLength="20.19" lengthAdjust="spacingAndGlyphs" font-weight="bold">f</text>
<path d="M210.7 1389 V1206 H255.1 V1389" fill="#fff" stroke="#1e14f0" stroke-width="4" stroke-linejoin="miter"/>
<path d="M294.4 1389 V1222.8 H338.4 V1389" fill="#fff" stroke="#a9221d" stroke-width="4" stroke-linejoin="miter"/>
<line x1="232.9" y1="1196.8" x2="232.9" y2="1209.7" stroke="#1e14f0" stroke-width="3.8" stroke-linecap="butt"/>
<line x1="220.05" y1="1196.8" x2="245.75" y2="1196.8" stroke="#1e14f0" stroke-width="3.8" stroke-linecap="butt"/>
<line x1="220.05" y1="1209.7" x2="245.75" y2="1209.7" stroke="#1e14f0" stroke-width="3.8" stroke-linecap="butt"/>
<line x1="316.5" y1="1212.2" x2="316.5" y2="1229" stroke="#a9221d" stroke-width="3.8" stroke-linecap="butt"/>
<line x1="303.65" y1="1212.2" x2="329.35" y2="1212.2" stroke="#a9221d" stroke-width="3.8" stroke-linecap="butt"/>
<line x1="303.65" y1="1229" x2="329.35" y2="1229" stroke="#a9221d" stroke-width="3.8" stroke-linecap="butt"/>
<circle cx="216.97" cy="1197.38" r="5.8" fill="#1e14f0"/>
<circle cx="233.42" cy="1197.79" r="5.8" fill="#1e14f0"/>
<circle cx="249.87" cy="1213.21" r="5.8" fill="#1e14f0"/>
<circle cx="304.37" cy="1211.16" r="5.8" fill="#a9221d"/>
<circle cx="329.05" cy="1213.21" r="5.8" fill="#a9221d"/>
<circle cx="316.3" cy="1236.45" r="5.8" fill="#a9221d"/>
<line x1="183.6" y1="1115.9" x2="183.6" y2="1390.2" stroke="#000" stroke-width="2.5" stroke-linecap="butt"/>
<line x1="176.1" y1="1115.9" x2="183.6" y2="1115.9" stroke="#000" stroke-width="2.5" stroke-linecap="butt"/>
<line x1="176.1" y1="1207.7" x2="183.6" y2="1207.7" stroke="#000" stroke-width="2.5" stroke-linecap="butt"/>
<line x1="176.1" y1="1298.6" x2="183.6" y2="1298.6" stroke="#000" stroke-width="2.5" stroke-linecap="butt"/>
<line x1="176.1" y1="1389" x2="183.6" y2="1389" stroke="#000" stroke-width="2.5" stroke-linecap="butt"/>
<line x1="176.1" y1="1389" x2="366.1" y2="1389" stroke="#000" stroke-width="2.5" stroke-linecap="butt"/>
<line x1="232.9" y1="1389" x2="232.9" y2="1396.5" stroke="#000" stroke-width="2.5" stroke-linecap="butt"/>
<line x1="316.3" y1="1389" x2="316.3" y2="1396.5" stroke="#000" stroke-width="2.5" stroke-linecap="butt"/>
<text x="116.62" y="1129.9" font-size="33.71" fill="#000" textLength="47.86" lengthAdjust="spacingAndGlyphs">0.3</text>
<text x="116.61" y="1221.2" font-size="33.71" fill="#000" textLength="48.23" lengthAdjust="spacingAndGlyphs">0.2</text>
<text x="116.62" y="1312.1" font-size="33.71" fill="#000" textLength="48.04" lengthAdjust="spacingAndGlyphs">0.1</text>
<text x="145.57" y="1402.5" font-size="33.71" fill="#000" textLength="18.75" lengthAdjust="spacingAndGlyphs">0</text>
<text transform="translate(210.2 1445) scale(1.2 1) rotate(-44.57)" x="-2.26" y="0" font-size="29.29" fill="#000" textLength="43.84" lengthAdjust="spacingAndGlyphs">DM</text>
<text transform="translate(284.3 1446.5) scale(1.2 1) rotate(-45.18)" x="-2.07" y="0" font-size="29.29" fill="#000" textLength="51.88" lengthAdjust="spacingAndGlyphs">Lura</text>
<text transform="translate(61.7 1397.3) rotate(-90)" x="-2.46" y="0" font-size="30.29" fill="#000" textLength="285.15" lengthAdjust="spacingAndGlyphs">Relative lipid-ROS of</text>
<text transform="translate(100.8 1378.8) rotate(-90)" x="-2.57" y="0" font-size="30.29" fill="#000" textLength="248.49" lengthAdjust="spacingAndGlyphs">MB49 tumor cells</text>
<path d="M574.1 1384.8 V1191.1 H615.9 V1384.8" fill="#fff" stroke="#1e14f0" stroke-width="4" stroke-linejoin="miter"/>
<path d="M657.3 1384.8 V1171.2 H699.3 V1384.8" fill="#fff" stroke="#a9221d" stroke-width="4" stroke-linejoin="miter"/>
<line x1="594.6" y1="1171.2" x2="594.6" y2="1207.6" stroke="#1e14f0" stroke-width="3.8" stroke-linecap="butt"/>
<line x1="582.45" y1="1171.2" x2="606.75" y2="1171.2" stroke="#1e14f0" stroke-width="3.8" stroke-linecap="butt"/>
<line x1="582.45" y1="1207.6" x2="606.75" y2="1207.6" stroke="#1e14f0" stroke-width="3.8" stroke-linecap="butt"/>
<line x1="678.2" y1="1161.4" x2="678.2" y2="1170.6" stroke="#a9221d" stroke-width="3.8" stroke-linecap="butt"/>
<line x1="666.05" y1="1161.4" x2="690.35" y2="1161.4" stroke="#a9221d" stroke-width="3.8" stroke-linecap="butt"/>
<line x1="666.05" y1="1170.6" x2="690.35" y2="1170.6" stroke="#a9221d" stroke-width="3.8" stroke-linecap="butt"/>
<circle cx="582.83" cy="1167.26" r="5.8" fill="#1e14f0"/>
<circle cx="608.15" cy="1170.57" r="5.8" fill="#1e14f0"/>
<circle cx="594.91" cy="1225.7" r="5.8" fill="#1e14f0"/>
<circle cx="678.27" cy="1154.99" r="5.8" fill="#a9221d"/>
<circle cx="666.59" cy="1172.52" r="5.8" fill="#a9221d"/>
<circle cx="690.93" cy="1176.42" r="5.8" fill="#a9221d"/>
<line x1="544.9" y1="1111.6" x2="544.9" y2="1386" stroke="#000" stroke-width="2.5" stroke-linecap="butt"/>
<line x1="537.4" y1="1111.6" x2="544.9" y2="1111.6" stroke="#000" stroke-width="2.5" stroke-linecap="butt"/>
<line x1="537.4" y1="1180.3" x2="544.9" y2="1180.3" stroke="#000" stroke-width="2.5" stroke-linecap="butt"/>
<line x1="537.4" y1="1249.1" x2="544.9" y2="1249.1" stroke="#000" stroke-width="2.5" stroke-linecap="butt"/>
<line x1="537.4" y1="1317.2" x2="544.9" y2="1317.2" stroke="#000" stroke-width="2.5" stroke-linecap="butt"/>
<line x1="537.4" y1="1384.8" x2="544.9" y2="1384.8" stroke="#000" stroke-width="2.5" stroke-linecap="butt"/>
<line x1="537.4" y1="1384.8" x2="727.9" y2="1384.8" stroke="#000" stroke-width="2.5" stroke-linecap="butt"/>
<line x1="594.6" y1="1384.8" x2="594.6" y2="1392.3" stroke="#000" stroke-width="2.5" stroke-linecap="butt"/>
<line x1="678.1" y1="1384.8" x2="678.1" y2="1392.3" stroke="#000" stroke-width="2.5" stroke-linecap="butt"/>
<text x="480.13" y="1125.8" font-size="33.71" fill="#000" textLength="47.54" lengthAdjust="spacingAndGlyphs">0.8</text>
<text x="480.13" y="1194.5" font-size="33.71" fill="#000" textLength="47.54" lengthAdjust="spacingAndGlyphs">0.6</text>
<text x="480.14" y="1263.3" font-size="33.71" fill="#000" textLength="47.18" lengthAdjust="spacingAndGlyphs">0.4</text>
<text x="480.12" y="1331.4" font-size="33.71" fill="#000" textLength="47.91" lengthAdjust="spacingAndGlyphs">0.2</text>
<text x="508.77" y="1399" font-size="33.71" fill="#000" textLength="18.75" lengthAdjust="spacingAndGlyphs">0</text>
<text transform="translate(571.9 1440.8) scale(1.2 1) rotate(-44.57)" x="-2.26" y="0" font-size="29.29" fill="#000" textLength="43.84" lengthAdjust="spacingAndGlyphs">DM</text>
<text transform="translate(646.1 1442.3) scale(1.2 1) rotate(-45.18)" x="-2.07" y="0" font-size="29.29" fill="#000" textLength="51.88" lengthAdjust="spacingAndGlyphs">Lura</text>
<text transform="translate(430.4 1393.6) rotate(-90)" x="-2.47" y="0" font-size="30" fill="#000" textLength="286.76" lengthAdjust="spacingAndGlyphs">Relative lipid-ROS of</text>
<text transform="translate(469.9 1333.2) rotate(-90)" x="-1.34" y="0" font-size="30" fill="#000" textLength="158.13" lengthAdjust="spacingAndGlyphs">CD8⁺ T cells</text>
<path d="M940.8 1384.8 V1214.1 H982.4 V1384.8" fill="#fff" stroke="#1e14f0" stroke-width="4" stroke-linejoin="miter"/>
<path d="M1024.6 1384.8 V1215.4 H1066.1 V1384.8" fill="#fff" stroke="#a9221d" stroke-width="4" stroke-linejoin="miter"/>
<line x1="961.6" y1="1173.1" x2="961.6" y2="1249.1" stroke="#1e14f0" stroke-width="3.8" stroke-linecap="butt"/>
<line x1="949.6" y1="1173.1" x2="973.6" y2="1173.1" stroke="#1e14f0" stroke-width="3.8" stroke-linecap="butt"/>
<line x1="949.6" y1="1249.1" x2="973.6" y2="1249.1" stroke="#1e14f0" stroke-width="3.8" stroke-linecap="butt"/>
<line x1="1045.3" y1="1207.6" x2="1045.3" y2="1216.3" stroke="#a9221d" stroke-width="3.8" stroke-linecap="butt"/>
<line x1="1033.3" y1="1207.6" x2="1057.3" y2="1207.6" stroke="#a9221d" stroke-width="3.8" stroke-linecap="butt"/>
<line x1="1033.3" y1="1216.3" x2="1057.3" y2="1216.3" stroke="#a9221d" stroke-width="3.8" stroke-linecap="butt"/>
<circle cx="962.18" cy="1162.78" r="5.8" fill="#1e14f0"/>
<circle cx="962.18" cy="1184.21" r="5.8" fill="#1e14f0"/>
<circle cx="962.18" cy="1286.08" r="5.8" fill="#1e14f0"/>
<circle cx="1028.8" cy="1204.66" r="5.8" fill="#a9221d"/>
<circle cx="1044.38" cy="1216.35" r="5.8" fill="#a9221d"/>
<circle cx="1061.52" cy="1219.85" r="5.8" fill="#a9221d"/>
<line x1="911.9" y1="1112.1" x2="911.9" y2="1386" stroke="#000" stroke-width="2.5" stroke-linecap="butt"/>
<line x1="904.4" y1="1112.1" x2="911.9" y2="1112.1" stroke="#000" stroke-width="2.5" stroke-linecap="butt"/>
<line x1="904.4" y1="1167.3" x2="911.9" y2="1167.3" stroke="#000" stroke-width="2.5" stroke-linecap="butt"/>
<line x1="904.4" y1="1221.8" x2="911.9" y2="1221.8" stroke="#000" stroke-width="2.5" stroke-linecap="butt"/>
<line x1="904.4" y1="1276.3" x2="911.9" y2="1276.3" stroke="#000" stroke-width="2.5" stroke-linecap="butt"/>
<line x1="904.4" y1="1330.9" x2="911.9" y2="1330.9" stroke="#000" stroke-width="2.5" stroke-linecap="butt"/>
<line x1="904.4" y1="1384.8" x2="911.9" y2="1384.8" stroke="#000" stroke-width="2.5" stroke-linecap="butt"/>
<line x1="904.4" y1="1384.8" x2="1095" y2="1384.8" stroke="#000" stroke-width="2.5" stroke-linecap="butt"/>
<line x1="961.6" y1="1384.8" x2="961.6" y2="1392.3" stroke="#000" stroke-width="2.5" stroke-linecap="butt"/>
<line x1="1045.3" y1="1384.8" x2="1045.3" y2="1392.3" stroke="#000" stroke-width="2.5" stroke-linecap="butt"/>
<text x="845.98" y="1126.3" font-size="33.71" fill="#000" textLength="48.66" lengthAdjust="spacingAndGlyphs">1.0</text>
<text x="847.23" y="1181.5" font-size="33.71" fill="#000" textLength="47.54" lengthAdjust="spacingAndGlyphs">0.8</text>
<text x="847.23" y="1236" font-size="33.71" fill="#000" textLength="47.54" lengthAdjust="spacingAndGlyphs">0.6</text>
<text x="847.24" y="1290.5" font-size="33.71" fill="#000" textLength="47.18" lengthAdjust="spacingAndGlyphs">0.4</text>
<text x="847.22" y="1345" font-size="33.71" fill="#000" textLength="47.91" lengthAdjust="spacingAndGlyphs">0.2</text>
<text x="875.87" y="1399" font-size="33.71" fill="#000" textLength="18.75" lengthAdjust="spacingAndGlyphs">0</text>
<text transform="translate(938.9 1440.8) scale(1.2 1) rotate(-44.57)" x="-2.26" y="0" font-size="29.29" fill="#000" textLength="43.84" lengthAdjust="spacingAndGlyphs">DM</text>
<text transform="translate(1013.3 1442.3) scale(1.2 1) rotate(-45.18)" x="-2.07" y="0" font-size="29.29" fill="#000" textLength="51.88" lengthAdjust="spacingAndGlyphs">Lura</text>
<text transform="translate(798.5 1391.6) rotate(-90)" x="-2.49" y="0" font-size="30" fill="#000" textLength="288.68" lengthAdjust="spacingAndGlyphs">Relative lipid-ROS of</text>
<text transform="translate(836 1330.3) rotate(-90)" x="-1.4" y="0" font-size="30" fill="#000" textLength="164.11" lengthAdjust="spacingAndGlyphs">CD4⁺ T cells</text>
<text x="1334.69" y="590.78" font-size="56.27" fill="#000" textLength="33.75" lengthAdjust="spacingAndGlyphs" font-weight="bold">g</text>
<text x="1442.59" y="604.4" font-size="32.57" fill="#000" textLength="269.06" lengthAdjust="spacingAndGlyphs">Orthotopic MB49</text>
<text x="1837.36" y="603.6" font-size="30.71" fill="#000" textLength="317.76" lengthAdjust="spacingAndGlyphs">Subcutaneous MB49</text>
<path d="M1488.4 917.8 V769.2 H1526.1 V917.8" fill="#fff" stroke="#000" stroke-width="3.8" stroke-linejoin="miter"/>
<path d="M1553.3 917.8 V835.4 H1591.6 V917.8" fill="#fff" stroke="#000" stroke-width="3.8" stroke-linejoin="miter"/>
<path d="M1618.8 917.8 V856.7 H1656.5 V917.8" fill="#fff" stroke="#000" stroke-width="3.8" stroke-linejoin="miter"/>
<line x1="1507.3" y1="755" x2="1507.3" y2="776.4" stroke="#1e14f0" stroke-width="3.8" stroke-linecap="butt"/>
<line x1="1496.3" y1="755" x2="1518.3" y2="755" stroke="#1e14f0" stroke-width="3.8" stroke-linecap="butt"/>
<line x1="1496.3" y1="776.4" x2="1518.3" y2="776.4" stroke="#1e14f0" stroke-width="3.8" stroke-linecap="butt"/>
<line x1="1572.5" y1="821" x2="1572.5" y2="843.9" stroke="#ebc597" stroke-width="3.8" stroke-linecap="butt"/>
<line x1="1561.5" y1="821" x2="1583.5" y2="821" stroke="#ebc597" stroke-width="3.8" stroke-linecap="butt"/>
<line x1="1561.5" y1="843.9" x2="1583.5" y2="843.9" stroke="#ebc597" stroke-width="3.8" stroke-linecap="butt"/>
<line x1="1637.7" y1="830.4" x2="1637.7" y2="876.4" stroke="#f22a1e" stroke-width="3.8" stroke-linecap="butt"/>
<line x1="1626.7" y1="830.4" x2="1648.7" y2="830.4" stroke="#f22a1e" stroke-width="3.8" stroke-linecap="butt"/>
<line x1="1626.7" y1="876.4" x2="1648.7" y2="876.4" stroke="#f22a1e" stroke-width="3.8" stroke-linecap="butt"/>
<circle cx="1512.99" cy="734.81" r="5.7" fill="#1e14f0"/>
<circle cx="1522.86" cy="737.4" r="5.7" fill="#1e14f0"/>
<circle cx="1490.91" cy="746.49" r="5.7" fill="#1e14f0"/>
<circle cx="1501.3" cy="745.19" r="5.7" fill="#1e14f0"/>
<circle cx="1507.01" cy="768.57" r="5.7" fill="#1e14f0"/>
<circle cx="1507.01" cy="776.36" r="5.7" fill="#1e14f0"/>
<circle cx="1496.62" cy="790.65" r="5.7" fill="#1e14f0"/>
<circle cx="1507.79" cy="799.74" r="5.7" fill="#1e14f0"/>
<circle cx="1517.66" cy="801.04" r="5.7" fill="#1e14f0"/>
<circle cx="1561.82" cy="807.53" r="5.7" fill="#ebc597"/>
<circle cx="1583.64" cy="807.53" r="5.7" fill="#ebc597"/>
<circle cx="1572.21" cy="832.21" r="5.7" fill="#ebc597"/>
<circle cx="1561.82" cy="854.29" r="5.7" fill="#ebc597"/>
<circle cx="1583.64" cy="860.78" r="5.7" fill="#ebc597"/>
<circle cx="1637.66" cy="786.75" r="5.7" fill="#f22a1e"/>
<circle cx="1627.79" cy="830.39" r="5.7" fill="#f22a1e"/>
<circle cx="1648.05" cy="845.19" r="5.7" fill="#f22a1e"/>
<circle cx="1627.79" cy="902.34" r="5.7" fill="#f22a1e"/>
<circle cx="1648.57" cy="902.34" r="5.7" fill="#f22a1e"/>
<line x1="1462.5" y1="644.4" x2="1462.5" y2="919.3" stroke="#000" stroke-width="3" stroke-linecap="butt"/>
<line x1="1454.1" y1="644.4" x2="1462.5" y2="644.4" stroke="#000" stroke-width="3" stroke-linecap="butt"/>
<line x1="1454.1" y1="712.6" x2="1462.5" y2="712.6" stroke="#000" stroke-width="3" stroke-linecap="butt"/>
<line x1="1454.1" y1="780.9" x2="1462.5" y2="780.9" stroke="#000" stroke-width="3" stroke-linecap="butt"/>
<line x1="1454.1" y1="849.3" x2="1462.5" y2="849.3" stroke="#000" stroke-width="3" stroke-linecap="butt"/>
<line x1="1454.1" y1="917.6" x2="1462.5" y2="917.6" stroke="#000" stroke-width="3" stroke-linecap="butt"/>
<line x1="1454.1" y1="917.8" x2="1681.8" y2="917.8" stroke="#000" stroke-width="3" stroke-linecap="butt"/>
<line x1="1506.7" y1="917.8" x2="1506.7" y2="929.3" stroke="#000" stroke-width="3" stroke-linecap="butt"/>
<line x1="1572.6" y1="917.8" x2="1572.6" y2="929.3" stroke="#000" stroke-width="3" stroke-linecap="butt"/>
<line x1="1637.7" y1="917.8" x2="1637.7" y2="929.3" stroke="#000" stroke-width="3" stroke-linecap="butt"/>
<text x="1408.91" y="657.9" font-size="33.86" fill="#000" textLength="38.27" lengthAdjust="spacingAndGlyphs">40</text>
<text x="1408.2" y="726.1" font-size="33.86" fill="#000" textLength="39.01" lengthAdjust="spacingAndGlyphs">30</text>
<text x="1407.83" y="794.4" font-size="33.86" fill="#000" textLength="39.39" lengthAdjust="spacingAndGlyphs">20</text>
<text x="1406.88" y="862.8" font-size="33.86" fill="#000" textLength="40.38" lengthAdjust="spacingAndGlyphs">10</text>
<text x="1425.97" y="931.1" font-size="33.86" fill="#000" textLength="21.32" lengthAdjust="spacingAndGlyphs">0</text>
<text transform="translate(1463.4 1009.4) scale(1.1 1) rotate(-45.2)" x="-2.51" y="0" font-size="29.29" fill="#000" textLength="85.35" lengthAdjust="spacingAndGlyphs">M-Ctrl</text>
<text transform="translate(1524.7 1008.8) scale(1.1 1) rotate(-45.51)" x="-2.3" y="0" font-size="29.29" fill="#000" textLength="90.97" lengthAdjust="spacingAndGlyphs">M-Lura</text>
<text transform="translate(1613.2 1001.6) scale(1.1 1) rotate(-45.05)" x="-2.26" y="0" font-size="29.29" fill="#000" textLength="70.47" lengthAdjust="spacingAndGlyphs">F-Ctrl</text>
<text transform="translate(1353.9 900.2) rotate(-90)" x="-2.81" y="0" font-size="29.29" fill="#000" textLength="247.57" lengthAdjust="spacingAndGlyphs">Intratumor Ly6G⁺</text>
<text transform="translate(1393 886.8) rotate(-90)" x="-2.08" y="0" font-size="29.29" fill="#000" textLength="214.97" lengthAdjust="spacingAndGlyphs">neutrophils (%)</text>
<text x="1504.84" y="672" font-size="32.86" fill="#000" textLength="143.28" lengthAdjust="spacingAndGlyphs">P=0.0018</text>
<line x1="1506.6" y1="676.8" x2="1641.4" y2="676.8" stroke="#000" stroke-width="3.8" stroke-linecap="butt"/>
<text x="1482.34" y="709.9" font-size="32.86" fill="#000" textLength="143.28" lengthAdjust="spacingAndGlyphs">P=0.0013</text>
<line x1="1509.9" y1="718.5" x2="1582.6" y2="718.5" stroke="#000" stroke-width="3.8" stroke-linecap="butt"/>
<path d="M1894.6 917.8 V772.5 H1930.5 V917.8" fill="#fff" stroke="#000" stroke-width="3.8" stroke-linejoin="miter"/>
<path d="M1957.7 917.8 V836.6 H1993.4 V917.8" fill="#fff" stroke="#000" stroke-width="3.8" stroke-linejoin="miter"/>
<path d="M2020.5 917.8 V843.9 H2057 V917.8" fill="#fff" stroke="#000" stroke-width="3.8" stroke-linejoin="miter"/>
<path d="M2083.6 917.8 V833.2 H2120.1 V917.8" fill="#fff" stroke="#000" stroke-width="3.8" stroke-linejoin="miter"/>
<line x1="1912.6" y1="749.8" x2="1912.6" y2="788.8" stroke="#1e14f0" stroke-width="3.8" stroke-linecap="butt"/>
<line x1="1901.6" y1="749.8" x2="1923.6" y2="749.8" stroke="#1e14f0" stroke-width="3.8" stroke-linecap="butt"/>
<line x1="1901.6" y1="788.8" x2="1923.6" y2="788.8" stroke="#1e14f0" stroke-width="3.8" stroke-linecap="butt"/>
<line x1="1975.6" y1="819.9" x2="1975.6" y2="847.7" stroke="#f22a1e" stroke-width="3.8" stroke-linecap="butt"/>
<line x1="1964.6" y1="819.9" x2="1986.6" y2="819.9" stroke="#f22a1e" stroke-width="3.8" stroke-linecap="butt"/>
<line x1="1964.6" y1="847.7" x2="1986.6" y2="847.7" stroke="#f22a1e" stroke-width="3.8" stroke-linecap="butt"/>
<line x1="2038.7" y1="831.3" x2="2038.7" y2="850.3" stroke="#ebc597" stroke-width="3.8" stroke-linecap="butt"/>
<line x1="2027.7" y1="831.3" x2="2049.7" y2="831.3" stroke="#ebc597" stroke-width="3.8" stroke-linecap="butt"/>
<line x1="2027.7" y1="850.3" x2="2049.7" y2="850.3" stroke="#ebc597" stroke-width="3.8" stroke-linecap="butt"/>
<line x1="2101.9" y1="813.4" x2="2101.9" y2="847.7" stroke="#c03cf0" stroke-width="3.8" stroke-linecap="butt"/>
<line x1="2090.9" y1="813.4" x2="2112.9" y2="813.4" stroke="#c03cf0" stroke-width="3.8" stroke-linecap="butt"/>
<line x1="2090.9" y1="847.7" x2="2112.9" y2="847.7" stroke="#c03cf0" stroke-width="3.8" stroke-linecap="butt"/>
<circle cx="1912.68" cy="708.27" r="4.4" fill="#1e14f0"/>
<circle cx="1912.68" cy="723.85" r="4.4" fill="#1e14f0"/>
<circle cx="1912.68" cy="775" r="4.4" fill="#1e14f0"/>
<circle cx="1903.07" cy="785.39" r="4.4" fill="#1e14f0"/>
<circle cx="1923.06" cy="790.58" r="4.4" fill="#1e14f0"/>
<circle cx="1912.68" cy="836.03" r="4.4" fill="#1e14f0"/>
<circle cx="1975.78" cy="749.82" r="4.4" fill="#f22a1e"/>
<circle cx="1961.5" cy="837.33" r="4.4" fill="#f22a1e"/>
<circle cx="1990.06" cy="833.43" r="4.4" fill="#f22a1e"/>
<circle cx="1975.78" cy="854.2" r="4.4" fill="#f22a1e"/>
<circle cx="1968.51" cy="862.51" r="4.4" fill="#f22a1e"/>
<circle cx="1982.79" cy="870.3" r="4.4" fill="#f22a1e"/>
<circle cx="2025.12" cy="823.04" r="4.4" fill="#ebc597"/>
<circle cx="2052.38" cy="813.95" r="4.4" fill="#ebc597"/>
<circle cx="2038.88" cy="825.64" r="4.4" fill="#ebc597"/>
<circle cx="2038.88" cy="850.31" r="4.4" fill="#ebc597"/>
<circle cx="2031.61" cy="865.11" r="4.4" fill="#ebc597"/>
<circle cx="2045.11" cy="866.67" r="4.4" fill="#ebc597"/>
<circle cx="2101.72" cy="775" r="4.4" fill="#c03cf0"/>
<circle cx="2101.72" cy="810.06" r="4.4" fill="#c03cf0"/>
<circle cx="2088.22" cy="826.16" r="4.4" fill="#c03cf0"/>
<circle cx="2115.22" cy="836.03" r="4.4" fill="#c03cf0"/>
<circle cx="2101.72" cy="836.03" r="4.4" fill="#c03cf0"/>
<circle cx="2101.72" cy="899.65" r="4.4" fill="#c03cf0"/>
<line x1="1870.1" y1="644.4" x2="1870.1" y2="919.3" stroke="#000" stroke-width="3" stroke-linecap="butt"/>
<line x1="1861.7" y1="644.4" x2="1870.1" y2="644.4" stroke="#000" stroke-width="3" stroke-linecap="butt"/>
<line x1="1861.7" y1="699.08" x2="1870.1" y2="699.08" stroke="#000" stroke-width="3" stroke-linecap="butt"/>
<line x1="1861.7" y1="753.76" x2="1870.1" y2="753.76" stroke="#000" stroke-width="3" stroke-linecap="butt"/>
<line x1="1861.7" y1="808.44" x2="1870.1" y2="808.44" stroke="#000" stroke-width="3" stroke-linecap="butt"/>
<line x1="1861.7" y1="863.12" x2="1870.1" y2="863.12" stroke="#000" stroke-width="3" stroke-linecap="butt"/>
<line x1="1861.7" y1="917.8" x2="1870.1" y2="917.8" stroke="#000" stroke-width="3" stroke-linecap="butt"/>
<line x1="1861.7" y1="917.8" x2="2144.6" y2="917.8" stroke="#000" stroke-width="3" stroke-linecap="butt"/>
<line x1="1912.6" y1="917.8" x2="1912.6" y2="929.3" stroke="#000" stroke-width="3" stroke-linecap="butt"/>
<line x1="1975.3" y1="917.8" x2="1975.3" y2="929.3" stroke="#000" stroke-width="3" stroke-linecap="butt"/>
<line x1="2038.4" y1="917.8" x2="2038.4" y2="929.3" stroke="#000" stroke-width="3" stroke-linecap="butt"/>
<line x1="2101.5" y1="917.8" x2="2101.5" y2="929.3" stroke="#000" stroke-width="3" stroke-linecap="butt"/>
<text x="1815.87" y="655.4" font-size="33.86" fill="#000" textLength="36.86" lengthAdjust="spacingAndGlyphs">50</text>
<text x="1816.55" y="710.08" font-size="33.86" fill="#000" textLength="36.16" lengthAdjust="spacingAndGlyphs">40</text>
<text x="1815.87" y="764.76" font-size="33.86" fill="#000" textLength="36.86" lengthAdjust="spacingAndGlyphs">30</text>
<text x="1815.53" y="819.44" font-size="33.86" fill="#000" textLength="37.22" lengthAdjust="spacingAndGlyphs">20</text>
<text x="1814.63" y="874.12" font-size="33.86" fill="#000" textLength="38.15" lengthAdjust="spacingAndGlyphs">10</text>
<text x="1833.19" y="928.8" font-size="33.86" fill="#000" textLength="19.58" lengthAdjust="spacingAndGlyphs">0</text>
<text transform="translate(1862.5 1004.5) scale(1.1 1) rotate(-44.43)" x="-2.47" y="0" font-size="29.29" fill="#000" textLength="83.95" lengthAdjust="spacingAndGlyphs">M-Ctrl</text>
<text transform="translate(1937.7 993.2) scale(1.1 1) rotate(-44.34)" x="-2.21" y="0" font-size="29.29" fill="#000" textLength="69.08" lengthAdjust="spacingAndGlyphs">F-Ctrl</text>
<text transform="translate(1975.3 1003.7) scale(1.1 1) rotate(-44.4)" x="-2.41" y="0" font-size="29.29" fill="#000" textLength="95.24" lengthAdjust="spacingAndGlyphs">M-Lura</text>
<text transform="translate(2053.4 994.7) scale(1.1 1) rotate(-45.05)" x="-2.13" y="0" font-size="29.29" fill="#000" textLength="78.59" lengthAdjust="spacingAndGlyphs">F-Lura</text>
<text transform="translate(1760 901) rotate(-90)" x="-2.7" y="0" font-size="29.29" fill="#000" textLength="238.14" lengthAdjust="spacingAndGlyphs">Intratumor Ly6G⁺</text>
<text transform="translate(1799 886.7) rotate(-90)" x="-2.07" y="0" font-size="29.29" fill="#000" textLength="214.56" lengthAdjust="spacingAndGlyphs">neutrophils (%)</text>
<text x="1900.52" y="648.3" font-size="32.86" fill="#000" textLength="144.45" lengthAdjust="spacingAndGlyphs">P=0.0377</text>
<line x1="1901.4" y1="652.8" x2="2036.6" y2="652.8" stroke="#000" stroke-width="3.8" stroke-linecap="butt"/>
<text x="1874.04" y="690.9" font-size="32.86" fill="#000" textLength="143.31" lengthAdjust="spacingAndGlyphs">P=0.0150</text>
<line x1="1901.4" y1="696.7" x2="1963.3" y2="696.7" stroke="#000" stroke-width="3.8" stroke-linecap="butt"/>
<text x="1175.55" y="1102.1" font-size="45.66" fill="#000" textLength="34.49" lengthAdjust="spacingAndGlyphs" font-weight="bold">h</text>
<polyline points="1379,1387.23 1443.3,1305.63 1508.3,1285.06 1573.2,1275.32 1637.7,1208.23 1702.4,1190.91" fill="none" stroke="#ebc396" stroke-width="2.8" stroke-linejoin="round"/>
<line x1="1508.3" y1="1285.06" x2="1508.3" y2="1277.49" stroke="#ebc396" stroke-width="2.8" stroke-linecap="butt"/>
<line x1="1503.5" y1="1277.49" x2="1513.1" y2="1277.49" stroke="#ebc396" stroke-width="2.8" stroke-linecap="butt"/>
<line x1="1637.7" y1="1208.23" x2="1637.7" y2="1186.15" stroke="#ebc396" stroke-width="2.8" stroke-linecap="butt"/>
<line x1="1632.9" y1="1186.15" x2="1642.5" y2="1186.15" stroke="#ebc396" stroke-width="2.8" stroke-linecap="butt"/>
<line x1="1702.4" y1="1190.91" x2="1702.4" y2="1160.61" stroke="#ebc396" stroke-width="2.8" stroke-linecap="butt"/>
<line x1="1697.6" y1="1160.61" x2="1707.2" y2="1160.61" stroke="#ebc396" stroke-width="2.8" stroke-linecap="butt"/>
<circle cx="1379" cy="1387.23" r="5.4" fill="#ebc396"/>
<circle cx="1443.3" cy="1305.63" r="5.4" fill="#ebc396"/>
<circle cx="1508.3" cy="1285.06" r="5.4" fill="#ebc396"/>
<circle cx="1573.2" cy="1275.32" r="5.4" fill="#ebc396"/>
<circle cx="1637.7" cy="1208.23" r="5.4" fill="#ebc396"/>
<circle cx="1702.4" cy="1190.91" r="5.4" fill="#ebc396"/>
<polyline points="1379,1387.23 1443.3,1317.53 1508.3,1325.54 1573.2,1329 1637.7,1307.36 1702.4,1280.09" fill="none" stroke="#f03028" stroke-width="2.8" stroke-linejoin="round"/>
<line x1="1443.3" y1="1317.53" x2="1443.3" y2="1311.04" stroke="#f03028" stroke-width="2.8" stroke-linecap="butt"/>
<line x1="1438.5" y1="1311.04" x2="1448.1" y2="1311.04" stroke="#f03028" stroke-width="2.8" stroke-linecap="butt"/>
<line x1="1573.2" y1="1329" x2="1573.2" y2="1319.05" stroke="#f03028" stroke-width="2.8" stroke-linecap="butt"/>
<line x1="1568.4" y1="1319.05" x2="1578" y2="1319.05" stroke="#f03028" stroke-width="2.8" stroke-linecap="butt"/>
<line x1="1637.7" y1="1307.36" x2="1637.7" y2="1296.97" stroke="#f03028" stroke-width="2.8" stroke-linecap="butt"/>
<line x1="1632.9" y1="1296.97" x2="1642.5" y2="1296.97" stroke="#f03028" stroke-width="2.8" stroke-linecap="butt"/>
<line x1="1702.4" y1="1280.09" x2="1702.4" y2="1261.26" stroke="#f03028" stroke-width="2.8" stroke-linecap="butt"/>
<line x1="1697.6" y1="1261.26" x2="1707.2" y2="1261.26" stroke="#f03028" stroke-width="2.8" stroke-linecap="butt"/>
<circle cx="1379" cy="1387.23" r="5.4" fill="#f03028"/>
<circle cx="1443.3" cy="1317.53" r="5.4" fill="#f03028"/>
<circle cx="1508.3" cy="1325.54" r="5.4" fill="#f03028"/>
<circle cx="1573.2" cy="1329" r="5.4" fill="#f03028"/>
<circle cx="1637.7" cy="1307.36" r="5.4" fill="#f03028"/>
<circle cx="1702.4" cy="1280.09" r="5.4" fill="#f03028"/>
<polyline points="1379,1387.23 1443.3,1306.71 1508.3,1313.85 1573.2,1322.94 1637.7,1280.09 1702.4,1259.74" fill="none" stroke="#c03af2" stroke-width="2.8" stroke-linejoin="round"/>
<line x1="1508.3" y1="1313.85" x2="1508.3" y2="1304.55" stroke="#c03af2" stroke-width="2.8" stroke-linecap="butt"/>
<line x1="1503.5" y1="1304.55" x2="1513.1" y2="1304.55" stroke="#c03af2" stroke-width="2.8" stroke-linecap="butt"/>
<line x1="1573.2" y1="1322.94" x2="1573.2" y2="1311.04" stroke="#c03af2" stroke-width="2.8" stroke-linecap="butt"/>
<line x1="1568.4" y1="1311.04" x2="1578" y2="1311.04" stroke="#c03af2" stroke-width="2.8" stroke-linecap="butt"/>
<line x1="1637.7" y1="1280.09" x2="1637.7" y2="1263.42" stroke="#c03af2" stroke-width="2.8" stroke-linecap="butt"/>
<line x1="1632.9" y1="1263.42" x2="1642.5" y2="1263.42" stroke="#c03af2" stroke-width="2.8" stroke-linecap="butt"/>
<line x1="1702.4" y1="1259.74" x2="1702.4" y2="1242.86" stroke="#c03af2" stroke-width="2.8" stroke-linecap="butt"/>
<line x1="1697.6" y1="1242.86" x2="1707.2" y2="1242.86" stroke="#c03af2" stroke-width="2.8" stroke-linecap="butt"/>
<circle cx="1379" cy="1387.23" r="5.4" fill="#c03af2"/>
<circle cx="1443.3" cy="1306.71" r="5.4" fill="#c03af2"/>
<circle cx="1508.3" cy="1313.85" r="5.4" fill="#c03af2"/>
<circle cx="1573.2" cy="1322.94" r="5.4" fill="#c03af2"/>
<circle cx="1637.7" cy="1280.09" r="5.4" fill="#c03af2"/>
<circle cx="1702.4" cy="1259.74" r="5.4" fill="#c03af2"/>
<polyline points="1379,1387.23 1443.3,1300.22 1508.3,1288.96 1573.2,1261.26 1637.7,1212.55 1702.4,1167.1" fill="none" stroke="#2010ee" stroke-width="2.8" stroke-linejoin="round"/>
<line x1="1508.3" y1="1288.96" x2="1508.3" y2="1282.9" stroke="#2010ee" stroke-width="2.8" stroke-linecap="butt"/>
<line x1="1503.5" y1="1282.9" x2="1513.1" y2="1282.9" stroke="#2010ee" stroke-width="2.8" stroke-linecap="butt"/>
<line x1="1573.2" y1="1261.26" x2="1573.2" y2="1252.6" stroke="#2010ee" stroke-width="2.8" stroke-linecap="butt"/>
<line x1="1568.4" y1="1252.6" x2="1578" y2="1252.6" stroke="#2010ee" stroke-width="2.8" stroke-linecap="butt"/>
<line x1="1637.7" y1="1212.55" x2="1637.7" y2="1197.84" stroke="#2010ee" stroke-width="2.8" stroke-linecap="butt"/>
<line x1="1632.9" y1="1197.84" x2="1642.5" y2="1197.84" stroke="#2010ee" stroke-width="2.8" stroke-linecap="butt"/>
<line x1="1702.4" y1="1167.1" x2="1702.4" y2="1144.37" stroke="#2010ee" stroke-width="2.8" stroke-linecap="butt"/>
<line x1="1697.6" y1="1144.37" x2="1707.2" y2="1144.37" stroke="#2010ee" stroke-width="2.8" stroke-linecap="butt"/>
<circle cx="1379" cy="1387.23" r="5.4" fill="#2010ee"/>
<circle cx="1443.3" cy="1300.22" r="5.4" fill="#2010ee"/>
<circle cx="1508.3" cy="1288.96" r="5.4" fill="#2010ee"/>
<circle cx="1573.2" cy="1261.26" r="5.4" fill="#2010ee"/>
<circle cx="1637.7" cy="1212.55" r="5.4" fill="#2010ee"/>
<circle cx="1702.4" cy="1167.1" r="5.4" fill="#2010ee"/>
<line x1="1336.4" y1="1113.4" x2="1336.4" y2="1388.6" stroke="#000" stroke-width="2.8" stroke-linecap="butt"/>
<line x1="1324.5" y1="1113.4" x2="1336.4" y2="1113.4" stroke="#000" stroke-width="2.8" stroke-linecap="butt"/>
<line x1="1324.5" y1="1205.4" x2="1336.4" y2="1205.4" stroke="#000" stroke-width="2.8" stroke-linecap="butt"/>
<line x1="1324.5" y1="1296.3" x2="1336.4" y2="1296.3" stroke="#000" stroke-width="2.8" stroke-linecap="butt"/>
<line x1="1324.5" y1="1387.1" x2="1336.4" y2="1387.1" stroke="#000" stroke-width="2.8" stroke-linecap="butt"/>
<line x1="1324.5" y1="1387.1" x2="1747.5" y2="1387.1" stroke="#000" stroke-width="2.8" stroke-linecap="butt"/>
<line x1="1379" y1="1387.1" x2="1379" y2="1398.5" stroke="#000" stroke-width="2.8" stroke-linecap="butt"/>
<line x1="1443.3" y1="1387.1" x2="1443.3" y2="1398.5" stroke="#000" stroke-width="2.8" stroke-linecap="butt"/>
<line x1="1508.3" y1="1387.1" x2="1508.3" y2="1398.5" stroke="#000" stroke-width="2.8" stroke-linecap="butt"/>
<line x1="1573.2" y1="1387.1" x2="1573.2" y2="1398.5" stroke="#000" stroke-width="2.8" stroke-linecap="butt"/>
<line x1="1637.7" y1="1387.1" x2="1637.7" y2="1398.5" stroke="#000" stroke-width="2.8" stroke-linecap="butt"/>
<line x1="1702.4" y1="1387.1" x2="1702.4" y2="1398.5" stroke="#000" stroke-width="2.8" stroke-linecap="butt"/>
<text x="1264.04" y="1125.7" font-size="34.14" fill="#000" textLength="56.98" lengthAdjust="spacingAndGlyphs">150</text>
<text x="1264.04" y="1217.2" font-size="34.14" fill="#000" textLength="56.98" lengthAdjust="spacingAndGlyphs">100</text>
<text x="1282.93" y="1309.5" font-size="34.14" fill="#000" textLength="38.05" lengthAdjust="spacingAndGlyphs">50</text>
<text x="1301.07" y="1399.8" font-size="34.14" fill="#000" textLength="19.93" lengthAdjust="spacingAndGlyphs">0</text>
<text x="1369.72" y="1432.9" font-size="33.14" fill="#000" textLength="18.43" lengthAdjust="spacingAndGlyphs">0</text>
<text x="1424.24" y="1432.9" font-size="33.14" fill="#000" textLength="36.87" lengthAdjust="spacingAndGlyphs">10</text>
<text x="1489.49" y="1432.9" font-size="33.14" fill="#000" textLength="36.87" lengthAdjust="spacingAndGlyphs">12</text>
<text x="1554.06" y="1432.9" font-size="33.14" fill="#000" textLength="36.87" lengthAdjust="spacingAndGlyphs">14</text>
<text x="1618.73" y="1432.9" font-size="33.14" fill="#000" textLength="36.87" lengthAdjust="spacingAndGlyphs">16</text>
<text x="1683.43" y="1432.9" font-size="33.14" fill="#000" textLength="36.87" lengthAdjust="spacingAndGlyphs">18</text>
<text x="1328.21" y="1477.5" font-size="32.14" fill="#000" textLength="436.92" lengthAdjust="spacingAndGlyphs">Days after MB49 inoculation</text>
<text transform="translate(1245.5 1356.5) rotate(-90)" x="-0.71" y="0" font-size="33.57" fill="#000" textLength="204.3" lengthAdjust="spacingAndGlyphs">Tumor (mm³)</text>
<text x="1778.3" y="1163.1" font-size="34.71" fill="#000" textLength="271.9" lengthAdjust="spacingAndGlyphs">Male BM chimera</text>
<line x1="1766.2" y1="1176.1" x2="2062.9" y2="1176.1" stroke="#000" stroke-width="2.2" stroke-linecap="butt"/>
<line x1="1781.1" y1="1214.5" x2="1844.3" y2="1214.5" stroke="#2010ee" stroke-width="2.2" stroke-linecap="butt"/>
<circle cx="1810.3" cy="1214.5" r="14" fill="#2010ee"/>
<text x="1855.23" y="1226.3" font-size="29.71" fill="#000" textLength="120.64" lengthAdjust="spacingAndGlyphs">WT-Veh</text>
<line x1="1781.1" y1="1261.4" x2="1844.3" y2="1261.4" stroke="#f03028" stroke-width="2.2" stroke-linecap="butt"/>
<circle cx="1810.3" cy="1261.4" r="14" fill="#f03028"/>
<text x="1855.24" y="1274.1" font-size="29.71" fill="#000" textLength="126.44" lengthAdjust="spacingAndGlyphs">WT-Lura</text>
<line x1="1781.1" y1="1310.1" x2="1844.3" y2="1310.1" stroke="#ebc396" stroke-width="2.2" stroke-linecap="butt"/>
<circle cx="1810.3" cy="1310.1" r="14" fill="#ebc396"/>
<text x="1852.75" y="1322.8" font-size="29.71" fill="#000" textLength="196.99" lengthAdjust="spacingAndGlyphs"><tspan font-style="italic">Drd2</tspan> KO-Veh</text>
<line x1="1781.1" y1="1356.5" x2="1844.3" y2="1356.5" stroke="#c03af2" stroke-width="2.2" stroke-linecap="butt"/>
<circle cx="1810.3" cy="1356.5" r="14" fill="#c03af2"/>
<text x="1852.78" y="1369.7" font-size="29.71" fill="#000" textLength="203.81" lengthAdjust="spacingAndGlyphs"><tspan font-style="italic">Drd2</tspan> KO-Lura</text>
<text x="-0.05" y="1529.4" font-size="54.48" fill="#000" textLength="16.87" lengthAdjust="spacingAndGlyphs" font-weight="bold">i</text>
<rect x="151.4" y="1735.5" width="57.6" height="72.7" fill="#5b78d8" stroke="#777" stroke-width="1"/>
<rect x="222.4" y="1723.3" width="56.4" height="95.7" fill="#fdfdfd" stroke="#888" stroke-width="1"/>
<rect x="292.4" y="1676.3" width="55.9" height="123.5" fill="#e26b5b" stroke="#888" stroke-width="1"/>
<line x1="180.2" y1="1632.6" x2="180.2" y2="1735.5" stroke="#666" stroke-width="1.2" stroke-linecap="butt"/>
<line x1="180.2" y1="1808.2" x2="180.2" y2="1820.4" stroke="#666" stroke-width="1.2" stroke-linecap="butt"/>
<line x1="165.4" y1="1632.6" x2="195" y2="1632.6" stroke="#666" stroke-width="1.2" stroke-linecap="butt"/>
<line x1="165.4" y1="1820.4" x2="195" y2="1820.4" stroke="#666" stroke-width="1.2" stroke-linecap="butt"/>
<line x1="250.5" y1="1603.5" x2="250.5" y2="1723.3" stroke="#666" stroke-width="1.2" stroke-linecap="butt"/>
<line x1="250.5" y1="1819" x2="250.5" y2="1822" stroke="#666" stroke-width="1.2" stroke-linecap="butt"/>
<line x1="235.9" y1="1603.5" x2="265.1" y2="1603.5" stroke="#666" stroke-width="1.2" stroke-linecap="butt"/>
<line x1="235.9" y1="1822" x2="265.1" y2="1822" stroke="#666" stroke-width="1.2" stroke-linecap="butt"/>
<line x1="320.7" y1="1643.9" x2="320.7" y2="1676.3" stroke="#666" stroke-width="1.2" stroke-linecap="butt"/>
<line x1="320.7" y1="1799.8" x2="320.7" y2="1820.4" stroke="#666" stroke-width="1.2" stroke-linecap="butt"/>
<line x1="306.55" y1="1643.9" x2="334.85" y2="1643.9" stroke="#666" stroke-width="1.2" stroke-linecap="butt"/>
<line x1="306.55" y1="1820.4" x2="334.85" y2="1820.4" stroke="#666" stroke-width="1.2" stroke-linecap="butt"/>
<line x1="151.4" y1="1793.5" x2="209" y2="1793.5" stroke="#555" stroke-width="1.2" stroke-linecap="butt"/>
<line x1="222.4" y1="1786.1" x2="278.8" y2="1786.1" stroke="#555" stroke-width="1.2" stroke-linecap="butt"/>
<line x1="292.4" y1="1735.1" x2="348.3" y2="1735.1" stroke="#555" stroke-width="1.2" stroke-linecap="butt"/>
<g fill="#808080" fill-opacity="0.8" stroke="#444" stroke-width="0.45">
<circle cx="179.94" cy="1646.68" r="1.35"/>
<circle cx="179.99" cy="1649.98" r="1.35"/>
<circle cx="180.27" cy="1652.72" r="1.35"/>
<circle cx="179.8" cy="1658.9" r="1.35"/>
<circle cx="180.1" cy="1665.08" r="1.35"/>
<circle cx="180.56" cy="1668.23" r="1.35"/>
<circle cx="178.61" cy="1674.14" r="1.35"/>
<circle cx="181.94" cy="1673.46" r="1.35"/>
<circle cx="180.52" cy="1680.34" r="1.35"/>
<circle cx="180.5" cy="1683.36" r="1.35"/>
<circle cx="180.11" cy="1685.88" r="1.35"/>
<circle cx="179.88" cy="1695.16" r="1.35"/>
<circle cx="179.85" cy="1697.48" r="1.35"/>
<circle cx="179.97" cy="1700.59" r="1.35"/>
<circle cx="178.47" cy="1703.46" r="1.35"/>
<circle cx="181.4" cy="1703.58" r="1.35"/>
<circle cx="179.88" cy="1706.84" r="1.35"/>
<circle cx="179.82" cy="1710.45" r="1.35"/>
<circle cx="180.29" cy="1712.58" r="1.35"/>
<circle cx="180" cy="1718.82" r="1.35"/>
<circle cx="180.09" cy="1721.55" r="1.35"/>
<circle cx="180.48" cy="1725.59" r="1.35"/>
<circle cx="178.57" cy="1727.98" r="1.35"/>
<circle cx="181.47" cy="1727.52" r="1.35"/>
<circle cx="178.47" cy="1730.72" r="1.35"/>
<circle cx="182.06" cy="1730.59" r="1.35"/>
<circle cx="179.82" cy="1734.54" r="1.35"/>
<circle cx="180.22" cy="1736.58" r="1.35"/>
<circle cx="178.63" cy="1739.43" r="1.35"/>
<circle cx="181.82" cy="1740.57" r="1.35"/>
<circle cx="180.49" cy="1743.24" r="1.35"/>
<circle cx="180.01" cy="1745.84" r="1.35"/>
<circle cx="179.93" cy="1749.33" r="1.35"/>
<circle cx="178.63" cy="1752.33" r="1.35"/>
<circle cx="181.66" cy="1751.67" r="1.35"/>
<circle cx="180.45" cy="1755.58" r="1.35"/>
<circle cx="180.48" cy="1758.37" r="1.35"/>
<circle cx="180.45" cy="1764.29" r="1.35"/>
<circle cx="179.98" cy="1770.02" r="1.35"/>
<circle cx="180.08" cy="1772.43" r="1.35"/>
<circle cx="179.82" cy="1775.74" r="1.35"/>
<circle cx="178.41" cy="1779.23" r="1.35"/>
<circle cx="182.17" cy="1778.94" r="1.35"/>
<circle cx="180.55" cy="1782.59" r="1.35"/>
<circle cx="180.56" cy="1784.84" r="1.35"/>
<circle cx="167.18" cy="1791.67" r="1.35"/>
<circle cx="170.36" cy="1791.65" r="1.35"/>
<circle cx="173.9" cy="1792.48" r="1.35"/>
<circle cx="177.27" cy="1791.98" r="1.35"/>
<circle cx="180.32" cy="1792.36" r="1.35"/>
<circle cx="183.07" cy="1792.19" r="1.35"/>
<circle cx="186.93" cy="1792.34" r="1.35"/>
<circle cx="190" cy="1791.97" r="1.35"/>
<circle cx="192.74" cy="1792.35" r="1.35"/>
<circle cx="170.47" cy="1795.36" r="1.35"/>
<circle cx="174.18" cy="1794.88" r="1.35"/>
<circle cx="176.92" cy="1795.54" r="1.35"/>
<circle cx="180.38" cy="1794.6" r="1.35"/>
<circle cx="183.1" cy="1794.58" r="1.35"/>
<circle cx="186.92" cy="1795.37" r="1.35"/>
<circle cx="189.52" cy="1795.39" r="1.35"/>
<circle cx="164.58" cy="1798.19" r="1.35"/>
<circle cx="167.28" cy="1798.06" r="1.35"/>
<circle cx="170.3" cy="1797.42" r="1.35"/>
<circle cx="174.18" cy="1798.18" r="1.35"/>
<circle cx="177.02" cy="1798.52" r="1.35"/>
<circle cx="180.15" cy="1798.45" r="1.35"/>
<circle cx="183.66" cy="1797.65" r="1.35"/>
<circle cx="186.4" cy="1797.75" r="1.35"/>
<circle cx="189.59" cy="1798.1" r="1.35"/>
<circle cx="192.81" cy="1797.9" r="1.35"/>
<circle cx="195.9" cy="1798.49" r="1.35"/>
<circle cx="167.28" cy="1800.95" r="1.35"/>
<circle cx="170.67" cy="1801.49" r="1.35"/>
<circle cx="173.74" cy="1801.5" r="1.35"/>
<circle cx="177" cy="1801.04" r="1.35"/>
<circle cx="180.22" cy="1800.42" r="1.35"/>
<circle cx="183.35" cy="1800.62" r="1.35"/>
<circle cx="186.2" cy="1801.36" r="1.35"/>
<circle cx="189.54" cy="1800.97" r="1.35"/>
<circle cx="193.18" cy="1801.07" r="1.35"/>
<circle cx="160.86" cy="1804.02" r="1.35"/>
<circle cx="164.24" cy="1804.34" r="1.35"/>
<circle cx="167.08" cy="1804.07" r="1.35"/>
<circle cx="170.4" cy="1803.73" r="1.35"/>
<circle cx="174.02" cy="1804.01" r="1.35"/>
<circle cx="177.05" cy="1804.31" r="1.35"/>
<circle cx="180.53" cy="1803.93" r="1.35"/>
<circle cx="183.49" cy="1804.01" r="1.35"/>
<circle cx="186.61" cy="1804.23" r="1.35"/>
<circle cx="189.76" cy="1804.04" r="1.35"/>
<circle cx="192.98" cy="1804.53" r="1.35"/>
<circle cx="196.36" cy="1804.45" r="1.35"/>
<circle cx="199.75" cy="1803.71" r="1.35"/>
<circle cx="164.25" cy="1807.53" r="1.35"/>
<circle cx="167.67" cy="1806.56" r="1.35"/>
<circle cx="170.3" cy="1806.93" r="1.35"/>
<circle cx="173.46" cy="1806.69" r="1.35"/>
<circle cx="176.66" cy="1807.2" r="1.35"/>
<circle cx="180.43" cy="1807.48" r="1.35"/>
<circle cx="183.12" cy="1807.26" r="1.35"/>
<circle cx="186.73" cy="1806.57" r="1.35"/>
<circle cx="190.11" cy="1807.56" r="1.35"/>
<circle cx="192.78" cy="1807.54" r="1.35"/>
<circle cx="196.12" cy="1806.98" r="1.35"/>
<circle cx="154.99" cy="1810.4" r="1.35"/>
<circle cx="157.53" cy="1809.92" r="1.35"/>
<circle cx="161.01" cy="1809.81" r="1.35"/>
<circle cx="163.96" cy="1809.78" r="1.35"/>
<circle cx="167.58" cy="1809.42" r="1.35"/>
<circle cx="170.64" cy="1809.93" r="1.35"/>
<circle cx="173.41" cy="1809.8" r="1.35"/>
<circle cx="177.1" cy="1810.01" r="1.35"/>
<circle cx="179.85" cy="1810.58" r="1.35"/>
<circle cx="183.63" cy="1810.57" r="1.35"/>
<circle cx="186.28" cy="1809.72" r="1.35"/>
<circle cx="189.43" cy="1810.33" r="1.35"/>
<circle cx="192.82" cy="1809.56" r="1.35"/>
<circle cx="196.14" cy="1810.49" r="1.35"/>
<circle cx="199.66" cy="1809.71" r="1.35"/>
<circle cx="202.32" cy="1810.5" r="1.35"/>
<circle cx="205.86" cy="1810.24" r="1.35"/>
<circle cx="157.47" cy="1812.47" r="1.35"/>
<circle cx="161.15" cy="1812.91" r="1.35"/>
<circle cx="163.86" cy="1813.53" r="1.35"/>
<circle cx="167.51" cy="1813.36" r="1.35"/>
<circle cx="170.27" cy="1813.43" r="1.35"/>
<circle cx="173.45" cy="1813.44" r="1.35"/>
<circle cx="176.96" cy="1812.81" r="1.35"/>
<circle cx="180.24" cy="1813.51" r="1.35"/>
<circle cx="183.21" cy="1812.56" r="1.35"/>
<circle cx="186.62" cy="1812.69" r="1.35"/>
<circle cx="189.49" cy="1812.59" r="1.35"/>
<circle cx="192.64" cy="1812.64" r="1.35"/>
<circle cx="196.05" cy="1812.77" r="1.35"/>
<circle cx="199.61" cy="1812.75" r="1.35"/>
<circle cx="202.6" cy="1812.61" r="1.35"/>
<circle cx="151.28" cy="1815.42" r="1.35"/>
<circle cx="154.4" cy="1815.42" r="1.35"/>
<circle cx="157.99" cy="1816.06" r="1.35"/>
<circle cx="160.75" cy="1815.97" r="1.35"/>
<circle cx="164.55" cy="1815.53" r="1.35"/>
<circle cx="167.66" cy="1815.92" r="1.35"/>
<circle cx="170.6" cy="1816.4" r="1.35"/>
<circle cx="173.71" cy="1816.01" r="1.35"/>
<circle cx="177.15" cy="1816.58" r="1.35"/>
<circle cx="180.07" cy="1816.4" r="1.35"/>
<circle cx="183.57" cy="1816.16" r="1.35"/>
<circle cx="186.52" cy="1815.82" r="1.35"/>
<circle cx="189.44" cy="1815.56" r="1.35"/>
<circle cx="192.66" cy="1816.29" r="1.35"/>
<circle cx="196" cy="1815.6" r="1.35"/>
<circle cx="199.07" cy="1816.41" r="1.35"/>
<circle cx="202.9" cy="1816.2" r="1.35"/>
<circle cx="205.63" cy="1815.69" r="1.35"/>
<circle cx="208.83" cy="1815.95" r="1.35"/>
<circle cx="160.73" cy="1818.93" r="1.35"/>
<circle cx="164.01" cy="1819.55" r="1.35"/>
<circle cx="167.78" cy="1819.06" r="1.35"/>
<circle cx="170.4" cy="1819.56" r="1.35"/>
<circle cx="173.65" cy="1818.83" r="1.35"/>
<circle cx="176.6" cy="1818.86" r="1.35"/>
<circle cx="180.18" cy="1819" r="1.35"/>
<circle cx="183.16" cy="1819.01" r="1.35"/>
<circle cx="186.2" cy="1818.72" r="1.35"/>
<circle cx="189.47" cy="1818.88" r="1.35"/>
<circle cx="192.63" cy="1818.43" r="1.35"/>
<circle cx="196.04" cy="1818.68" r="1.35"/>
<circle cx="199.47" cy="1819.04" r="1.35"/>
<circle cx="170.8" cy="1822.19" r="1.35"/>
<circle cx="173.97" cy="1822.45" r="1.35"/>
<circle cx="176.91" cy="1821.79" r="1.35"/>
<circle cx="180.59" cy="1821.58" r="1.35"/>
<circle cx="183.58" cy="1822.17" r="1.35"/>
<circle cx="186.24" cy="1822.4" r="1.35"/>
<circle cx="190.11" cy="1822.15" r="1.35"/>
<circle cx="250.65" cy="1604.21" r="1.35"/>
<circle cx="250.33" cy="1607.42" r="1.35"/>
<circle cx="250.47" cy="1610.76" r="1.35"/>
<circle cx="250.19" cy="1614.67" r="1.35"/>
<circle cx="250.26" cy="1618.17" r="1.35"/>
<circle cx="250.85" cy="1620.42" r="1.35"/>
<circle cx="250.47" cy="1624.78" r="1.35"/>
<circle cx="250.87" cy="1627.74" r="1.35"/>
<circle cx="250.31" cy="1630.85" r="1.35"/>
<circle cx="250.86" cy="1634.25" r="1.35"/>
<circle cx="250.57" cy="1637.57" r="1.35"/>
<circle cx="250.52" cy="1641.94" r="1.35"/>
<circle cx="250.21" cy="1645.18" r="1.35"/>
<circle cx="248.66" cy="1648.66" r="1.35"/>
<circle cx="252.51" cy="1647.88" r="1.35"/>
<circle cx="248.97" cy="1651.58" r="1.35"/>
<circle cx="251.97" cy="1651" r="1.35"/>
<circle cx="248.64" cy="1654.94" r="1.35"/>
<circle cx="252.19" cy="1654.57" r="1.35"/>
<circle cx="244.83" cy="1658.18" r="1.35"/>
<circle cx="248.92" cy="1657.8" r="1.35"/>
<circle cx="252.55" cy="1658.81" r="1.35"/>
<circle cx="255.75" cy="1658.91" r="1.35"/>
<circle cx="241.42" cy="1662.28" r="1.35"/>
<circle cx="244.78" cy="1661.65" r="1.35"/>
<circle cx="248.56" cy="1662.4" r="1.35"/>
<circle cx="252.42" cy="1661.63" r="1.35"/>
<circle cx="255.99" cy="1661.53" r="1.35"/>
<circle cx="259.39" cy="1661.32" r="1.35"/>
<circle cx="239.67" cy="1664.94" r="1.35"/>
<circle cx="243.45" cy="1664.9" r="1.35"/>
<circle cx="246.61" cy="1665.21" r="1.35"/>
<circle cx="250.25" cy="1665.05" r="1.35"/>
<circle cx="254.56" cy="1665.66" r="1.35"/>
<circle cx="258.15" cy="1665.36" r="1.35"/>
<circle cx="261.93" cy="1665.73" r="1.35"/>
<circle cx="237.59" cy="1668.86" r="1.35"/>
<circle cx="240.89" cy="1668.88" r="1.35"/>
<circle cx="244.91" cy="1668.9" r="1.35"/>
<circle cx="248.77" cy="1668.34" r="1.35"/>
<circle cx="251.99" cy="1669.11" r="1.35"/>
<circle cx="255.75" cy="1668.57" r="1.35"/>
<circle cx="259.62" cy="1668.36" r="1.35"/>
<circle cx="263.64" cy="1669.17" r="1.35"/>
<circle cx="237.36" cy="1672.19" r="1.35"/>
<circle cx="241.09" cy="1672.07" r="1.35"/>
<circle cx="244.87" cy="1671.6" r="1.35"/>
<circle cx="248.38" cy="1671.65" r="1.35"/>
<circle cx="252.67" cy="1672" r="1.35"/>
<circle cx="255.83" cy="1672.49" r="1.35"/>
<circle cx="260.15" cy="1671.94" r="1.35"/>
<circle cx="263.16" cy="1671.63" r="1.35"/>
<circle cx="239.07" cy="1675.21" r="1.35"/>
<circle cx="242.77" cy="1675.09" r="1.35"/>
<circle cx="246.61" cy="1675.48" r="1.35"/>
<circle cx="250.81" cy="1675.7" r="1.35"/>
<circle cx="254.13" cy="1675.3" r="1.35"/>
<circle cx="257.92" cy="1675.25" r="1.35"/>
<circle cx="261.47" cy="1674.87" r="1.35"/>
<circle cx="241.07" cy="1679.36" r="1.35"/>
<circle cx="244.65" cy="1678.8" r="1.35"/>
<circle cx="248.75" cy="1679.24" r="1.35"/>
<circle cx="252.12" cy="1678.53" r="1.35"/>
<circle cx="255.85" cy="1678.68" r="1.35"/>
<circle cx="259.71" cy="1679.34" r="1.35"/>
<circle cx="243.38" cy="1682.65" r="1.35"/>
<circle cx="246.42" cy="1681.64" r="1.35"/>
<circle cx="250.67" cy="1682.67" r="1.35"/>
<circle cx="254.18" cy="1682.3" r="1.35"/>
<circle cx="257.5" cy="1682.07" r="1.35"/>
<circle cx="241.59" cy="1685.99" r="1.35"/>
<circle cx="245.23" cy="1686.17" r="1.35"/>
<circle cx="248.45" cy="1685.13" r="1.35"/>
<circle cx="252.07" cy="1685.63" r="1.35"/>
<circle cx="256.2" cy="1686.13" r="1.35"/>
<circle cx="259.93" cy="1685.78" r="1.35"/>
<circle cx="243.31" cy="1688.95" r="1.35"/>
<circle cx="246.84" cy="1688.45" r="1.35"/>
<circle cx="250.73" cy="1688.68" r="1.35"/>
<circle cx="254.54" cy="1689.17" r="1.35"/>
<circle cx="257.74" cy="1688.55" r="1.35"/>
<circle cx="242.9" cy="1692.56" r="1.35"/>
<circle cx="246.96" cy="1691.93" r="1.35"/>
<circle cx="250.16" cy="1692.43" r="1.35"/>
<circle cx="254.27" cy="1692.27" r="1.35"/>
<circle cx="257.68" cy="1692.52" r="1.35"/>
<circle cx="242.71" cy="1695.56" r="1.35"/>
<circle cx="246.77" cy="1696.35" r="1.35"/>
<circle cx="250.62" cy="1696.26" r="1.35"/>
<circle cx="254.18" cy="1695.48" r="1.35"/>
<circle cx="257.7" cy="1696.35" r="1.35"/>
<circle cx="243.26" cy="1698.97" r="1.35"/>
<circle cx="246.42" cy="1699.2" r="1.35"/>
<circle cx="250.64" cy="1699.1" r="1.35"/>
<circle cx="254.01" cy="1699.4" r="1.35"/>
<circle cx="258.24" cy="1698.87" r="1.35"/>
<circle cx="244.58" cy="1702.41" r="1.35"/>
<circle cx="248.59" cy="1702.82" r="1.35"/>
<circle cx="252.11" cy="1702.96" r="1.35"/>
<circle cx="256.24" cy="1702.61" r="1.35"/>
<circle cx="242.86" cy="1706.56" r="1.35"/>
<circle cx="246.65" cy="1706.38" r="1.35"/>
<circle cx="250.28" cy="1705.67" r="1.35"/>
<circle cx="254.41" cy="1705.75" r="1.35"/>
<circle cx="258.26" cy="1705.99" r="1.35"/>
<circle cx="244.7" cy="1709.07" r="1.35"/>
<circle cx="248.58" cy="1709.6" r="1.35"/>
<circle cx="252.71" cy="1708.98" r="1.35"/>
<circle cx="255.96" cy="1709.06" r="1.35"/>
<circle cx="245.33" cy="1712.37" r="1.35"/>
<circle cx="248.29" cy="1712.27" r="1.35"/>
<circle cx="252.26" cy="1713.28" r="1.35"/>
<circle cx="256.36" cy="1713.08" r="1.35"/>
<circle cx="245.35" cy="1716.72" r="1.35"/>
<circle cx="248.51" cy="1715.82" r="1.35"/>
<circle cx="252.7" cy="1716.5" r="1.35"/>
<circle cx="255.68" cy="1716.4" r="1.35"/>
<circle cx="243" cy="1719.45" r="1.35"/>
<circle cx="246.67" cy="1719.2" r="1.35"/>
<circle cx="250.1" cy="1719.34" r="1.35"/>
<circle cx="254.08" cy="1720.15" r="1.35"/>
<circle cx="257.6" cy="1720.16" r="1.35"/>
<circle cx="242.87" cy="1722.83" r="1.35"/>
<circle cx="247.06" cy="1723.39" r="1.35"/>
<circle cx="250.45" cy="1722.46" r="1.35"/>
<circle cx="254.18" cy="1722.85" r="1.35"/>
<circle cx="258.24" cy="1722.63" r="1.35"/>
<circle cx="241.14" cy="1726.88" r="1.35"/>
<circle cx="244.57" cy="1726.29" r="1.35"/>
<circle cx="248.9" cy="1726.72" r="1.35"/>
<circle cx="251.98" cy="1725.84" r="1.35"/>
<circle cx="255.7" cy="1726.9" r="1.35"/>
<circle cx="259.56" cy="1726.7" r="1.35"/>
<circle cx="239.72" cy="1729.61" r="1.35"/>
<circle cx="242.92" cy="1730.35" r="1.35"/>
<circle cx="246.89" cy="1729.51" r="1.35"/>
<circle cx="250.67" cy="1729.58" r="1.35"/>
<circle cx="254.02" cy="1729.2" r="1.35"/>
<circle cx="258.1" cy="1730.3" r="1.35"/>
<circle cx="261.71" cy="1730.33" r="1.35"/>
<circle cx="239.02" cy="1732.88" r="1.35"/>
<circle cx="243.08" cy="1733.75" r="1.35"/>
<circle cx="247.16" cy="1733.06" r="1.35"/>
<circle cx="250.3" cy="1733.12" r="1.35"/>
<circle cx="254.19" cy="1733.71" r="1.35"/>
<circle cx="257.65" cy="1733.56" r="1.35"/>
<circle cx="261.79" cy="1733.59" r="1.35"/>
<circle cx="239.62" cy="1736.73" r="1.35"/>
<circle cx="242.96" cy="1736.38" r="1.35"/>
<circle cx="246.69" cy="1736.94" r="1.35"/>
<circle cx="250.16" cy="1736.24" r="1.35"/>
<circle cx="254.4" cy="1736.3" r="1.35"/>
<circle cx="257.55" cy="1736.04" r="1.35"/>
<circle cx="261.64" cy="1736.39" r="1.35"/>
<circle cx="239.78" cy="1740.46" r="1.35"/>
<circle cx="243.49" cy="1739.72" r="1.35"/>
<circle cx="246.47" cy="1739.52" r="1.35"/>
<circle cx="250.5" cy="1740.25" r="1.35"/>
<circle cx="254.16" cy="1739.68" r="1.35"/>
<circle cx="257.83" cy="1740.14" r="1.35"/>
<circle cx="261.74" cy="1740.3" r="1.35"/>
<circle cx="239.68" cy="1743.6" r="1.35"/>
<circle cx="242.8" cy="1743.81" r="1.35"/>
<circle cx="246.64" cy="1743.48" r="1.35"/>
<circle cx="250.4" cy="1743.69" r="1.35"/>
<circle cx="253.96" cy="1743.1" r="1.35"/>
<circle cx="257.7" cy="1742.98" r="1.35"/>
<circle cx="261.91" cy="1743.49" r="1.35"/>
<circle cx="237.41" cy="1746.68" r="1.35"/>
<circle cx="241.64" cy="1746.81" r="1.35"/>
<circle cx="244.74" cy="1747.17" r="1.35"/>
<circle cx="248.77" cy="1747.39" r="1.35"/>
<circle cx="252.03" cy="1746.77" r="1.35"/>
<circle cx="256.31" cy="1747.21" r="1.35"/>
<circle cx="260.08" cy="1746.25" r="1.35"/>
<circle cx="263.28" cy="1746.34" r="1.35"/>
<circle cx="239.15" cy="1750.77" r="1.35"/>
<circle cx="243.17" cy="1750.72" r="1.35"/>
<circle cx="246.7" cy="1750.64" r="1.35"/>
<circle cx="250.46" cy="1749.91" r="1.35"/>
<circle cx="254.42" cy="1750.73" r="1.35"/>
<circle cx="257.58" cy="1750.32" r="1.35"/>
<circle cx="261.7" cy="1749.86" r="1.35"/>
<circle cx="237.44" cy="1753.17" r="1.35"/>
<circle cx="241.01" cy="1753.31" r="1.35"/>
<circle cx="245.03" cy="1753.78" r="1.35"/>
<circle cx="248.41" cy="1753.01" r="1.35"/>
<circle cx="252.21" cy="1753.81" r="1.35"/>
<circle cx="255.8" cy="1753.37" r="1.35"/>
<circle cx="259.51" cy="1753.95" r="1.35"/>
<circle cx="263.49" cy="1753.08" r="1.35"/>
<circle cx="239.08" cy="1756.87" r="1.35"/>
<circle cx="243.14" cy="1757.17" r="1.35"/>
<circle cx="246.47" cy="1756.6" r="1.35"/>
<circle cx="250.66" cy="1756.89" r="1.35"/>
<circle cx="254.03" cy="1756.77" r="1.35"/>
<circle cx="258.26" cy="1756.77" r="1.35"/>
<circle cx="261.65" cy="1756.83" r="1.35"/>
<circle cx="239.33" cy="1760.84" r="1.35"/>
<circle cx="243.5" cy="1760.24" r="1.35"/>
<circle cx="246.56" cy="1760.67" r="1.35"/>
<circle cx="250.26" cy="1759.81" r="1.35"/>
<circle cx="254.52" cy="1760.31" r="1.35"/>
<circle cx="258.16" cy="1760.29" r="1.35"/>
<circle cx="261.91" cy="1760.35" r="1.35"/>
<circle cx="237.28" cy="1763.22" r="1.35"/>
<circle cx="241.29" cy="1763.97" r="1.35"/>
<circle cx="245.28" cy="1763.31" r="1.35"/>
<circle cx="248.75" cy="1763.65" r="1.35"/>
<circle cx="252.35" cy="1763.38" r="1.35"/>
<circle cx="255.88" cy="1763.83" r="1.35"/>
<circle cx="260.09" cy="1763.33" r="1.35"/>
<circle cx="263.44" cy="1764.17" r="1.35"/>
<circle cx="236.07" cy="1766.84" r="1.35"/>
<circle cx="239.1" cy="1767.73" r="1.35"/>
<circle cx="243.48" cy="1767.18" r="1.35"/>
<circle cx="246.44" cy="1767.71" r="1.35"/>
<circle cx="250.41" cy="1767.69" r="1.35"/>
<circle cx="254.3" cy="1767.59" r="1.35"/>
<circle cx="257.63" cy="1767.54" r="1.35"/>
<circle cx="261.38" cy="1767.09" r="1.35"/>
<circle cx="265.58" cy="1767.6" r="1.35"/>
<circle cx="235.45" cy="1770.26" r="1.35"/>
<circle cx="239.32" cy="1770.62" r="1.35"/>
<circle cx="243.01" cy="1770.15" r="1.35"/>
<circle cx="246.6" cy="1770.87" r="1.35"/>
<circle cx="250.82" cy="1770.05" r="1.35"/>
<circle cx="254.25" cy="1770.91" r="1.35"/>
<circle cx="257.53" cy="1771.01" r="1.35"/>
<circle cx="261.29" cy="1770.72" r="1.35"/>
<circle cx="265.34" cy="1770.75" r="1.35"/>
<circle cx="233.69" cy="1773.9" r="1.35"/>
<circle cx="237.62" cy="1773.91" r="1.35"/>
<circle cx="241.38" cy="1773.94" r="1.35"/>
<circle cx="244.9" cy="1773.43" r="1.35"/>
<circle cx="248.75" cy="1773.99" r="1.35"/>
<circle cx="252.14" cy="1774.32" r="1.35"/>
<circle cx="256.27" cy="1773.95" r="1.35"/>
<circle cx="259.49" cy="1773.97" r="1.35"/>
<circle cx="263.14" cy="1773.55" r="1.35"/>
<circle cx="267.09" cy="1773.51" r="1.35"/>
<circle cx="233.8" cy="1777.41" r="1.35"/>
<circle cx="237.18" cy="1777.56" r="1.35"/>
<circle cx="240.92" cy="1777.68" r="1.35"/>
<circle cx="245.17" cy="1777.41" r="1.35"/>
<circle cx="248.29" cy="1777.4" r="1.35"/>
<circle cx="252.25" cy="1777.94" r="1.35"/>
<circle cx="255.76" cy="1777.83" r="1.35"/>
<circle cx="260.15" cy="1777.68" r="1.35"/>
<circle cx="263.7" cy="1777.03" r="1.35"/>
<circle cx="267.54" cy="1777.39" r="1.35"/>
<circle cx="234.22" cy="1781.3" r="1.35"/>
<circle cx="237.28" cy="1781.15" r="1.35"/>
<circle cx="241.59" cy="1780.28" r="1.35"/>
<circle cx="244.83" cy="1781.11" r="1.35"/>
<circle cx="248.38" cy="1781.28" r="1.35"/>
<circle cx="252.17" cy="1781.18" r="1.35"/>
<circle cx="255.76" cy="1780.8" r="1.35"/>
<circle cx="260.09" cy="1780.45" r="1.35"/>
<circle cx="263.26" cy="1780.81" r="1.35"/>
<circle cx="267.01" cy="1780.24" r="1.35"/>
<circle cx="229.9" cy="1783.79" r="1.35"/>
<circle cx="234.2" cy="1784.42" r="1.35"/>
<circle cx="237.87" cy="1783.8" r="1.35"/>
<circle cx="241.48" cy="1783.74" r="1.35"/>
<circle cx="244.97" cy="1784.36" r="1.35"/>
<circle cx="248.54" cy="1784.65" r="1.35"/>
<circle cx="252.39" cy="1784.3" r="1.35"/>
<circle cx="256.36" cy="1783.73" r="1.35"/>
<circle cx="260.14" cy="1784.36" r="1.35"/>
<circle cx="263.37" cy="1784.56" r="1.35"/>
<circle cx="266.96" cy="1784.79" r="1.35"/>
<circle cx="270.91" cy="1784.03" r="1.35"/>
<circle cx="228.51" cy="1787.53" r="1.35"/>
<circle cx="231.74" cy="1787.89" r="1.35"/>
<circle cx="235.34" cy="1787.98" r="1.35"/>
<circle cx="239.2" cy="1787.77" r="1.35"/>
<circle cx="243.49" cy="1787.7" r="1.35"/>
<circle cx="246.93" cy="1787.38" r="1.35"/>
<circle cx="250.1" cy="1787.04" r="1.35"/>
<circle cx="253.92" cy="1787.74" r="1.35"/>
<circle cx="257.85" cy="1787.62" r="1.35"/>
<circle cx="261.92" cy="1787.16" r="1.35"/>
<circle cx="265.08" cy="1787.78" r="1.35"/>
<circle cx="268.62" cy="1787" r="1.35"/>
<circle cx="272.58" cy="1787.13" r="1.35"/>
<circle cx="224.74" cy="1790.67" r="1.35"/>
<circle cx="227.62" cy="1791.11" r="1.35"/>
<circle cx="230.01" cy="1791.15" r="1.35"/>
<circle cx="232.93" cy="1790.56" r="1.35"/>
<circle cx="236" cy="1790.69" r="1.35"/>
<circle cx="238.07" cy="1790.51" r="1.35"/>
<circle cx="241.16" cy="1791.45" r="1.35"/>
<circle cx="243.98" cy="1790.88" r="1.35"/>
<circle cx="246.26" cy="1790.41" r="1.35"/>
<circle cx="249.27" cy="1791.07" r="1.35"/>
<circle cx="251.73" cy="1791.17" r="1.35"/>
<circle cx="254.51" cy="1791.52" r="1.35"/>
<circle cx="257.44" cy="1790.7" r="1.35"/>
<circle cx="260.27" cy="1790.45" r="1.35"/>
<circle cx="262.68" cy="1790.89" r="1.35"/>
<circle cx="265.14" cy="1790.47" r="1.35"/>
<circle cx="268.27" cy="1790.41" r="1.35"/>
<circle cx="270.79" cy="1791.53" r="1.35"/>
<circle cx="273.16" cy="1790.64" r="1.35"/>
<circle cx="276.24" cy="1791.01" r="1.35"/>
<circle cx="224.96" cy="1794.08" r="1.35"/>
<circle cx="227.29" cy="1793.47" r="1.35"/>
<circle cx="230.09" cy="1793.16" r="1.35"/>
<circle cx="233.26" cy="1794.04" r="1.35"/>
<circle cx="235.82" cy="1793.11" r="1.35"/>
<circle cx="238.63" cy="1793.99" r="1.35"/>
<circle cx="241.02" cy="1793.99" r="1.35"/>
<circle cx="243.71" cy="1793.37" r="1.35"/>
<circle cx="246.13" cy="1793.38" r="1.35"/>
<circle cx="248.78" cy="1793.5" r="1.35"/>
<circle cx="252.05" cy="1793.93" r="1.35"/>
<circle cx="254.83" cy="1793.95" r="1.35"/>
<circle cx="257.06" cy="1793.76" r="1.35"/>
<circle cx="259.9" cy="1794.05" r="1.35"/>
<circle cx="262.67" cy="1793.42" r="1.35"/>
<circle cx="265.46" cy="1794.26" r="1.35"/>
<circle cx="267.82" cy="1794.16" r="1.35"/>
<circle cx="270.36" cy="1793.41" r="1.35"/>
<circle cx="273.24" cy="1793.99" r="1.35"/>
<circle cx="276.51" cy="1794" r="1.35"/>
<circle cx="224.71" cy="1796.86" r="1.35"/>
<circle cx="227.41" cy="1796.09" r="1.35"/>
<circle cx="230.58" cy="1796.56" r="1.35"/>
<circle cx="233.1" cy="1796.6" r="1.35"/>
<circle cx="236.03" cy="1796.36" r="1.35"/>
<circle cx="238.62" cy="1796.64" r="1.35"/>
<circle cx="241.34" cy="1796.32" r="1.35"/>
<circle cx="243.93" cy="1796.48" r="1.35"/>
<circle cx="246.3" cy="1796.05" r="1.35"/>
<circle cx="249.25" cy="1795.89" r="1.35"/>
<circle cx="252.18" cy="1795.97" r="1.35"/>
<circle cx="254.17" cy="1795.93" r="1.35"/>
<circle cx="257.59" cy="1796.21" r="1.35"/>
<circle cx="259.66" cy="1795.83" r="1.35"/>
<circle cx="262.28" cy="1796.63" r="1.35"/>
<circle cx="265.46" cy="1796.64" r="1.35"/>
<circle cx="268.24" cy="1795.88" r="1.35"/>
<circle cx="270.82" cy="1796.24" r="1.35"/>
<circle cx="273.7" cy="1796.78" r="1.35"/>
<circle cx="276.46" cy="1795.88" r="1.35"/>
<circle cx="225.14" cy="1799.6" r="1.35"/>
<circle cx="227.91" cy="1798.63" r="1.35"/>
<circle cx="230.01" cy="1798.63" r="1.35"/>
<circle cx="232.58" cy="1799.52" r="1.35"/>
<circle cx="235.9" cy="1799.26" r="1.35"/>
<circle cx="238.61" cy="1799.26" r="1.35"/>
<circle cx="240.88" cy="1798.62" r="1.35"/>
<circle cx="243.43" cy="1799.41" r="1.35"/>
<circle cx="246.21" cy="1798.88" r="1.35"/>
<circle cx="249.09" cy="1798.53" r="1.35"/>
<circle cx="251.66" cy="1798.84" r="1.35"/>
<circle cx="254.72" cy="1798.94" r="1.35"/>
<circle cx="257.11" cy="1799.66" r="1.35"/>
<circle cx="259.95" cy="1799.52" r="1.35"/>
<circle cx="262.74" cy="1798.54" r="1.35"/>
<circle cx="265.28" cy="1799.02" r="1.35"/>
<circle cx="268.27" cy="1798.92" r="1.35"/>
<circle cx="270.91" cy="1799.15" r="1.35"/>
<circle cx="273.22" cy="1799.53" r="1.35"/>
<circle cx="275.82" cy="1799.48" r="1.35"/>
<circle cx="224.59" cy="1801.2" r="1.35"/>
<circle cx="227.31" cy="1802.11" r="1.35"/>
<circle cx="230.63" cy="1801.21" r="1.35"/>
<circle cx="232.94" cy="1801.79" r="1.35"/>
<circle cx="235.89" cy="1801.42" r="1.35"/>
<circle cx="238.35" cy="1801.62" r="1.35"/>
<circle cx="241.32" cy="1801.51" r="1.35"/>
<circle cx="244.11" cy="1801.54" r="1.35"/>
<circle cx="246.22" cy="1802.04" r="1.35"/>
<circle cx="249.15" cy="1801.33" r="1.35"/>
<circle cx="251.96" cy="1801.3" r="1.35"/>
<circle cx="254.78" cy="1802.04" r="1.35"/>
<circle cx="257.48" cy="1801.95" r="1.35"/>
<circle cx="259.83" cy="1801.68" r="1.35"/>
<circle cx="262.57" cy="1802.27" r="1.35"/>
<circle cx="265.02" cy="1802.27" r="1.35"/>
<circle cx="267.67" cy="1801.45" r="1.35"/>
<circle cx="270.56" cy="1802.28" r="1.35"/>
<circle cx="273.45" cy="1801.66" r="1.35"/>
<circle cx="276.46" cy="1801.48" r="1.35"/>
<circle cx="224.82" cy="1804.54" r="1.35"/>
<circle cx="227.75" cy="1804.8" r="1.35"/>
<circle cx="230.37" cy="1804.32" r="1.35"/>
<circle cx="232.81" cy="1804.09" r="1.35"/>
<circle cx="235.92" cy="1804.69" r="1.35"/>
<circle cx="238.54" cy="1804.1" r="1.35"/>
<circle cx="241" cy="1804.83" r="1.35"/>
<circle cx="243.81" cy="1804.05" r="1.35"/>
<circle cx="246.42" cy="1804.96" r="1.35"/>
<circle cx="248.94" cy="1804.13" r="1.35"/>
<circle cx="251.69" cy="1804.74" r="1.35"/>
<circle cx="254.82" cy="1804.09" r="1.35"/>
<circle cx="256.97" cy="1804.2" r="1.35"/>
<circle cx="259.81" cy="1804.53" r="1.35"/>
<circle cx="262.38" cy="1804.29" r="1.35"/>
<circle cx="265.1" cy="1805.07" r="1.35"/>
<circle cx="268.23" cy="1804.02" r="1.35"/>
<circle cx="271.12" cy="1804.02" r="1.35"/>
<circle cx="273.36" cy="1805.08" r="1.35"/>
<circle cx="276.39" cy="1804.78" r="1.35"/>
<circle cx="224.8" cy="1806.84" r="1.35"/>
<circle cx="227.66" cy="1806.73" r="1.35"/>
<circle cx="230.02" cy="1807.07" r="1.35"/>
<circle cx="232.58" cy="1807.08" r="1.35"/>
<circle cx="235.88" cy="1807.43" r="1.35"/>
<circle cx="238.35" cy="1807.36" r="1.35"/>
<circle cx="241.02" cy="1806.77" r="1.35"/>
<circle cx="243.83" cy="1807.09" r="1.35"/>
<circle cx="246.64" cy="1807.69" r="1.35"/>
<circle cx="249.09" cy="1807.29" r="1.35"/>
<circle cx="252.05" cy="1807.11" r="1.35"/>
<circle cx="254.33" cy="1807.47" r="1.35"/>
<circle cx="257.55" cy="1807.53" r="1.35"/>
<circle cx="260.11" cy="1807.62" r="1.35"/>
<circle cx="262.79" cy="1807.37" r="1.35"/>
<circle cx="265.31" cy="1806.98" r="1.35"/>
<circle cx="268.15" cy="1806.72" r="1.35"/>
<circle cx="270.69" cy="1807.54" r="1.35"/>
<circle cx="273.62" cy="1807.36" r="1.35"/>
<circle cx="275.95" cy="1807.11" r="1.35"/>
<circle cx="224.81" cy="1810.05" r="1.35"/>
<circle cx="227.48" cy="1810.11" r="1.35"/>
<circle cx="230.59" cy="1809.52" r="1.35"/>
<circle cx="233.07" cy="1810.23" r="1.35"/>
<circle cx="235.56" cy="1809.89" r="1.35"/>
<circle cx="238.73" cy="1809.35" r="1.35"/>
<circle cx="241.08" cy="1809.49" r="1.35"/>
<circle cx="243.98" cy="1810.43" r="1.35"/>
<circle cx="246.47" cy="1809.42" r="1.35"/>
<circle cx="249.21" cy="1809.95" r="1.35"/>
<circle cx="252.02" cy="1809.91" r="1.35"/>
<circle cx="254.66" cy="1810.29" r="1.35"/>
<circle cx="257.27" cy="1809.79" r="1.35"/>
<circle cx="260.31" cy="1809.55" r="1.35"/>
<circle cx="262.8" cy="1809.77" r="1.35"/>
<circle cx="265.56" cy="1809.45" r="1.35"/>
<circle cx="268.44" cy="1809.73" r="1.35"/>
<circle cx="270.4" cy="1809.63" r="1.35"/>
<circle cx="273.37" cy="1809.32" r="1.35"/>
<circle cx="276.08" cy="1809.8" r="1.35"/>
<circle cx="225.01" cy="1812.42" r="1.35"/>
<circle cx="227.36" cy="1812.27" r="1.35"/>
<circle cx="230.44" cy="1813.13" r="1.35"/>
<circle cx="232.97" cy="1812.26" r="1.35"/>
<circle cx="235.89" cy="1812.47" r="1.35"/>
<circle cx="238.12" cy="1812.16" r="1.35"/>
<circle cx="241.27" cy="1812.97" r="1.35"/>
<circle cx="243.86" cy="1812.56" r="1.35"/>
<circle cx="246.5" cy="1812.27" r="1.35"/>
<circle cx="249.52" cy="1812.42" r="1.35"/>
<circle cx="251.96" cy="1812.98" r="1.35"/>
<circle cx="254.8" cy="1812.56" r="1.35"/>
<circle cx="257.09" cy="1812.66" r="1.35"/>
<circle cx="259.65" cy="1813" r="1.35"/>
<circle cx="262.53" cy="1813.02" r="1.35"/>
<circle cx="265.16" cy="1812.45" r="1.35"/>
<circle cx="267.85" cy="1812.51" r="1.35"/>
<circle cx="270.5" cy="1812" r="1.35"/>
<circle cx="273.63" cy="1812.34" r="1.35"/>
<circle cx="275.95" cy="1812.36" r="1.35"/>
<circle cx="224.83" cy="1815.21" r="1.35"/>
<circle cx="227.66" cy="1815.49" r="1.35"/>
<circle cx="230.14" cy="1815.81" r="1.35"/>
<circle cx="233.23" cy="1814.77" r="1.35"/>
<circle cx="235.91" cy="1815.79" r="1.35"/>
<circle cx="238.58" cy="1814.87" r="1.35"/>
<circle cx="241.32" cy="1815.46" r="1.35"/>
<circle cx="243.36" cy="1814.71" r="1.35"/>
<circle cx="246.81" cy="1815.49" r="1.35"/>
<circle cx="248.95" cy="1814.82" r="1.35"/>
<circle cx="251.56" cy="1814.98" r="1.35"/>
<circle cx="254.77" cy="1815.12" r="1.35"/>
<circle cx="256.97" cy="1815.78" r="1.35"/>
<circle cx="260.18" cy="1814.9" r="1.35"/>
<circle cx="262.96" cy="1815.43" r="1.35"/>
<circle cx="265.58" cy="1815.5" r="1.35"/>
<circle cx="268.37" cy="1815.65" r="1.35"/>
<circle cx="271.02" cy="1814.94" r="1.35"/>
<circle cx="273.6" cy="1815.34" r="1.35"/>
<circle cx="276.34" cy="1815.23" r="1.35"/>
<circle cx="225.16" cy="1818.07" r="1.35"/>
<circle cx="227.36" cy="1817.68" r="1.35"/>
<circle cx="229.96" cy="1817.99" r="1.35"/>
<circle cx="232.6" cy="1817.96" r="1.35"/>
<circle cx="235.37" cy="1817.99" r="1.35"/>
<circle cx="238.35" cy="1818.05" r="1.35"/>
<circle cx="241.34" cy="1817.41" r="1.35"/>
<circle cx="244.02" cy="1817.96" r="1.35"/>
<circle cx="246.5" cy="1818.2" r="1.35"/>
<circle cx="249.42" cy="1817.85" r="1.35"/>
<circle cx="251.79" cy="1818.55" r="1.35"/>
<circle cx="254.21" cy="1818.16" r="1.35"/>
<circle cx="257.36" cy="1817.43" r="1.35"/>
<circle cx="260.04" cy="1818.22" r="1.35"/>
<circle cx="263" cy="1817.8" r="1.35"/>
<circle cx="265.74" cy="1818.01" r="1.35"/>
<circle cx="268.04" cy="1818.48" r="1.35"/>
<circle cx="270.38" cy="1818.26" r="1.35"/>
<circle cx="273.55" cy="1817.81" r="1.35"/>
<circle cx="276.44" cy="1817.84" r="1.35"/>
<circle cx="224.83" cy="1820.73" r="1.35"/>
<circle cx="227.77" cy="1820.35" r="1.35"/>
<circle cx="230.2" cy="1820.61" r="1.35"/>
<circle cx="232.99" cy="1821.09" r="1.35"/>
<circle cx="235.48" cy="1821.09" r="1.35"/>
<circle cx="238.27" cy="1820.7" r="1.35"/>
<circle cx="240.87" cy="1820.71" r="1.35"/>
<circle cx="244.13" cy="1820.89" r="1.35"/>
<circle cx="246.68" cy="1820.5" r="1.35"/>
<circle cx="249" cy="1820.46" r="1.35"/>
<circle cx="251.92" cy="1820.86" r="1.35"/>
<circle cx="254.78" cy="1820.15" r="1.35"/>
<circle cx="257.43" cy="1821.16" r="1.35"/>
<circle cx="259.99" cy="1820.16" r="1.35"/>
<circle cx="262.49" cy="1820.11" r="1.35"/>
<circle cx="265.1" cy="1821.21" r="1.35"/>
<circle cx="268.14" cy="1820.89" r="1.35"/>
<circle cx="270.98" cy="1821.19" r="1.35"/>
<circle cx="273.54" cy="1820.84" r="1.35"/>
<circle cx="276.25" cy="1820.94" r="1.35"/>
<circle cx="320.78" cy="1646.22" r="1.35"/>
<circle cx="320.47" cy="1650.2" r="1.35"/>
<circle cx="320.67" cy="1657.32" r="1.35"/>
<circle cx="320.38" cy="1679.62" r="1.35"/>
<circle cx="318.73" cy="1684.33" r="1.35"/>
<circle cx="322.63" cy="1684.19" r="1.35"/>
<circle cx="320.6" cy="1700.39" r="1.35"/>
<circle cx="320.93" cy="1716.07" r="1.35"/>
<circle cx="320.51" cy="1712.76" r="1.35"/>
<circle cx="320.64" cy="1759.78" r="1.35"/>
<circle cx="320.64" cy="1780.17" r="1.35"/>
<circle cx="321.05" cy="1787.47" r="1.35"/>
<circle cx="320.75" cy="1794.45" r="1.35"/>
<circle cx="318.8" cy="1800.37" r="1.35"/>
<circle cx="322.36" cy="1800.5" r="1.35"/>
<circle cx="320.66" cy="1805.42" r="1.35"/>
<circle cx="319.01" cy="1812.11" r="1.35"/>
<circle cx="322.65" cy="1812.58" r="1.35"/>
<circle cx="320.68" cy="1818.89" r="1.35"/>
</g>
<line x1="180.4" y1="1575.5" x2="320.7" y2="1575.5" stroke="#666" stroke-width="1.4" stroke-linecap="butt"/>
<line x1="180.4" y1="1574.8" x2="180.4" y2="1606.7" stroke="#666" stroke-width="1.4" stroke-linecap="butt"/>
<line x1="320.7" y1="1574.8" x2="320.7" y2="1606.7" stroke="#666" stroke-width="1.4" stroke-linecap="butt"/>
<text x="176.92" y="1567.3" font-size="32.14" fill="#000" textLength="143.65" lengthAdjust="spacingAndGlyphs">P = 0.016</text>
<line x1="145.8" y1="1559.5" x2="145.8" y2="1829.5" stroke="#000" stroke-width="3.4" stroke-linecap="butt"/>
<line x1="137.1" y1="1562.1" x2="145.8" y2="1562.1" stroke="#000" stroke-width="3" stroke-linecap="butt"/>
<line x1="137.1" y1="1598.4" x2="145.8" y2="1598.4" stroke="#000" stroke-width="3" stroke-linecap="butt"/>
<line x1="137.1" y1="1634.8" x2="145.8" y2="1634.8" stroke="#000" stroke-width="3" stroke-linecap="butt"/>
<line x1="137.1" y1="1671.2" x2="145.8" y2="1671.2" stroke="#000" stroke-width="3" stroke-linecap="butt"/>
<line x1="137.1" y1="1708.2" x2="145.8" y2="1708.2" stroke="#000" stroke-width="3" stroke-linecap="butt"/>
<line x1="137.1" y1="1744.7" x2="145.8" y2="1744.7" stroke="#000" stroke-width="3" stroke-linecap="butt"/>
<line x1="137.1" y1="1781.3" x2="145.8" y2="1781.3" stroke="#000" stroke-width="3" stroke-linecap="butt"/>
<line x1="139.3" y1="1827.8" x2="401.2" y2="1827.8" stroke="#000" stroke-width="3.4" stroke-linecap="butt"/>
<line x1="184.5" y1="1827.8" x2="184.5" y2="1835" stroke="#000" stroke-width="3" stroke-linecap="butt"/>
<line x1="270.5" y1="1827.8" x2="270.5" y2="1835" stroke="#000" stroke-width="3" stroke-linecap="butt"/>
<line x1="356.4" y1="1827.8" x2="356.4" y2="1835" stroke="#000" stroke-width="3" stroke-linecap="butt"/>
<text x="91.79" y="1574.6" font-size="29.57" fill="#000" textLength="34.2" lengthAdjust="spacingAndGlyphs">14</text>
<text x="91.75" y="1610.9" font-size="29.57" fill="#000" textLength="34.89" lengthAdjust="spacingAndGlyphs">12</text>
<text x="91.78" y="1647.3" font-size="29.57" fill="#000" textLength="34.37" lengthAdjust="spacingAndGlyphs">10</text>
<text x="109.77" y="1683.7" font-size="29.57" fill="#000" textLength="16.45" lengthAdjust="spacingAndGlyphs">8</text>
<text x="109.77" y="1720.7" font-size="29.57" fill="#000" textLength="16.45" lengthAdjust="spacingAndGlyphs">6</text>
<text x="109.48" y="1757.2" font-size="29.57" fill="#000" textLength="16.45" lengthAdjust="spacingAndGlyphs">4</text>
<text x="110.07" y="1793.8" font-size="29.57" fill="#000" textLength="16.45" lengthAdjust="spacingAndGlyphs">2</text>
<text x="112.12" y="1836.3" font-size="29" fill="#000" textLength="16.13" lengthAdjust="spacingAndGlyphs">0</text>
<text transform="translate(170.99 1875.42) scale(1 1) rotate(-42)" x="-2.42" y="0" font-size="29.29" fill="#000" textLength="38.74" lengthAdjust="spacingAndGlyphs">No</text>
<text transform="translate(228.01 1901.52) scale(1 1) rotate(-42)" x="-0.15" y="0" font-size="29.29" fill="#000" textLength="74.09" lengthAdjust="spacingAndGlyphs">Weak</text>
<text transform="translate(331.74 1885.46) scale(1 1) rotate(-42)" x="-0.8" y="0" font-size="29.29" fill="#000" textLength="51.96" lengthAdjust="spacingAndGlyphs">Yes</text>
<line x1="156.8" y1="1909.5" x2="368.9" y2="1909.5" stroke="#000" stroke-width="1.8" stroke-linecap="butt"/>
<text x="76.15" y="1949.5" font-size="31.57" fill="#000" textLength="376.5" lengthAdjust="spacingAndGlyphs">Lurasidone-sensitive cell</text>
<text x="236.58" y="1980.4" font-size="31.57" fill="#000" textLength="55.48" lengthAdjust="spacingAndGlyphs">line</text>
<text transform="translate(39.8 1835.8) rotate(-90)" x="-2.59" y="0" font-size="33.43" fill="#000" textLength="273.07" lengthAdjust="spacingAndGlyphs">LCN2 basal mRNA</text>
<text transform="translate(85.3 1796.8) rotate(-90)" x="-2.14" y="0" font-size="33.43" fill="#000" textLength="196.67" lengthAdjust="spacingAndGlyphs">log2 (TRP+1)</text>
<text x="458.64" y="1529.29" font-size="54.33" fill="#000" textLength="17.41" lengthAdjust="spacingAndGlyphs" font-weight="bold">j</text>
<path d="M653.7 1829.7 V1689.9 H695.5 V1829.7" fill="#fff" stroke="#1e14f0" stroke-width="3.8" stroke-linejoin="miter"/>
<path d="M737.2 1829.7 V1623.2 H779.7 V1829.7" fill="#fff" stroke="#a9221d" stroke-width="3.8" stroke-linejoin="miter"/>
<line x1="674.6" y1="1683" x2="674.6" y2="1693" stroke="#1e14f0" stroke-width="3.6" stroke-linecap="butt"/>
<line x1="663.1" y1="1683" x2="686.1" y2="1683" stroke="#1e14f0" stroke-width="3.6" stroke-linecap="butt"/>
<line x1="663.1" y1="1693" x2="686.1" y2="1693" stroke="#1e14f0" stroke-width="3.6" stroke-linecap="butt"/>
<line x1="758.1" y1="1599.9" x2="758.1" y2="1639.6" stroke="#a9221d" stroke-width="3.6" stroke-linecap="butt"/>
<line x1="746.2" y1="1599.9" x2="770" y2="1599.9" stroke="#a9221d" stroke-width="3.6" stroke-linecap="butt"/>
<line x1="746.2" y1="1639.6" x2="770" y2="1639.6" stroke="#a9221d" stroke-width="3.6" stroke-linecap="butt"/>
<circle cx="663.07" cy="1679.2" r="5.6" fill="#1e14f0"/>
<circle cx="683.41" cy="1686.21" r="5.6" fill="#1e14f0"/>
<circle cx="663.07" cy="1694.63" r="5.6" fill="#1e14f0"/>
<circle cx="758.11" cy="1586.26" r="5.6" fill="#a9221d"/>
<circle cx="758.11" cy="1616.77" r="5.6" fill="#a9221d"/>
<circle cx="758.11" cy="1655.35" r="5.6" fill="#a9221d"/>
<line x1="625.5" y1="1556.5" x2="625.5" y2="1831.2" stroke="#000" stroke-width="3" stroke-linecap="butt"/>
<line x1="617.5" y1="1556.5" x2="625.5" y2="1556.5" stroke="#000" stroke-width="3" stroke-linecap="butt"/>
<line x1="617.5" y1="1625.5" x2="625.5" y2="1625.5" stroke="#000" stroke-width="3" stroke-linecap="butt"/>
<line x1="617.5" y1="1693.2" x2="625.5" y2="1693.2" stroke="#000" stroke-width="3" stroke-linecap="butt"/>
<line x1="617.5" y1="1761.6" x2="625.5" y2="1761.6" stroke="#000" stroke-width="3" stroke-linecap="butt"/>
<line x1="617.5" y1="1829.7" x2="625.5" y2="1829.7" stroke="#000" stroke-width="3" stroke-linecap="butt"/>
<line x1="617.5" y1="1829.7" x2="807.9" y2="1829.7" stroke="#000" stroke-width="3" stroke-linecap="butt"/>
<line x1="674.2" y1="1829.7" x2="674.2" y2="1837.7" stroke="#000" stroke-width="3" stroke-linecap="butt"/>
<line x1="757.9" y1="1829.7" x2="757.9" y2="1837.7" stroke="#000" stroke-width="3" stroke-linecap="butt"/>
<text x="560.2" y="1570" font-size="33.86" fill="#000" textLength="47.4" lengthAdjust="spacingAndGlyphs">2.0</text>
<text x="559.28" y="1639" font-size="33.86" fill="#000" textLength="48.52" lengthAdjust="spacingAndGlyphs">1.5</text>
<text x="559.29" y="1706.7" font-size="33.86" fill="#000" textLength="48.33" lengthAdjust="spacingAndGlyphs">1.0</text>
<text x="560.54" y="1775.1" font-size="33.86" fill="#000" textLength="47.22" lengthAdjust="spacingAndGlyphs">0.5</text>
<text x="588.79" y="1843.2" font-size="33.86" fill="#000" textLength="18.83" lengthAdjust="spacingAndGlyphs">0</text>
<text x="640.43" y="1560.7" font-size="33.57" fill="#000" textLength="143.96" lengthAdjust="spacingAndGlyphs">P=0.0294</text>
<line x1="669.4" y1="1570.5" x2="749.3" y2="1570.5" stroke="#000" stroke-width="3.6" stroke-linecap="butt"/>
<text transform="translate(634.97 1886.42) scale(1 1) rotate(-31.5)" x="-0.15" y="0" font-size="29.29" fill="#000" textLength="50.49" lengthAdjust="spacingAndGlyphs">Veh</text>
<text transform="translate(712.16 1884.58) scale(1 1) rotate(-31.5)" x="-2.34" y="0" font-size="29.29" fill="#000" textLength="58.62" lengthAdjust="spacingAndGlyphs">Lura</text>
<text transform="translate(536 1871) rotate(-90)" x="-2.48" y="0" font-size="30.71" fill="#000" textLength="358.7" lengthAdjust="spacingAndGlyphs">FerroOrange MFI (X1000)</text>
<path d="M1004.4 1830.7 V1766.7 H1046.2 V1830.7" fill="#fff" stroke="#1e14f0" stroke-width="3.8" stroke-linejoin="miter"/>
<path d="M1087.6 1830.7 V1661.5 H1130.4 V1830.7" fill="#fff" stroke="#a9221d" stroke-width="3.8" stroke-linejoin="miter"/>
<line x1="1025.3" y1="1753.5" x2="1025.3" y2="1771.8" stroke="#1e14f0" stroke-width="3.6" stroke-linecap="butt"/>
<line x1="1013.8" y1="1753.5" x2="1036.8" y2="1753.5" stroke="#1e14f0" stroke-width="3.6" stroke-linecap="butt"/>
<line x1="1013.8" y1="1771.8" x2="1036.8" y2="1771.8" stroke="#1e14f0" stroke-width="3.6" stroke-linecap="butt"/>
<line x1="1108.8" y1="1639.6" x2="1108.8" y2="1675.7" stroke="#a9221d" stroke-width="3.6" stroke-linecap="butt"/>
<line x1="1096.9" y1="1639.6" x2="1120.7" y2="1639.6" stroke="#a9221d" stroke-width="3.6" stroke-linecap="butt"/>
<line x1="1096.9" y1="1675.7" x2="1120.7" y2="1675.7" stroke="#a9221d" stroke-width="3.6" stroke-linecap="butt"/>
<circle cx="1025.35" cy="1744.78" r="5.6" fill="#1e14f0"/>
<circle cx="1025.35" cy="1767.58" r="5.6" fill="#1e14f0"/>
<circle cx="1025.35" cy="1778.1" r="5.6" fill="#1e14f0"/>
<circle cx="1108.81" cy="1623.09" r="5.6" fill="#a9221d"/>
<circle cx="1108.81" cy="1666.93" r="5.6" fill="#a9221d"/>
<circle cx="1108.81" cy="1682.71" r="5.6" fill="#a9221d"/>
<line x1="976.2" y1="1557.9" x2="976.2" y2="1832.2" stroke="#000" stroke-width="3" stroke-linecap="butt"/>
<line x1="968.2" y1="1557.9" x2="976.2" y2="1557.9" stroke="#000" stroke-width="3" stroke-linecap="butt"/>
<line x1="968.2" y1="1613.3" x2="976.2" y2="1613.3" stroke="#000" stroke-width="3" stroke-linecap="butt"/>
<line x1="968.2" y1="1667.6" x2="976.2" y2="1667.6" stroke="#000" stroke-width="3" stroke-linecap="butt"/>
<line x1="968.2" y1="1722" x2="976.2" y2="1722" stroke="#000" stroke-width="3" stroke-linecap="butt"/>
<line x1="968.2" y1="1777" x2="976.2" y2="1777" stroke="#000" stroke-width="3" stroke-linecap="butt"/>
<line x1="968.2" y1="1830.7" x2="976.2" y2="1830.7" stroke="#000" stroke-width="3" stroke-linecap="butt"/>
<line x1="968.2" y1="1830.7" x2="1158.6" y2="1830.7" stroke="#000" stroke-width="3" stroke-linecap="butt"/>
<line x1="1025.3" y1="1830.7" x2="1025.3" y2="1838.7" stroke="#000" stroke-width="3" stroke-linecap="butt"/>
<line x1="1108.8" y1="1830.7" x2="1108.8" y2="1838.7" stroke="#000" stroke-width="3" stroke-linecap="butt"/>
<text x="909.47" y="1571.4" font-size="33.86" fill="#000" textLength="48.76" lengthAdjust="spacingAndGlyphs">1.0</text>
<text x="910.73" y="1626.8" font-size="33.86" fill="#000" textLength="47.65" lengthAdjust="spacingAndGlyphs">0.8</text>
<text x="910.73" y="1681.1" font-size="33.86" fill="#000" textLength="47.65" lengthAdjust="spacingAndGlyphs">0.6</text>
<text x="910.74" y="1735.5" font-size="33.86" fill="#000" textLength="47.29" lengthAdjust="spacingAndGlyphs">0.4</text>
<text x="910.72" y="1790.5" font-size="33.86" fill="#000" textLength="48.01" lengthAdjust="spacingAndGlyphs">0.2</text>
<text x="939.39" y="1844.2" font-size="33.86" fill="#000" textLength="18.83" lengthAdjust="spacingAndGlyphs">0</text>
<text x="992.1" y="1565.2" font-size="33.57" fill="#000" textLength="145.37" lengthAdjust="spacingAndGlyphs">P=0.0067</text>
<line x1="1019" y1="1571.9" x2="1100" y2="1571.9" stroke="#000" stroke-width="3.6" stroke-linecap="butt"/>
<text transform="translate(986.07 1887.32) scale(1 1) rotate(-31.5)" x="-0.15" y="0" font-size="29.29" fill="#000" textLength="50.49" lengthAdjust="spacingAndGlyphs">Veh</text>
<text transform="translate(1063.06 1885.38) scale(1 1) rotate(-31.5)" x="-2.34" y="0" font-size="29.29" fill="#000" textLength="58.62" lengthAdjust="spacingAndGlyphs">Lura</text>
<text transform="translate(857 1827.2) rotate(-90)" x="-2.46" y="0" font-size="30" fill="#000" textLength="251.03" lengthAdjust="spacingAndGlyphs">Relative lipid-ROS</text>
<text transform="translate(894.5 1802.6) rotate(-90)" x="-1.32" y="0" font-size="30" fill="#000" textLength="198.75" lengthAdjust="spacingAndGlyphs">of neutrophils</text>
<text x="1171.7" y="1529.4" font-size="56.41" fill="#000" textLength="30.16" lengthAdjust="spacingAndGlyphs" font-weight="bold">k</text>
<path d="M1305.8 1834.5 V1731.7 H1341.3 V1834.5" fill="#fff" stroke="#000" stroke-width="3.4" stroke-linejoin="miter"/>
<path d="M1366.5 1834.5 V1671 H1402.7 V1834.5" fill="#fff" stroke="#a9221d" stroke-width="3.4" stroke-linejoin="miter"/>
<path d="M1427.8 1834.5 V1659.1 H1463.9 V1834.5" fill="#fff" stroke="#1e14f0" stroke-width="3.4" stroke-linejoin="miter"/>
<line x1="1323.5" y1="1723" x2="1323.5" y2="1734.2" stroke="#000" stroke-width="3.6" stroke-linecap="butt"/>
<line x1="1312" y1="1723" x2="1335" y2="1723" stroke="#000" stroke-width="3.6" stroke-linecap="butt"/>
<line x1="1312" y1="1734.2" x2="1335" y2="1734.2" stroke="#000" stroke-width="3.6" stroke-linecap="butt"/>
<line x1="1384.6" y1="1662.2" x2="1384.6" y2="1674.9" stroke="#a9221d" stroke-width="3.6" stroke-linecap="butt"/>
<line x1="1373.1" y1="1662.2" x2="1396.1" y2="1662.2" stroke="#a9221d" stroke-width="3.6" stroke-linecap="butt"/>
<line x1="1373.1" y1="1674.9" x2="1396.1" y2="1674.9" stroke="#a9221d" stroke-width="3.6" stroke-linecap="butt"/>
<line x1="1445.9" y1="1646.7" x2="1445.9" y2="1667" stroke="#1e14f0" stroke-width="3.6" stroke-linecap="butt"/>
<line x1="1434.4" y1="1646.7" x2="1457.4" y2="1646.7" stroke="#1e14f0" stroke-width="3.6" stroke-linecap="butt"/>
<line x1="1434.4" y1="1667" x2="1457.4" y2="1667" stroke="#1e14f0" stroke-width="3.6" stroke-linecap="butt"/>
<circle cx="1323.28" cy="1718.14" r="5.2" fill="#000"/>
<circle cx="1331.75" cy="1728.59" r="5.2" fill="#000"/>
<circle cx="1314.8" cy="1737.63" r="5.2" fill="#000"/>
<circle cx="1376.1" cy="1657.97" r="5.2" fill="#a9221d"/>
<circle cx="1393.05" cy="1666.44" r="5.2" fill="#a9221d"/>
<circle cx="1384.58" cy="1682.82" r="5.2" fill="#a9221d"/>
<circle cx="1445.88" cy="1638.19" r="5.2" fill="#1e14f0"/>
<circle cx="1445.88" cy="1657.4" r="5.2" fill="#1e14f0"/>
<circle cx="1445.88" cy="1673.5" r="5.2" fill="#1e14f0"/>
<line x1="1282" y1="1607.7" x2="1282" y2="1835.9" stroke="#000" stroke-width="2.8" stroke-linecap="butt"/>
<line x1="1274.4" y1="1607.7" x2="1282" y2="1607.7" stroke="#000" stroke-width="2.8" stroke-linecap="butt"/>
<line x1="1274.4" y1="1664.5" x2="1282" y2="1664.5" stroke="#000" stroke-width="2.8" stroke-linecap="butt"/>
<line x1="1274.4" y1="1721" x2="1282" y2="1721" stroke="#000" stroke-width="2.8" stroke-linecap="butt"/>
<line x1="1274.4" y1="1778" x2="1282" y2="1778" stroke="#000" stroke-width="2.8" stroke-linecap="butt"/>
<line x1="1274.4" y1="1834.5" x2="1282" y2="1834.5" stroke="#000" stroke-width="2.8" stroke-linecap="butt"/>
<line x1="1274.4" y1="1834.5" x2="1487.1" y2="1834.5" stroke="#000" stroke-width="2.8" stroke-linecap="butt"/>
<line x1="1322.7" y1="1834.5" x2="1322.7" y2="1843.5" stroke="#000" stroke-width="2.8" stroke-linecap="butt"/>
<line x1="1384.7" y1="1834.5" x2="1384.7" y2="1843.5" stroke="#000" stroke-width="2.8" stroke-linecap="butt"/>
<line x1="1446" y1="1834.5" x2="1446" y2="1843.5" stroke="#000" stroke-width="2.8" stroke-linecap="butt"/>
<text x="1247.87" y="1617.2" font-size="26.86" fill="#000" textLength="14.94" lengthAdjust="spacingAndGlyphs">8</text>
<text x="1247.87" y="1674" font-size="26.86" fill="#000" textLength="14.94" lengthAdjust="spacingAndGlyphs">6</text>
<text x="1247.6" y="1730.5" font-size="26.86" fill="#000" textLength="14.94" lengthAdjust="spacingAndGlyphs">4</text>
<text x="1248.14" y="1787.5" font-size="26.86" fill="#000" textLength="14.94" lengthAdjust="spacingAndGlyphs">2</text>
<text x="1247.73" y="1844" font-size="26.86" fill="#000" textLength="14.94" lengthAdjust="spacingAndGlyphs">0</text>
<text x="1302.84" y="1593" font-size="33.43" fill="#000" textLength="143.35" lengthAdjust="spacingAndGlyphs">P=0.0031</text>
<line x1="1304.1" y1="1604.3" x2="1448.1" y2="1604.3" stroke="#000" stroke-width="3.6" stroke-linecap="butt"/>
<text x="1283.01" y="1640.5" font-size="33.43" fill="#000" textLength="144.99" lengthAdjust="spacingAndGlyphs">P=0.0024</text>
<line x1="1304.1" y1="1647.2" x2="1385.4" y2="1647.2" stroke="#000" stroke-width="3.6" stroke-linecap="butt"/>
<text transform="translate(1289.33 1893.86) scale(1 1) rotate(-50.5)" x="-0.14" y="0" font-size="28.57" fill="#000" textLength="46.8" lengthAdjust="spacingAndGlyphs">Veh</text>
<text transform="translate(1267.44 2000.23) scale(1 1) rotate(-50.5)" x="-0.81" y="0" font-size="28.57" fill="#000" textLength="184.09" lengthAdjust="spacingAndGlyphs">ZINC00640089</text>
<text transform="translate(1331.18 2001.14) scale(1 1) rotate(-50.5)" x="-0.81" y="0" font-size="28.57" fill="#000" textLength="184.09" lengthAdjust="spacingAndGlyphs">ZINC00784494</text>
<text transform="translate(1225 1939) rotate(-90)" x="-2.49" y="0" font-size="31.43" fill="#000" textLength="360.42" lengthAdjust="spacingAndGlyphs">FerroOrange MFI (X1000)</text>
<path d="M1660.4 1831.6 V1768.4 H1695.1 V1831.6" fill="#fff" stroke="#000" stroke-width="3.4" stroke-linejoin="miter"/>
<path d="M1721.1 1831.6 V1685.6 H1756.7 V1831.6" fill="#fff" stroke="#a9221d" stroke-width="3.4" stroke-linejoin="miter"/>
<path d="M1782.7 1831.6 V1664.7 H1817.4 V1831.6" fill="#fff" stroke="#1e14f0" stroke-width="3.4" stroke-linejoin="miter"/>
<line x1="1677.9" y1="1754.5" x2="1677.9" y2="1777.1" stroke="#000" stroke-width="3.6" stroke-linecap="butt"/>
<line x1="1666.4" y1="1754.5" x2="1689.4" y2="1754.5" stroke="#000" stroke-width="3.6" stroke-linecap="butt"/>
<line x1="1666.4" y1="1777.1" x2="1689.4" y2="1777.1" stroke="#000" stroke-width="3.6" stroke-linecap="butt"/>
<line x1="1738.6" y1="1674.9" x2="1738.6" y2="1687.6" stroke="#a9221d" stroke-width="3.6" stroke-linecap="butt"/>
<line x1="1727.1" y1="1674.9" x2="1750.1" y2="1674.9" stroke="#a9221d" stroke-width="3.6" stroke-linecap="butt"/>
<line x1="1727.1" y1="1687.6" x2="1750.1" y2="1687.6" stroke="#a9221d" stroke-width="3.6" stroke-linecap="butt"/>
<line x1="1799.9" y1="1660.8" x2="1799.9" y2="1664.1" stroke="#1e14f0" stroke-width="3.6" stroke-linecap="butt"/>
<line x1="1788.4" y1="1660.8" x2="1811.4" y2="1660.8" stroke="#1e14f0" stroke-width="3.6" stroke-linecap="butt"/>
<line x1="1788.4" y1="1664.1" x2="1811.4" y2="1664.1" stroke="#1e14f0" stroke-width="3.6" stroke-linecap="butt"/>
<circle cx="1677.9" cy="1745.49" r="5.2" fill="#000"/>
<circle cx="1677.9" cy="1769.5" r="5.2" fill="#000"/>
<circle cx="1677.9" cy="1784.47" r="5.2" fill="#000"/>
<circle cx="1739.19" cy="1667.82" r="5.2" fill="#a9221d"/>
<circle cx="1731.56" cy="1690.42" r="5.2" fill="#a9221d"/>
<circle cx="1746.53" cy="1690.42" r="5.2" fill="#a9221d"/>
<circle cx="1783.25" cy="1666.41" r="5.2" fill="#1e14f0"/>
<circle cx="1800.2" cy="1657.94" r="5.2" fill="#1e14f0"/>
<circle cx="1816.29" cy="1660.2" r="5.2" fill="#1e14f0"/>
<line x1="1635.5" y1="1604.3" x2="1635.5" y2="1833" stroke="#000" stroke-width="2.8" stroke-linecap="butt"/>
<line x1="1627.9" y1="1604.3" x2="1635.5" y2="1604.3" stroke="#000" stroke-width="2.8" stroke-linecap="butt"/>
<line x1="1627.9" y1="1661.6" x2="1635.5" y2="1661.6" stroke="#000" stroke-width="2.8" stroke-linecap="butt"/>
<line x1="1627.9" y1="1718.7" x2="1635.5" y2="1718.7" stroke="#000" stroke-width="2.8" stroke-linecap="butt"/>
<line x1="1627.9" y1="1775.2" x2="1635.5" y2="1775.2" stroke="#000" stroke-width="2.8" stroke-linecap="butt"/>
<line x1="1627.9" y1="1831.6" x2="1635.5" y2="1831.6" stroke="#000" stroke-width="2.8" stroke-linecap="butt"/>
<line x1="1627.9" y1="1831.6" x2="1840.9" y2="1831.6" stroke="#000" stroke-width="2.8" stroke-linecap="butt"/>
<line x1="1677.9" y1="1831.6" x2="1677.9" y2="1840.6" stroke="#000" stroke-width="2.8" stroke-linecap="butt"/>
<line x1="1738.6" y1="1831.6" x2="1738.6" y2="1840.6" stroke="#000" stroke-width="2.8" stroke-linecap="butt"/>
<line x1="1799.9" y1="1831.6" x2="1799.9" y2="1840.6" stroke="#000" stroke-width="2.8" stroke-linecap="butt"/>
<text x="1582.53" y="1613.8" font-size="26.86" fill="#000" textLength="40.54" lengthAdjust="spacingAndGlyphs">0.8</text>
<text x="1582.53" y="1671.1" font-size="26.86" fill="#000" textLength="40.54" lengthAdjust="spacingAndGlyphs">0.6</text>
<text x="1582.54" y="1728.2" font-size="26.86" fill="#000" textLength="40.23" lengthAdjust="spacingAndGlyphs">0.4</text>
<text x="1582.52" y="1784.7" font-size="26.86" fill="#000" textLength="40.85" lengthAdjust="spacingAndGlyphs">0.2</text>
<text x="1607.93" y="1841.1" font-size="26.86" fill="#000" textLength="14.94" lengthAdjust="spacingAndGlyphs">0</text>
<text x="1671" y="1596.4" font-size="33.43" fill="#000" textLength="145.58" lengthAdjust="spacingAndGlyphs">P=0.0007</text>
<line x1="1665.2" y1="1605.7" x2="1808.7" y2="1605.7" stroke="#000" stroke-width="3.6" stroke-linecap="butt"/>
<text x="1639.31" y="1646.1" font-size="33.43" fill="#000" textLength="145.06" lengthAdjust="spacingAndGlyphs">P=0.0030</text>
<line x1="1665.2" y1="1655.1" x2="1745.7" y2="1655.1" stroke="#000" stroke-width="3.6" stroke-linecap="butt"/>
<text transform="translate(1644.53 1890.96) scale(1 1) rotate(-50.5)" x="-0.14" y="0" font-size="28.57" fill="#000" textLength="46.8" lengthAdjust="spacingAndGlyphs">Veh</text>
<text transform="translate(1621.34 1997.33) scale(1 1) rotate(-50.5)" x="-0.81" y="0" font-size="28.57" fill="#000" textLength="184.09" lengthAdjust="spacingAndGlyphs">ZINC00640089</text>
<text transform="translate(1685.08 1998.24) scale(1 1) rotate(-50.5)" x="-0.81" y="0" font-size="28.57" fill="#000" textLength="184.09" lengthAdjust="spacingAndGlyphs">ZINC00784494</text>
<text transform="translate(1535.7 1860) rotate(-90)" x="-2.46" y="0" font-size="30.71" fill="#000" textLength="251.03" lengthAdjust="spacingAndGlyphs">Relative lipid-ROS</text>
<text transform="translate(1575.5 1833.1) rotate(-90)" x="-1.31" y="0" font-size="30.71" fill="#000" textLength="197.33" lengthAdjust="spacingAndGlyphs">of neutrophils</text>
<path d="M1979.8 1832.5 V1661.6 H2015.1 V1832.5" fill="#fff" stroke="#000" stroke-width="3.4" stroke-linejoin="miter"/>
<path d="M2041.1 1832.5 V1752 H2075.8 V1832.5" fill="#fff" stroke="#a9221d" stroke-width="3.4" stroke-linejoin="miter"/>
<path d="M2101.8 1832.5 V1723.7 H2137.4 V1832.5" fill="#fff" stroke="#1e14f0" stroke-width="3.4" stroke-linejoin="miter"/>
<line x1="1997" y1="1648" x2="1997" y2="1667.8" stroke="#000" stroke-width="3.6" stroke-linecap="butt"/>
<line x1="1985.5" y1="1648" x2="2008.5" y2="1648" stroke="#000" stroke-width="3.6" stroke-linecap="butt"/>
<line x1="1985.5" y1="1667.8" x2="2008.5" y2="1667.8" stroke="#000" stroke-width="3.6" stroke-linecap="butt"/>
<line x1="2058.3" y1="1743.2" x2="2058.3" y2="1755.4" stroke="#a9221d" stroke-width="3.6" stroke-linecap="butt"/>
<line x1="2046.8" y1="1743.2" x2="2069.8" y2="1743.2" stroke="#a9221d" stroke-width="3.6" stroke-linecap="butt"/>
<line x1="2046.8" y1="1755.4" x2="2069.8" y2="1755.4" stroke="#a9221d" stroke-width="3.6" stroke-linecap="butt"/>
<line x1="2119.4" y1="1713.6" x2="2119.4" y2="1727.1" stroke="#1e14f0" stroke-width="3.6" stroke-linecap="butt"/>
<line x1="2107.9" y1="1713.6" x2="2130.9" y2="1713.6" stroke="#1e14f0" stroke-width="3.6" stroke-linecap="butt"/>
<line x1="2107.9" y1="1727.1" x2="2130.9" y2="1727.1" stroke="#1e14f0" stroke-width="3.6" stroke-linecap="butt"/>
<circle cx="1989.15" cy="1646.64" r="5.2" fill="#000"/>
<circle cx="2004.68" cy="1648.9" r="5.2" fill="#000"/>
<circle cx="1997.05" cy="1679.12" r="5.2" fill="#000"/>
<circle cx="2058.34" cy="1737.58" r="5.2" fill="#a9221d"/>
<circle cx="2058.34" cy="1749.73" r="5.2" fill="#a9221d"/>
<circle cx="2058.34" cy="1761.03" r="5.2" fill="#a9221d"/>
<circle cx="2119.92" cy="1706.52" r="5.2" fill="#1e14f0"/>
<circle cx="2112.01" cy="1730.8" r="5.2" fill="#1e14f0"/>
<circle cx="2128.39" cy="1724.31" r="5.2" fill="#1e14f0"/>
<line x1="1956.1" y1="1604.3" x2="1956.1" y2="1833.9" stroke="#000" stroke-width="2.8" stroke-linecap="butt"/>
<line x1="1948.5" y1="1604.3" x2="1956.1" y2="1604.3" stroke="#000" stroke-width="2.8" stroke-linecap="butt"/>
<line x1="1948.5" y1="1662.2" x2="1956.1" y2="1662.2" stroke="#000" stroke-width="2.8" stroke-linecap="butt"/>
<line x1="1948.5" y1="1719.2" x2="1956.1" y2="1719.2" stroke="#000" stroke-width="2.8" stroke-linecap="butt"/>
<line x1="1948.5" y1="1776" x2="1956.1" y2="1776" stroke="#000" stroke-width="2.8" stroke-linecap="butt"/>
<line x1="1948.5" y1="1832.5" x2="1956.1" y2="1832.5" stroke="#000" stroke-width="2.8" stroke-linecap="butt"/>
<line x1="1948.5" y1="1832.5" x2="2162" y2="1832.5" stroke="#000" stroke-width="2.8" stroke-linecap="butt"/>
<line x1="1997" y1="1832.5" x2="1997" y2="1841.5" stroke="#000" stroke-width="2.8" stroke-linecap="butt"/>
<line x1="2058.3" y1="1832.5" x2="2058.3" y2="1841.5" stroke="#000" stroke-width="2.8" stroke-linecap="butt"/>
<line x1="2119.4" y1="1832.5" x2="2119.4" y2="1841.5" stroke="#000" stroke-width="2.8" stroke-linecap="butt"/>
<text x="1913.09" y="1613.8" font-size="26.86" fill="#000" textLength="29.91" lengthAdjust="spacingAndGlyphs">80</text>
<text x="1912.95" y="1671.7" font-size="26.86" fill="#000" textLength="30.06" lengthAdjust="spacingAndGlyphs">60</text>
<text x="1913.77" y="1728.7" font-size="26.86" fill="#000" textLength="29.21" lengthAdjust="spacingAndGlyphs">40</text>
<text x="1912.95" y="1785.5" font-size="26.86" fill="#000" textLength="30.06" lengthAdjust="spacingAndGlyphs">20</text>
<text x="1928.03" y="1842" font-size="26.86" fill="#000" textLength="14.94" lengthAdjust="spacingAndGlyphs">0</text>
<text x="1988.72" y="1574.6" font-size="33.43" fill="#000" textLength="144.14" lengthAdjust="spacingAndGlyphs">P=0.0077</text>
<line x1="1987.2" y1="1584.5" x2="2130.7" y2="1584.5" stroke="#000" stroke-width="3.6" stroke-linecap="butt"/>
<text x="1961.34" y="1619" font-size="33.43" fill="#000" textLength="143.48" lengthAdjust="spacingAndGlyphs">P=0.0018</text>
<line x1="1987.2" y1="1628.8" x2="2067.7" y2="1628.8" stroke="#000" stroke-width="3.6" stroke-linecap="butt"/>
<text transform="translate(1963.63 1891.86) scale(1 1) rotate(-50.5)" x="-0.14" y="0" font-size="28.57" fill="#000" textLength="46.8" lengthAdjust="spacingAndGlyphs">Veh</text>
<text transform="translate(1941.04 1998.23) scale(1 1) rotate(-50.5)" x="-0.81" y="0" font-size="28.57" fill="#000" textLength="184.09" lengthAdjust="spacingAndGlyphs">ZINC00640089</text>
<text transform="translate(2004.58 1999.14) scale(1 1) rotate(-50.5)" x="-0.81" y="0" font-size="28.57" fill="#000" textLength="184.09" lengthAdjust="spacingAndGlyphs">ZINC00784494</text>
<text transform="translate(1898.2 1869.8) rotate(-90)" x="-2.53" y="0" font-size="31.43" fill="#000" textLength="279.92" lengthAdjust="spacingAndGlyphs">Live neutrophils (%)</text>
</svg></body></html>
